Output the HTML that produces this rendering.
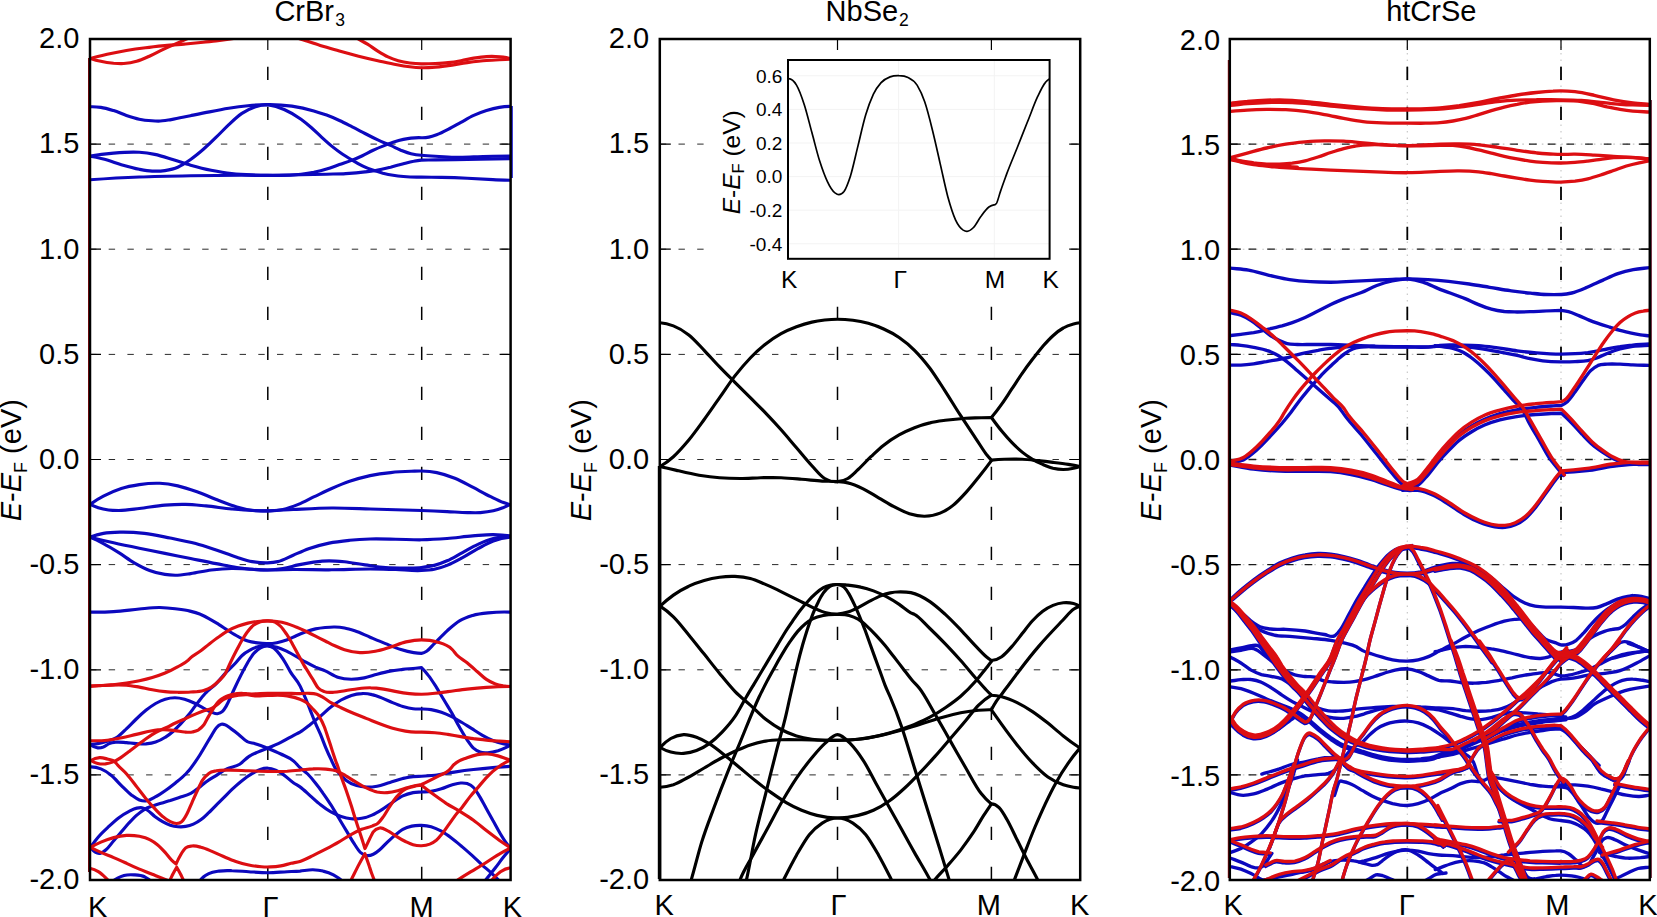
<!DOCTYPE html>
<html lang="en"><head><meta charset="utf-8"><title>Band structures: CrBr3, NbSe2, htCrSe</title>
<style>html,body{margin:0;padding:0;background:#fff}body{width:1657px;height:917px;overflow:hidden}svg{display:block}text{font-family:"Liberation Sans",sans-serif;fill:#000}.t{font-size:29px}.tt{font-size:29px}.s{font-size:17.5px}.s2{font-size:18px}.it{font-size:19px}.il{font-size:24.5px}.is{font-size:16.5px}.i{font-style:italic}.c{fill:none;stroke-width:3.15;stroke-linecap:round;stroke-linejoin:round}.r{stroke:#dc0e12}.b{stroke:#0c08be}.k{stroke:#000000}#panel3 .c{stroke-width:3.35}.g{stroke:#2a2a2a;stroke-width:1;stroke-dasharray:6.4 12.3;fill:none}.v{stroke:#000;stroke-width:1.5;stroke-dasharray:13.3 26.7;fill:none}.tk{stroke:#000;stroke-width:1.2;fill:none}.g3{stroke:#1a1a1a;stroke-width:1.3;stroke-dasharray:7.7 11;fill:none}.gd{stroke:#c4c4c4;stroke-width:1.1;stroke-dasharray:1.6 4.9;fill:none}.v3{stroke:#000;stroke-width:1.8;stroke-dasharray:13.3 26.7;fill:none}.fr{fill:none;stroke:#000;stroke-width:2.5}</style></head><body>
<svg width="1657" height="917" viewBox="0 0 1657 917">
<rect width="1657" height="917" fill="#fff"/>
<defs>
<clipPath id="cp0"><rect x="90" y="39" width="420.6" height="841"/></clipPath>
<clipPath id="cp1"><rect x="659.8" y="39" width="420.4" height="841"/></clipPath>
<clipPath id="cp2"><rect x="1229.8" y="39" width="420" height="841"/></clipPath>
</defs>
<g id="panel1">
<path class="g" d="M90 144.1H510.6"/>
<path class="tk" d="M90 144.1h11M510.6 144.1h-11"/>
<path class="g" d="M90 249.2H510.6"/>
<path class="tk" d="M90 249.2h11M510.6 249.2h-11"/>
<path class="g" d="M90 354.4H510.6"/>
<path class="tk" d="M90 354.4h11M510.6 354.4h-11"/>
<path class="g" d="M90 459.5H510.6"/>
<path class="tk" d="M90 459.5h11M510.6 459.5h-11"/>
<path class="g" d="M90 564.6H510.6"/>
<path class="tk" d="M90 564.6h11M510.6 564.6h-11"/>
<path class="g" d="M90 669.8H510.6"/>
<path class="tk" d="M90 669.8h11M510.6 669.8h-11"/>
<path class="g" d="M90 774.9H510.6"/>
<path class="tk" d="M90 774.9h11M510.6 774.9h-11"/>
<path class="v" d="M267.8 880V39"/>
<path class="tk" d="M267.8 39v11"/>
<path class="v" d="M421.7 880V39"/>
<path class="tk" d="M421.7 39v11"/>
<path d="M89.4 58V872" stroke="#8a0a0e" stroke-width="2.8" fill="none"/>
<path d="M511.4 106V178" stroke="#0a0acd" stroke-width="2.8" fill="none"/>
<g clip-path="url(#cp0)">
<path class="c b" d="M90.6 106.8C94 106.7 97.4 106.9 100.8 107.4C105.1 108 109.3 109.3 113.6 110.6C117.9 111.9 122.1 114 126.4 115.5C130.6 116.9 134.9 118.3 139.2 119.2C143.4 120.1 147.7 120.5 152 120.8C154.1 121 156.2 121.1 158.4 121.1C162.6 121 166.9 120.2 171.2 119.6C177.6 118.6 184 117 190.4 115.7C196.8 114.4 203.1 113.1 209.5 111.9C215.9 110.6 222.3 109.3 228.7 108.3C235.1 107.3 241.5 106.4 247.9 105.7C254.3 105.1 260.7 104.7 267.1 104.6C282.7 104.3 298.2 106.4 313.8 110.9C318.1 112.1 322.3 113.5 326.6 115.1C330.9 116.7 335.1 118.5 339.4 120.5C343.6 122.4 347.9 124.7 352.2 126.9C356.4 129 360.7 131.3 365 133.5C369.2 135.7 373.5 137.9 377.8 139.9C382 141.9 386.3 143.5 390.6 145.4C394 146.9 397.4 148.8 400.8 150.2C404.2 151.5 407.6 152.9 411 153.7C414.4 154.6 417.9 155.1 421.3 155.3C426 155.7 430.6 156 435.3 156.3C441.7 156.7 448.1 157.2 454.5 157.3C460.9 157.4 467.3 157.1 473.7 156.9C480.1 156.8 486.5 156.4 492.9 156.3C498.9 156.2 504.9 156.1 510.8 156"/>
<path class="c b" d="M90.1 156.2C94.5 156.9 98.9 157.9 103.4 159C109.4 160.5 115.4 162.9 121.3 164.7C127.3 166.4 133.3 168.1 139.3 169.3C143.6 170.1 147.8 170.9 152.1 171.1C156.4 171.3 160.7 171.2 164.9 170.6C169.2 169.9 173.5 169.1 177.8 167.2C182 165.4 186.3 162.5 190.6 159.5C194.9 156.5 199.1 153 203.4 149.3C207.7 145.5 212 141.4 216.2 137.2C220.5 133.1 224.8 128.4 229.1 124.4C233.3 120.4 237.6 116.3 241.9 113.4C246.2 110.5 250.4 108.4 254.7 106.9C259 105.5 263.3 104.7 267.5 104.6C278.7 106.3 289.8 111.1 301 119.2C304.4 121.7 307.8 124.5 311.2 127.5C314.6 130.5 318.1 134 321.5 137.1C324.9 140.2 328.3 143.3 331.7 146.1C335.1 148.8 338.5 151.4 341.9 153.7C345.4 156.1 348.8 158.1 352.2 160.1C355.6 162.2 359 164.2 362.4 165.9C365.8 167.6 369.2 168.9 372.6 170.1C376.1 171.3 379.5 172.3 382.9 173.2C386.3 174 389.7 174.7 393.1 175.2C396.5 175.8 399.9 176.2 403.4 176.5C409.3 177.1 415.3 177.3 421.3 177.1C428.1 177.2 434.9 177.3 441.7 177.4C450.3 177.6 458.8 177.9 467.3 178.3C475.9 178.7 484.4 179.2 492.9 179.6C498.9 179.9 504.9 180.1 510.8 180.3"/>
<path class="c b" d="M90.1 156.2C97.9 154.8 105.8 153.8 113.6 153.1C122.2 152.4 130.7 151.7 139.3 152.3C144.4 152.7 149.6 153.4 154.7 154.4C160.7 155.6 166.7 157.7 172.6 159.5C178.6 161.3 184.6 163.5 190.6 165.2C197.4 167.1 204.3 168.9 211.1 170.3C218 171.7 224.8 172.9 231.6 173.6C238.5 174.4 245.3 174.7 252.2 174.9C257.3 175.1 262.4 175.2 267.5 175.2C278.7 175.8 289.8 175.5 301 174.2C305.3 173.7 309.5 173.1 313.8 172.3C318.1 171.4 322.3 170.4 326.6 169.1C330.9 167.8 335.1 166.1 339.4 164.6C343.6 163.1 347.9 161.8 352.2 160.1C355.6 158.8 359 157.3 362.4 155.7C365.8 154.1 369.2 152.1 372.6 150.5C376.1 148.9 379.5 147.4 382.9 146.1C386.3 144.7 389.7 143.3 393.1 142.2C396.5 141.1 399.9 140.1 403.4 139.4C405.9 138.9 408.5 138.4 411 138.1C414.4 137.7 417.9 137.6 421.3 137.7C423.8 137.8 426.4 137.6 428.9 137.1C431.5 136.6 434.1 135.7 436.6 134.8C440.5 133.4 444.3 131.4 448.1 129.4C452.4 127.3 456.7 124.7 460.9 122.4C465.2 120 469.5 117.3 473.7 115.4C478 113.4 482.3 111.8 486.5 110.5C490.8 109.2 495 108.1 499.3 107.4C503.1 106.8 507 106.5 510.8 106.4"/>
<path class="c b" d="M90.1 179.8C106.5 178.6 122.9 177.6 139.3 177C156.4 176.3 173.5 176 190.6 175.7C216.2 175.3 241.9 175.2 267.5 175.4C278.7 175.3 289.8 175.1 301 174.8C309.5 174.7 318.1 174.5 326.6 174.2C333 174 339.4 174 345.8 173.6C352.2 173.2 358.6 172.7 365 171.9C369.2 171.4 373.5 170.9 377.8 170.1C382 169.3 386.3 168.2 390.6 167.2C394.8 166.1 399.1 164.8 403.4 163.7C406.8 162.8 410.2 161.8 413.6 161.2C416.1 160.7 418.7 160.3 421.3 160.1C426 160 430.6 160 435.3 159.9C441.7 159.8 448.1 159.7 454.5 159.6C463.1 159.5 471.6 159.3 480.1 159.1C490.4 158.9 500.6 158.7 510.8 158.6"/>
<path class="c b" d="M90.1 504.4C94.5 501.3 98.9 498.5 103.4 496.2C109.4 493 115.4 490.4 121.3 488.5C127.3 486.5 133.3 485.5 139.3 484.6C146.1 483.6 153 483 159.8 483.3C165.8 483.6 171.8 484.6 177.8 485.9C184.6 487.4 191.5 489.9 198.3 492.3C205.1 494.8 212 497.9 218.8 500.5C224.8 502.8 230.8 505.3 236.8 506.9C241.9 508.4 247 509.6 252.2 510.3C257.3 510.9 262.4 511.1 267.5 510.8C272.7 511 277.8 510.6 282.9 509.5C288.1 508.4 293.2 506.5 298.3 504.4C303.4 502.3 308.6 499.4 313.7 496.9C319.7 494.1 325.7 491.1 331.7 488.5C337.6 485.9 343.6 483.3 349.6 481.3C356.5 479 363.3 477.1 370.1 475.6C377 474.2 383.8 473.3 390.7 472.6C397.5 471.8 404.3 471.5 411.2 471.3C414.6 471.2 418 470.9 421.4 471C426.6 471.2 431.7 471.6 436.8 472.6C442.8 473.8 448.8 475.8 454.8 478.2C460.8 480.7 466.7 484.1 472.7 487.2C478.7 490.3 484.7 493.8 490.7 496.7C495 498.8 499.2 501 503.5 502.6C505.6 503.4 507.8 504 509.9 504.6"/>
<path class="c b" d="M90.1 504.4C92.8 505.7 95.5 506.8 98.3 507.7C101.7 508.8 105.1 509.5 108.5 510C111.9 510.5 115.4 510.5 118.8 510.5C125.6 510.5 132.5 509.3 139.3 508.5C147.8 507.5 156.4 505.8 164.9 505.1C171.8 504.6 178.6 504.2 185.5 504.4C192.3 504.5 199.1 505.3 206 505.9C214.5 506.7 223.1 508.2 231.6 509C238.5 509.6 245.3 510.2 252.2 510.5C257.3 510.7 262.4 510.8 267.5 510.8C276.1 510.7 284.6 509.9 293.2 509.5C306 508.9 318.8 508.1 331.7 508C344.5 507.9 357.3 508.6 370.1 509C387.2 509.5 404.3 509.9 421.4 510.5C430 510.8 438.5 511.2 447.1 511.6C453.9 511.9 460.8 512.5 467.6 512.6C471.9 512.7 476.2 512.9 480.4 512.6C484.7 512.3 489 511.8 493.3 510.8C496.7 510 500.1 508.8 503.5 507.5C505.6 506.6 507.8 505.7 509.9 504.6"/>
<path class="c b" d="M90.1 537.2C94.5 535.5 98.9 534.2 103.4 533.4C109.4 532.2 115.4 532.2 121.3 532.1C129 532 136.7 532.5 144.4 533.4C153 534.3 161.5 536.3 170.1 538C178.6 539.7 187.2 541.3 195.7 543.6C202.6 545.5 209.4 547.8 216.2 550C223.1 552.3 229.9 555.1 236.8 557.2C241.9 558.8 247 560.6 252.2 561.6C257.3 562.5 262.4 563.1 267.5 562.9C271 562.7 274.4 562.4 277.8 561.6C282.9 560.3 288.1 557.3 293.2 555.2C298.3 553 303.4 550.6 308.6 548.7C315.4 546.3 322.3 544.5 329.1 543.1C335.9 541.7 342.8 541 349.6 540.3C356.5 539.6 363.3 539.2 370.1 539C378.7 538.7 387.2 539.1 395.8 539.3C404.3 539.4 412.9 539.9 421.4 539.8C430 539.6 438.5 539.1 447.1 538.5C455.6 537.8 464.2 536.6 472.7 535.9C479.6 535.4 486.4 534.5 493.3 534.6C498.8 534.7 504.4 535.1 509.9 535.9"/>
<path class="c b" d="M90.1 537.2C97.9 539.2 105.8 541.1 113.6 542.8C122.2 544.8 130.7 546.5 139.3 548.2C147.8 550 156.4 551.7 164.9 553.4C173.5 555.1 182 556.8 190.6 558.5C199.1 560.2 207.7 562 216.2 563.6C223.1 564.9 229.9 566.5 236.8 567.5C241.9 568.2 247 568.8 252.2 569.3C257.3 569.7 262.4 570.2 267.5 570C272.7 569.9 277.8 569.4 282.9 568.5C288.1 567.6 293.2 566 298.3 564.9C303.4 563.8 308.6 562.8 313.7 562.1C318.8 561.4 324 560.8 329.1 560.8C334.2 560.8 339.4 561.3 344.5 561.8C351.3 562.5 358.2 564 365 564.9C371.8 565.8 378.7 567 385.5 567.5C392.4 568 399.2 568 406 568C411.2 567.9 416.3 568 421.4 567.5C425.7 567 430 566.5 434.3 565.4C438.5 564.3 442.8 562.7 447.1 560.8C452.2 558.6 457.3 555.3 462.5 552.6C467.6 549.9 472.7 546.7 477.9 544.4C483 542 488.1 539.8 493.3 538.5C498.8 537.1 504.4 536.4 509.9 536.4"/>
<path class="c b" d="M90.1 537.2C94.5 539.1 98.9 541.3 103.4 543.6C108.5 546.3 113.6 549.4 118.8 552.6C123.9 555.8 129 559.9 134.2 562.9C139.3 565.8 144.4 568.6 149.6 570.5C154.7 572.5 159.8 573.7 164.9 574.4C168.4 574.9 171.8 575.1 175.2 575.2C180.3 575.2 185.5 574.3 190.6 573.6C197.4 572.7 204.3 570.9 211.1 570C218 569.2 224.8 568.6 231.6 568.5C238.5 568.4 245.3 569 252.2 569.3C257.3 569.5 262.4 569.9 267.5 570C276.1 570.2 284.6 569.6 293.2 569.5C306 569.4 318.8 569.9 331.7 569.8C344.5 569.7 357.3 569 370.1 569C378.7 569 387.2 569.3 395.8 569.5C404.3 569.8 412.9 571 421.4 570.5C425.7 570.3 430 570.1 434.3 569.3C438.5 568.4 442.8 567.1 447.1 565.4C452.2 563.4 457.3 560.5 462.5 557.7C467.6 554.9 472.7 551.5 477.9 548.7C483 546 488.1 543 493.3 541.1C498.8 539 504.4 537.7 509.9 537.2"/>
<path class="c b" d="M90.1 612.1C97.9 612.2 105.8 612.1 113.6 611.6C122.2 611.1 130.7 609.8 139.3 609C146.1 608.4 153 607.4 159.8 607.5C164.9 607.6 170.1 608.1 175.2 608.8C180.1 609.4 185.1 609.9 190 611.1C193.2 611.9 196.4 612.7 199.7 614C202.9 615.3 206.1 617 209.3 618.8C212.5 620.6 215.7 622.6 219 624.6C222.2 626.6 225.4 628.9 228.6 630.9C231.8 632.9 235.1 635 238.3 636.7C241.5 638.3 244.7 640 247.9 641C251.2 642.1 254.4 642.5 257.6 642.9C261 643.4 264.4 643.7 267.7 643.6C270.8 643.6 273.8 643.3 276.9 642.7C280.1 642.1 283.3 641.2 286.6 640C289.8 638.9 293 637.1 296.2 635.7C299.4 634.3 302.7 633 305.9 631.8C309.1 630.7 312.3 629.7 315.5 628.9C318.7 628.2 322 627.8 325.2 627.5C328.4 627.2 331.6 626.9 334.8 627C338.1 627.1 341.3 627.4 344.5 628C347.9 628.6 351.3 629.7 354.7 630.8C359.9 632.5 365 635.1 370.1 637.2C375.3 639.4 380.4 641.6 385.5 643.6C390.7 645.7 395.8 648 400.9 649.5C405.2 650.9 409.5 652 413.7 652.6C416.3 653 418.9 653.3 421.4 653.4C423.1 653.1 424.9 652.4 426.6 651.3C429.1 649.7 431.7 646.2 434.3 643.6C438.5 639.4 442.8 634.7 447.1 630.8C451.4 627 455.6 623.1 459.9 620.6C464.2 618 468.5 616.7 472.7 615.4C477.9 613.9 483 613.4 488.1 612.9C495.4 612.1 502.7 611.8 509.9 612.1"/>
<path class="c b" d="M90.9 745C93.1 746.7 95.4 747.7 97.7 747.9C99.6 748.1 101.5 747.7 103.4 747C105.4 746.2 107.3 744.4 109.2 743.6C111.8 742.5 114.4 742.4 117 742.1C120.2 741.9 123.4 742.4 126.6 742.6C129.8 742.9 133.1 743.4 136.3 743.6C139.5 743.8 142.7 744.1 145.9 743.9C149.2 743.6 152.4 743.2 155.6 742.1C158.8 741 162 739.4 165.2 737.3C167.8 735.7 170.4 733.8 173 731.5C175.5 729.3 178.1 726.5 180.7 723.8C183.3 721.1 185.8 718.3 188.4 715.1C190.4 712.7 192.3 710 194.2 707.4C196.1 704.8 198.1 702.1 200 699.7C201.9 697.2 203.9 695 205.8 692.9C209.4 689.1 213 686.9 216.5 683.3C220 679.8 223.4 675.3 226.8 671.7C229.8 668.5 232.8 666 235.8 662.7C237.9 660.4 240 657.5 242.1 655.5C244.7 653.1 247.3 651.6 249.9 650.2C252.4 648.7 255 647.5 257.6 646.8C261 645.8 264.4 645.7 267.7 645.8C270.8 645.9 273.8 646.4 276.9 647.3C280.1 648.2 283.3 649.6 286.6 651.1C289.8 652.7 293 654.6 296.2 656.5C299.4 658.3 302.7 660.5 305.9 662.2C309.1 664 312.3 665.6 315.5 667.1C318.7 668.5 322 669.5 325.2 670.9C329.6 672.9 334.1 676.1 338.6 677.5C342.8 678.8 347.1 679.1 351.4 679.2C355.7 679.2 360 678.7 364.3 677.9C368.6 677.1 372.8 675.4 377.1 674.3C381.4 673.1 385.7 671.9 390 671.1C394.3 670.3 398.6 669.9 402.8 669.4C407.1 668.9 411.4 668.7 415.7 668.2C417.6 668 419.5 667.8 421.5 667.6C423.8 669.8 426.2 672.5 428.5 675.6C431.1 678.9 433.7 683.1 436.3 687.1C438.8 691.2 441.4 695.7 444 700C446.5 704.3 449.1 708.3 451.7 712.8C454.3 717.3 456.8 722.5 459.4 727C462 731.5 464.5 736.1 467.1 739.8C469.3 743 471.4 746.2 473.5 748.2C475.7 750.2 477.8 751.3 480 752.1C482.5 753 485.1 752.8 487.7 752.7C491.1 752.6 494.5 751.9 498 750.8C500.5 749.9 503.1 748.8 505.7 747.6C507.4 746.8 509.1 745.9 510.8 745"/>
<path class="c b" d="M90.9 744.3C93.1 744.2 95.4 744 97.7 743.6C100.9 743.1 104.1 742.2 107.3 741.2C110.5 740.1 113.7 739.4 117 737.3C120.2 735.2 123.4 731.7 126.6 728.6C129.8 725.6 133.1 722 136.3 719C139.5 715.9 142.7 712.9 145.9 710.3C149.2 707.7 152.4 705.4 155.6 703.5C158.8 701.7 162 700.1 165.2 699.2C168.5 698.2 171.7 697.7 174.9 697.7C178.1 697.7 181.3 698.3 184.6 699.2C187.8 700.1 191 701.5 194.2 703C197.4 704.6 200.7 706.7 203.9 708.3C206.4 709.7 209 711.3 211.6 712.2C213.5 712.9 215.5 713.9 217.4 713.7C219 713.5 220.6 713.2 222.2 711.7C223.5 710.5 224.8 708.6 226.1 706.4C227.4 704.2 228.7 701.4 229.9 698.7C231.2 696 232.5 692.8 233.8 690C236.6 683.9 239.4 678.2 242.1 672.9C244.1 669.2 246 665.5 247.9 662.2C249.9 659 251.8 655.9 253.7 653.6C256 650.8 258.2 649 260.5 647.8C262.9 646.4 265.3 645.8 267.7 646C269.8 646.2 271.9 646.7 274 648.2C275.9 649.7 277.9 652 279.8 654.5C281.7 657 283.7 660 285.6 663.2C287.2 665.9 288.8 669.2 290.4 671.9C293.6 677.3 296.8 679.6 300 685.9C301.7 689.2 303.4 693.3 305.1 697.4C306.9 701.5 308.6 706 310.3 710.3C312 714.6 313.7 719.1 315.4 723.1C317.1 727.2 318.9 730.6 320.6 734.7C322.3 738.8 324 743.5 325.7 747.6C327.4 751.6 329.1 755.5 330.9 759.1C332.6 762.8 334.3 766.8 336 769.4C336.8 770.7 337.7 771.7 338.6 772.7C341.1 775.8 343.7 778.4 346.3 780.4C349.7 783.1 353.1 784.5 356.6 785.6C360 786.7 363.4 787 366.8 787.1C370.3 787.2 373.7 786.8 377.1 786.2C381.4 785.4 385.7 783.6 390 782.4C394.3 781.1 398.6 779.5 402.8 778.5C406.3 777.7 409.7 776.9 413.1 776.6C415.9 776.3 418.7 776.4 421.5 776.3C426 776.1 430.5 775.8 435 775.3C441.4 774.6 447.8 773 454.3 772.1C460.7 771.1 467.1 770.2 473.5 769.5C480 768.7 486.4 768.1 492.8 767.6C498.8 767.1 504.8 766.6 510.8 766.3"/>
<path class="c b" d="M90.6 766.9C94 766.8 97.4 767.5 100.9 768.9C104.3 770.2 107.7 772.5 111.1 775.3C114.6 778.1 118 782.2 121.4 785.6C124.8 788.9 128.3 792.6 131.7 795.2C134.3 797.1 136.8 799 139.4 800C141.6 800.8 143.7 801.2 145.8 801C148.8 800.7 151.8 798.7 154.8 797.1C158.3 795.4 161.7 793.1 165.1 790.7C168.6 788.4 172 785.8 175.4 783C178.8 780.2 182.3 777.5 185.7 774C186.6 773.1 187.5 772.2 188.4 771.1C190.4 768.9 192.3 766.1 194.2 763.4C196.1 760.6 198.1 757.8 200 754.7C201.9 751.6 203.9 748.3 205.8 745C207.7 741.8 209.7 738.5 211.6 735.4C213.2 732.8 214.8 729.5 216.4 727.7C218 725.8 219.6 724.7 221.3 724.3C222.5 724 223.8 724.3 225.1 724.8C227 725.4 229 727.3 230.9 728.6C233.5 730.4 236.1 732.4 238.6 734.4C241.5 736.7 244.4 740.1 247.3 741.7C249.9 743 252.5 742.9 255.1 743.7C259.3 744.9 263.4 746.5 267.6 748.2C272 750 276.4 751.8 280.8 754C285.1 756.1 289.4 757.3 293.7 761.1C295.8 762.9 297.9 765.6 300 767.6C302.6 770 305.1 771.4 307.7 774C310.3 776.6 312.9 779.8 315.4 783C318 786.2 320.6 789.6 323.1 793.3C325.7 796.9 328.3 800.8 330.9 804.8C333.4 808.9 336 813.4 338.6 817.7C341.1 822 343.7 826.3 346.3 830.6C348.8 834.8 351.4 839.5 354 843.4C356.1 846.7 358.3 850.4 360.4 852.4C362.6 854.4 364.7 855.3 366.8 855.6C369 855.9 371.1 855.3 373.3 854.3C375.4 853.4 377.6 851.6 379.7 849.8C382.3 847.7 384.8 844.6 387.4 842.1C390 839.7 392.6 837.2 395.1 835.1C397.7 832.9 400.3 830.7 402.8 829.3C405.8 827.6 408.8 826.7 411.8 826.1C415 825.4 418.3 825.3 421.5 825.4C424.7 825.5 427.9 825.8 431.1 826.7C434.5 827.7 438 829.3 441.4 831.2C444.8 833.1 448.3 835.7 451.7 838.3C455.1 840.8 458.5 843.7 462 846.6C465.4 849.5 468.8 852.5 472.3 855.6C475.7 858.7 479.1 862.2 482.5 865.3C486 868.4 489.4 871 492.8 874.3C495.4 876.7 498 879.4 500.5 882.2"/>
<path class="c b" d="M90.6 847.3C92.3 849.7 94 851.4 95.7 852.4C97.4 853.4 99.1 853.5 100.9 853.1C102.6 852.6 104.3 851.3 106 849.8C108.6 847.7 111.1 843.8 113.7 840.8C116.3 837.8 118.9 834.8 121.4 831.8C124 828.8 126.6 825.6 129.1 822.8C131.7 820.1 134.3 817.4 136.8 815.1C139.4 812.9 142 810.8 144.6 809.3C147.1 807.8 149.7 807.1 152.3 806.1C154.8 805.2 157.4 804.4 160 803.6C163.4 802.5 166.8 801.4 170.3 800.4C173.7 799.3 177.1 798.3 180.6 797.1C184 796 187.4 795.1 190.8 793.3C193.4 791.9 196 790.1 198.5 788.1C201.1 786.2 203.7 783.6 206.3 781.7C209.7 779.2 213.1 777.4 216.5 775.3C220 773.1 223.4 770.6 226.8 768.9C231.1 766.7 235.4 767.1 239.7 764.3C242.7 762.3 245.7 758.6 248.7 756.6C251.7 754.5 254.7 753.4 257.7 752.1C261 750.6 264.3 749.5 267.6 748.2C272 746.4 276.4 744.6 280.8 742.4C285.1 740.3 289.4 737.6 293.7 735.3C295.8 734.2 297.9 733.4 300 732.1C303.4 730.1 306.9 727.1 310.3 724.4C313.7 721.7 317.1 719 320.6 716.1C324 713.2 327.4 709.7 330.9 707.1C334.3 704.4 337.7 701.9 341.1 700C344.6 698.1 348 696.6 351.4 695.5C354.8 694.4 358.3 693.7 361.7 693.6C365.1 693.4 368.6 693.8 372 694.6C375.4 695.3 378.8 696.7 382.3 698.1C385.7 699.4 389.1 701.2 392.6 702.6C396 704 399.4 705.4 402.8 706.4C406.3 707.4 409.7 708.3 413.1 708.7C415.9 709.1 418.7 708.9 421.5 709C424.7 709.1 427.9 709.1 431.1 709.6C434.5 710.2 438 711 441.4 712.2C444.8 713.4 448.3 715 451.7 716.7C455.1 718.4 458.5 720.5 462 722.5C465.4 724.5 468.8 726.8 472.3 728.9C475.7 731.1 479.1 733.4 482.5 735.3C486 737.3 489.4 739.1 492.8 740.5C496.2 741.9 499.7 742.9 503.1 743.7C505.7 744.3 508.2 744.7 510.8 745"/>
<path class="c b" d="M90.6 847.3C93.1 843.5 95.7 840 98.3 837C101.7 832.9 105.1 829.9 108.6 826.7C112 823.5 115.4 820.3 118.9 817.7C122.3 815.1 125.7 813 129.1 811.3C131.7 810 134.3 808.6 136.8 808.1C138.6 807.7 140.3 807.4 142 807.7C143.7 808 145.4 809 147.1 810C149.7 811.5 152.3 814.5 154.8 816.4C157.4 818.3 160 820.1 162.6 821.6C165.1 823 167.7 824.3 170.3 825.2C172.8 826 175.4 826.5 178 826.7C180.6 826.9 183.1 826.9 185.7 826.4C188.3 826 190.8 825.3 193.4 824.1C196 823 198.5 821.6 201.1 819.6C203.7 817.7 206.3 815 208.8 812.6C211.4 810.1 214 807.4 216.5 804.8C219.1 802.3 221.7 799.7 224.3 797.1C226.8 794.6 229.4 791.9 232 789.4C235.4 786.2 238.8 783.1 242.3 780.4C245.7 777.7 249.1 775.3 252.5 773.4C255.1 771.9 257.7 770.4 260.3 769.5C262.8 768.6 265.4 768.1 268 768.2C270.5 768.3 273.1 769.1 275.7 770.1C278.2 771.2 280.8 772.9 283.4 774.6C286.8 777 290.2 780.6 293.7 783C295.8 784.4 297.9 785.4 300 786.9C303.4 789.3 306.9 792.9 310.3 795.9C313.7 798.9 317.1 802.2 320.6 804.8C324 807.5 327.4 810 330.9 811.9C334.3 813.8 337.7 815.3 341.1 816.4C344.6 817.6 348 818.4 351.4 818.7C354.8 819.1 358.3 818.9 361.7 818.3C365.1 817.7 368.6 816.6 372 815.1C375.4 813.6 378.8 811.5 382.3 809.3C385.7 807.2 389.1 804.5 392.6 802.3C396 800 399.4 797.5 402.8 795.9C406.3 794.2 409.7 793.3 413.1 792.6C415.9 792.1 418.7 792.2 421.5 792C424.7 791.8 427.9 791.9 431.1 791.4C434.5 790.8 438 789.9 441.4 788.8C444.8 787.7 448.3 785.9 451.7 784.9C454.7 784.1 457.7 783.1 460.7 783C462.8 782.9 465 782.9 467.1 783.6C469.3 784.4 471.4 785.2 473.5 787.5C475.7 789.7 477.8 793.6 480 797.1C482.1 800.7 484.2 804.8 486.4 808.7C488.5 812.6 490.7 816.4 492.8 820.3C495 824.1 497.1 828.2 499.2 831.8C501.4 835.5 503.5 839.1 505.7 842.1C507.4 844.5 509.1 846.7 510.8 848.6"/>
<path class="c b" d="M111.1 882.2C113.3 880.6 115.4 879.2 117.6 878.1C119.7 877 121.9 876.1 124 875.5C127.4 874.6 130.8 874.7 134.3 874.9C137.7 875.1 141.1 875.2 144.6 876.8C147.1 878.1 149.7 879.9 152.3 882.2"/>
<path class="c b" d="M198.5 882.2C200.3 880.1 202 878.3 203.7 876.8C205.4 875.4 207.1 874.5 208.8 873.6C212.3 871.9 215.7 871.6 219.1 871.1C223.4 870.4 227.7 870.6 232 870.7C237.5 870.7 243.1 871.4 248.7 871.7C255.1 872.1 261.5 872.7 268 872.7C274.4 872.7 280.8 872 287.2 871.7C291.5 871.5 295.7 871.4 300 871.1C304.3 870.7 308.6 869.7 312.9 869.8C316.3 869.9 319.7 870.2 323.1 871.1C326.6 871.9 330 873 333.4 874.9C336.8 876.8 340.3 879.2 343.7 882.2"/>
<path class="c b" d="M483.8 882.2C487.7 877.6 491.5 872.8 495.4 867.8C498 864.5 500.5 860.8 503.1 857.6C505.7 854.3 508.2 851.3 510.8 848.6"/>
<path class="c r" d="M90.6 58.4C96.1 56.9 101.6 55.6 107.2 54.3C113.6 52.9 120 51.6 126.4 50.5C132.8 49.4 139.2 48.5 145.6 47.7C152 46.8 158.4 46.2 164.8 45.6C171.2 45 177.6 44.6 184 44.1C190.4 43.5 196.8 42.8 203.1 42.2C207.4 41.7 211.7 41.4 215.9 40.9C220.2 40.4 224.5 39.8 228.7 39.2C235.1 38.3 241.5 37.4 247.9 36.4"/>
<path class="c r" d="M90.6 58.4C94 59.6 97.4 60.6 100.8 61.3C105.1 62.3 109.3 62.9 113.6 63.3C117 63.5 120.4 63.7 123.8 63.5C128.1 63.3 132.4 62.6 136.6 61.3C140.9 60.1 145.1 58.1 149.4 56.2C153.7 54.3 157.9 51.9 162.2 49.8C166.5 47.8 170.7 46 175 44.1C178.4 42.6 181.8 41.1 185.2 39.6C188.6 38.1 192.1 36.6 195.5 35.1"/>
<path class="c r" d="M285.6 34.5C290.8 36 295.9 37.6 301 39.2C307.4 41.2 313.8 43.4 320.2 45.4C326.6 47.3 333 49.3 339.4 51.1C345.8 52.9 352.2 54.6 358.6 56.2C365 57.8 371.4 59.3 377.8 60.7C384.2 62.1 390.6 63.6 397 64.8C401.2 65.6 405.5 66.3 409.8 66.8C413.6 67.3 417.4 67.7 421.3 67.7C426 67.8 430.6 67.5 435.3 67.1C439.6 66.7 443.9 66.1 448.1 65.6C454.5 64.7 460.9 63.5 467.3 62.6C473.7 61.8 480.1 61 486.5 60.5C490.8 60.1 495 59.9 499.3 59.7C503.1 59.5 507 59.3 510.8 59.2"/>
<path class="c r" d="M352.2 34.5C354.3 36.2 356.4 37.8 358.6 39.2C361.6 41.2 364.5 42.3 367.5 44.1C370.9 46.2 374.4 49 377.8 51.1C381.2 53.2 384.6 55.3 388 56.9C391.4 58.5 394.8 59.7 398.2 60.7C402.1 61.8 405.9 62.5 409.8 63C413.6 63.5 417.4 63.8 421.3 63.9C426 64 430.6 63.8 435.3 63.5C439.6 63.3 443.9 63.1 448.1 62.6C452.4 62.2 456.7 61.5 460.9 60.7C465.2 60 469.5 58.8 473.7 58.1C478 57.5 482.3 56.9 486.5 56.6C489.5 56.4 492.5 56.4 495.5 56.5C498 56.6 500.6 56.7 503.1 57.1C505.7 57.5 508.3 58.1 510.8 58.8"/>
<path class="c r" d="M90.6 686.1C94 686 97.4 685.8 100.9 685.6C105.1 685.3 109.4 685 113.7 684.6C118 684.1 122.3 683.7 126.6 683C130.8 682.4 135.1 681.6 139.4 680.7C143.7 679.8 148 678.8 152.3 677.5C156.6 676.2 160.8 674.8 165.1 673C169.4 671.2 173.7 669 178 666.6C181.4 664.6 184.8 663.4 188.3 660.1C188.8 659.6 189.4 658.9 190 658.4C193.2 655.3 196.4 654 199.7 651.6C202.9 649.2 206.1 646.4 209.3 643.9C212.5 641.4 215.7 638.9 219 636.7C222.2 634.4 225.4 632.2 228.6 630.4C231.8 628.6 235.1 627.2 238.3 626C241.5 624.8 244.7 623.9 247.9 623.1C251.2 622.4 254.4 621.9 257.6 621.5C261 621.1 264.4 620.9 267.7 620.9C270.8 620.9 273.8 621.1 276.9 621.5C280.1 621.9 283.3 622.5 286.6 623.4C289.8 624.3 293 625.7 296.2 627C299.4 628.3 302.7 629.8 305.9 631.3C309.1 632.9 312.3 634.6 315.5 636.2C318.7 637.8 322 639.4 325.2 641C328.4 642.6 331.6 644.4 334.8 645.8C338.1 647.3 341.3 648.7 344.5 649.7C349.6 651.3 354.7 652.4 359.9 652.6C365 652.9 370.1 652.3 375.3 651.3C380.4 650.4 385.5 648.6 390.7 647C395.8 645.4 400.9 643 406 641.9C411.2 640.7 416.3 639.8 421.4 639.8C426.6 639.8 431.7 640.2 436.8 641.9C442 643.5 447.1 644.3 452.2 649.5C453.8 651.1 455.3 653.4 456.8 655C460.3 658.6 463.7 659.9 467.1 662.7C470.5 665.5 474 668.7 477.4 671.7C480.4 674.3 483.4 677.4 486.4 679.4C489.4 681.5 492.4 682.8 495.4 683.9C498 684.9 500.5 685.4 503.1 685.9C505.7 686.3 508.2 686.5 510.8 686.5"/>
<path class="c r" d="M90.6 686.1C96.1 685.7 101.7 685.4 107.3 685.2C113.7 685 120.1 684.6 126.6 685.2C130.8 685.6 135.1 686.4 139.4 687.1C143.7 687.9 148 689 152.3 689.7C156.6 690.5 160.8 691.2 165.1 691.6C169.4 692.1 173.7 692.2 178 692.3C182.3 692.3 186.6 692.3 190.8 692C195.1 691.7 199.4 691.7 203.7 690.4C206.3 689.6 208.8 688.7 211.4 687.1C214 685.5 216.5 683.3 219.1 680.7C221.3 678.5 223.5 676.8 225.7 672.9C227.3 670 228.9 665.6 230.6 662.2C232.5 658.2 234.4 654.4 236.3 650.7C238.3 647 240.2 643.3 242.1 640C244.1 636.8 246 633.8 247.9 631.3C249.9 628.9 251.8 626.6 253.7 625.1C256 623.2 258.2 622.4 260.5 621.7C262.9 620.9 265.3 620.8 267.7 620.9C270.1 621 272.6 621 275 622.2C276.9 623.1 278.8 624.5 280.8 626.5C282.7 628.5 284.6 631.3 286.6 634.2C288.5 637.1 290.4 640.5 292.4 643.9C294.3 647.3 296.2 651 298.1 654.5C300.1 658.1 302 661.9 303.9 665.1C305.6 667.9 307.2 670.3 308.8 672.9C310.1 675.1 311.5 677.2 312.9 679.4C314.6 682.2 316.3 685.8 318 687.8C320.1 690.3 322.3 690.8 324.4 691.6C327.4 692.8 330.4 692.3 333.4 692.3C337.3 692.2 341.1 691.3 345 690.7C349.3 690.1 353.6 689.2 357.8 688.7C362.1 688.2 366.4 687.7 370.7 687.8C375 687.8 379.3 688.4 383.6 689.1C387.8 689.7 392.1 690.9 396.4 691.6C400.7 692.4 405 693.1 409.3 693.6C413.3 694 417.4 694.2 421.5 694.2C426 694.2 430.5 693.8 435 693.3C439.3 692.9 443.5 692.2 447.8 691.6C454.3 690.8 460.7 689.8 467.1 689.1C473.5 688.4 480 687.8 486.4 687.4C494.5 686.9 502.7 686.6 510.8 686.5"/>
<path class="c r" d="M90.9 740.7C96.4 740.9 101.8 740.8 107.3 740.2C112.1 739.7 117 738.8 121.8 737.8C126.6 736.8 131.5 735.5 136.3 734.4C141.1 733.3 145.9 731.9 150.8 731C154.9 730.3 159.1 729.6 163.3 729.6C167.2 729.5 171 730.1 174.9 730.6C178.1 730.9 181.3 731.8 184.6 732C187.1 732.2 189.7 732.5 192.3 732C194.2 731.6 196.1 731.3 198.1 730.1C200 728.9 201.9 727.5 203.9 724.8C205.5 722.5 207.1 718.8 208.7 716.1C210.3 713.3 211.9 710.8 213.5 708.3C215.1 705.9 216.7 703.4 218.4 701.6C220.6 699.1 222.9 697.9 225.1 696.8C227.7 695.4 230.3 694.9 232.8 694.3C236.1 693.6 239.3 693.3 242.5 693.4C244.6 693.4 246.6 693.8 248.7 693.9C255 694.3 261.3 693.4 267.6 693.3C274.1 693.2 280.7 693.2 287.2 693.3C291.5 693.4 295.7 693.6 300 693.6C302.6 693.5 305.1 693.2 307.7 693.3C310.7 693.4 313.7 693.2 316.7 694.2C318.9 694.9 321 696.2 323.1 697.4C325.7 698.9 328.3 701 330.9 702.6C334.3 704.6 337.7 706.1 341.1 707.7C345.4 709.8 349.7 711.7 354 713.5C358.3 715.3 362.6 716.9 366.8 718.6C371.1 720.3 375.4 722.2 379.7 723.8C384 725.4 388.3 727 392.6 728.3C396.8 729.5 401.1 730.4 405.4 731.1C408.8 731.6 412.3 732 415.7 732.1C417.6 732.2 419.5 732.1 421.5 732.1C426 732.2 430.5 732.4 435 732.8C439.3 733.2 443.5 733.8 447.8 734.4C452.1 735.1 456.4 735.9 460.7 736.6C465 737.3 469.3 738 473.5 738.6C477.8 739.1 482.1 739.7 486.4 740.1C490.7 740.5 495 740.8 499.2 741.1C503.1 741.4 507 741.6 510.8 741.8"/>
<path class="c r" d="M90.9 760.5C93.1 761.8 95.4 762.8 97.7 763.4C100.2 764 102.8 764.1 105.4 763.9C108 763.6 110.5 763 113.1 761.9C115.7 760.9 118.3 759.3 120.8 757.6C123.4 755.9 126 753.7 128.6 751.8C131.1 749.9 133.7 747.9 136.3 746C138.9 744.1 141.4 742.1 144 740.2C146.6 738.4 149.2 736.5 151.7 734.9C154.3 733.3 156.9 731.8 159.5 730.6C162 729.3 164.6 728.4 167.2 727.2C169.8 726 172.3 724.5 174.9 723.3C178.1 721.8 181.3 720.4 184.6 719C187.8 717.5 191 716 194.2 714.6C197.4 713.3 200.7 711.9 203.9 710.8C206.4 709.9 209 709.7 211.6 708.3C213.5 707.4 215.5 705.9 217.4 704.5C219.3 703 221.3 700.9 223.2 699.7C225.8 698 228.3 697.5 230.9 696.8C233.5 696 236.1 695.6 238.6 695.3C241.5 694.9 244.4 694.7 247.3 694.8C249.9 694.9 252.5 695.7 255.1 695.9C259.3 696.2 263.4 695.5 267.6 695.5C274.1 695.4 280.7 694.7 287.2 695.9C291.5 696.6 295.7 697.5 300 699.3C302.1 700.3 304.3 701 306.4 702.6C308.6 704.2 310.7 706.6 312.9 709C315 711.3 317.1 713.2 319.3 716.7C321 719.5 322.7 722.6 324.4 727C325.7 730.3 327 734.7 328.3 738.6C329.6 742.4 330.9 746.3 332.1 750.1C333.4 754 334.7 758.2 336 761.7C336.4 762.8 336.8 763.9 337.3 765C338.6 768.4 339.8 772.9 341.1 776.6C342.8 781.5 344.6 785.8 346.3 790.7C348 795.6 349.7 800.8 351.4 806.1C353.1 811.5 354.8 817.5 356.6 822.8C358.3 828.2 360 832.9 361.7 838.3C362.8 841.6 363.8 845 364.9 848.6C366 846.4 367.1 844.3 368.1 842.1C369.8 838.7 371.6 834.2 373.3 831.8C375.4 828.9 377.6 828.4 379.7 828C382.3 827.5 384.8 829.3 387.4 830.6C390.4 832 393.4 834.5 396.4 836.3C399.4 838.2 402.4 840 405.4 841.5C408 842.7 410.5 844 413.1 844.7C415.9 845.5 418.7 845.8 421.5 845.7C424.3 845.6 427 845.2 429.8 844.1C432 843.1 434.1 842 436.3 840.2C438.4 838.4 440.5 835.8 442.7 833.1C444.8 830.5 447 827.1 449.1 824.1C451.3 821.1 453.4 817.9 455.5 815.1C457.7 812.3 459.8 810.1 462 807.4C464.5 804.2 467.1 800.4 469.7 797.1C472.3 793.9 474.8 791.1 477.4 788.1C480 785.1 482.5 781.9 485.1 779.1C487.7 776.4 490.2 773.7 492.8 771.4C495.4 769.2 498 767.3 500.5 765.5C504 763.2 507.4 761.3 510.8 759.8"/>
<path class="c r" d="M90.9 760.5C93.8 758.7 96.7 757.8 99.6 757.6C102.2 757.4 104.7 758.3 107.3 759C109.9 759.8 112.5 759.3 115 761.9C115.9 762.8 116.7 764 117.6 765C120.6 768.5 123.6 770.6 126.6 774C130 777.8 133.4 782.5 136.8 786.9C139.8 790.7 142.8 794.8 145.8 798.4C148.8 802.1 151.8 805.5 154.8 808.7C157.4 811.4 160 814.3 162.6 816.4C165.1 818.6 167.7 820.4 170.3 821.6C172.4 822.6 174.6 823.6 176.7 823.5C178.4 823.4 180.1 823.2 181.8 821.6C183.6 820 185.3 817.1 187 813.8C188.7 810.6 190.4 806.1 192.1 802.3C193.8 798.4 195.5 794.4 197.3 790.7C199 787.1 200.7 783.2 202.4 780.4C204.5 777 206.7 775 208.8 773.4C211.4 771.4 214 771.4 216.5 770.8C220.8 769.8 225.1 770.2 229.4 770.1C235.8 770 242.3 770.6 248.7 770.8C255.1 771 261.5 771.4 268 771.4C274.4 771.5 280.8 771.5 287.2 771.2C291.5 770.9 295.7 770.5 300 770.1C304.3 769.8 308.6 769 312.9 768.9C317.1 768.7 321.4 768.7 325.7 769.1C329.1 769.5 332.6 769.6 336 770.8C339 771.8 342 773.6 345 775.3C348.4 777.2 351.8 779.7 355.3 781.7C359.1 784 363 786.4 366.8 788.1C370.3 789.7 373.7 791.2 377.1 792C380.6 792.7 384 792.9 387.4 792.6C390.8 792.4 394.3 791.6 397.7 790.7C401.1 789.9 404.6 788.4 408 787.5C412.5 786.3 417 785.3 421.5 784.5C423.8 783.4 426.2 782.2 428.5 781.1C432 779.4 435.4 777.7 438.8 775.9C442.3 774.1 445.7 773.4 449.1 770.1C450.8 768.5 452.5 765.9 454.3 764.3C458.5 760.2 462.8 759.5 467.1 757.8C470.5 756.5 474 755.3 477.4 754.6C480.8 754 484.2 753.8 487.7 754C491.1 754.2 494.5 755 498 755.9C500.5 756.6 503.1 757.6 505.7 758.5C507.4 759.1 509.1 759.7 510.8 760.4"/>
<path class="c r" d="M90.6 847.3C94 845.3 97.4 843.6 100.9 842.1C105.1 840.3 109.4 838.7 113.7 837.6C118 836.5 122.3 835.7 126.6 835.4C130.8 835.2 135.1 835.5 139.4 836.3C142.8 837 146.3 837.8 149.7 839.6C152.3 840.9 154.8 842.6 157.4 844.7C160 846.8 162.6 849.6 165.1 852.4C167.3 854.8 169.4 858 171.6 860.1C173.1 861.6 174.6 862.9 176.1 864C177.6 860.5 179.1 857.5 180.6 855C182.3 852.1 184 849.4 185.7 847.9C187.8 846 190 846.2 192.1 846C195.1 845.6 198.1 846.5 201.1 847.3C204.5 848.1 208 849.7 211.4 851.1C215.3 852.7 219.1 854.6 223 856.3C227.3 858.1 231.5 860 235.8 861.4C240.1 862.9 244.4 864.1 248.7 865C253 865.9 257.3 866.5 261.5 866.8C264.5 867 267.5 867.1 270.5 866.9C274 866.8 277.4 866.5 280.8 865.9C284.2 865.3 287.7 864.1 291.1 863.3C294.1 862.6 297 862.3 300 861.4C304.3 860.1 308.6 857.7 312.9 855.6C317.1 853.6 321.4 851.4 325.7 849.2C330 846.9 334.3 844.6 338.6 842.1C342.8 839.7 347.1 836.7 351.4 834.4C354.8 832.5 358.3 830.7 361.7 829.3C365.1 827.9 368.6 827.5 372 826.1C374.1 825.1 376.3 824.8 378.4 822.8C380.1 821.3 381.8 818.8 383.6 816.4C385.7 813.4 387.8 809.3 390 806.1C392.1 802.9 394.3 799.7 396.4 797.1C398.6 794.6 400.7 792.3 402.8 790.7C405.8 788.4 408.8 787.7 411.8 786.9C415 785.9 418.3 785.4 421.5 785.3C425.5 788.5 429.6 791.6 433.7 794.6C438 797.7 442.3 800.8 446.5 803.6C451.3 806.6 456 809 460.7 811.9C465 814.6 469.3 817.2 473.5 820.3C477.8 823.4 482.1 827.2 486.4 830.6C490.7 833.9 495 837.2 499.2 840.2C503.1 842.9 507 845.5 510.8 847.9"/>
<path class="c r" d="M90.6 847.3C94 849.1 97.4 850.8 100.9 852.4C105.1 854.4 109.4 855.7 113.7 857.6C118 859.4 122.3 861.4 126.6 863.3C130.8 865.3 135.1 867.3 139.4 869.1C143.7 870.9 148 872.5 152.3 874.3C156.6 876 160.8 877.6 165.1 879.4C167.3 880.3 169.4 881.3 171.6 882.2"/>
<path class="c r" d="M169 882.2C170.3 879.4 171.6 876.8 172.8 874.3C174.1 871.8 175.4 869.4 176.7 867.2C178 869.4 179.3 871.8 180.6 874.3C181.8 876.8 183.1 879.4 184.4 882.2"/>
<path class="c r" d="M350.1 882.2C351.4 879.5 352.7 876.9 354 874.3C355.3 871.6 356.6 869 357.8 866.6C360.2 862 362.6 857.7 364.9 853.7C366.4 857.8 367.9 862.1 369.4 866.6C370.3 869.1 371.1 871.9 372 874.3C373.1 877.2 374.1 879.9 375.2 882.2"/>
<path class="c r" d="M90.6 868.5C93.1 869 95.7 870.1 98.3 871.7C100.9 873.3 103.4 875.6 106 878.1C107.3 879.4 108.6 880.8 109.9 882.2"/>
<path class="c r" d="M490.2 882.2C493.7 877.6 497.1 874.1 500.5 871.7C504 869.3 507.4 868 510.8 867.8"/>
<path class="c r" d="M454.3 882.2C459.8 878.6 465.4 875.1 471 871.7C475.3 869.1 479.5 866.7 483.8 864C488.1 861.3 492.4 858.2 496.7 855.6C501.4 852.8 506.1 850.2 510.8 847.9"/>
</g>
<rect class="fr" x="90" y="39" width="420.6" height="841"/>
<text class="t" text-anchor="end" x="79.4" y="48.3">2.0</text>
<text class="t" text-anchor="end" x="79.4" y="153.4">1.5</text>
<text class="t" text-anchor="end" x="79.4" y="258.6">1.0</text>
<text class="t" text-anchor="end" x="79.4" y="363.7">0.5</text>
<text class="t" text-anchor="end" x="79.4" y="468.8">0.0</text>
<text class="t" text-anchor="end" x="79.4" y="573.9">-0.5</text>
<text class="t" text-anchor="end" x="79.4" y="679">-1.0</text>
<text class="t" text-anchor="end" x="79.4" y="784.2">-1.5</text>
<text class="t" text-anchor="end" x="79.4" y="889.3">-2.0</text>
<text class="t" transform="translate(21.3 521.3) rotate(-90)"><tspan class="i">E</tspan>-<tspan class="i">E</tspan><tspan class="s2" dy="5.3">F</tspan><tspan dy="-5.3"> (eV)</tspan></text>
<text class="tt" x="274.4" y="20.7">CrBr</text><text class="s" x="335.2" y="26.3">3</text>
<text class="t" text-anchor="middle" x="97.7" y="916.6">K</text>
<text class="t" text-anchor="middle" x="270.6" y="916.6">Γ</text>
<text class="t" text-anchor="middle" x="421.7" y="916.6">M</text>
<text class="t" text-anchor="middle" x="512.5" y="916.6">K</text>
</g>
<g id="panel2">
<path class="g" d="M659.8 144.1H1080.2"/>
<path class="tk" d="M659.8 144.1h11M1080.2 144.1h-11"/>
<path class="g" d="M659.8 249.2H1080.2"/>
<path class="tk" d="M659.8 249.2h11M1080.2 249.2h-11"/>
<path class="g" d="M659.8 354.4H1080.2"/>
<path class="tk" d="M659.8 354.4h11M1080.2 354.4h-11"/>
<path class="g" d="M659.8 459.5H1080.2"/>
<path class="tk" d="M659.8 459.5h11M1080.2 459.5h-11"/>
<path class="g" d="M659.8 564.6H1080.2"/>
<path class="tk" d="M659.8 564.6h11M1080.2 564.6h-11"/>
<path class="g" d="M659.8 669.8H1080.2"/>
<path class="tk" d="M659.8 669.8h11M1080.2 669.8h-11"/>
<path class="g" d="M659.8 774.9H1080.2"/>
<path class="tk" d="M659.8 774.9h11M1080.2 774.9h-11"/>
<path class="v" d="M837.5 880V39"/>
<path class="tk" d="M837.5 39v11"/>
<path class="v" d="M991.4 880V39"/>
<path class="tk" d="M991.4 39v11"/>
<path d="M659.6 466V879" stroke="#000" stroke-width="3.6" fill="none"/>
<g clip-path="url(#cp1)">
<path class="c k" d="M660.1 322.8C664.5 323.1 668.9 324.2 673.4 325.9C678.5 327.9 683.6 330.8 688.8 334.9C693.9 338.9 699 344.9 704.2 350.3C709.3 355.6 714.4 361.6 719.6 366.9C724.7 372.3 729.8 377.2 734.9 382.3C740.1 387.5 745.2 392.6 750.3 397.7C755.5 402.9 760.6 407.8 765.7 413.1C770.9 418.5 776 424 781.1 429.8C786.2 435.6 791.4 441.8 796.5 447.7C801.6 453.7 806.8 460.2 811.9 465.7C816.2 470.3 820.4 475.9 824.7 478.5C829 481.2 833.3 482.2 837.5 481.6"/>
<path class="c k" d="M660.1 466.5C664.5 463.9 668.9 460.7 673.4 456.7C678.5 452.1 683.6 446.2 688.8 440C693.9 433.8 699 426.6 704.2 419.5C709.3 412.5 714.4 405 719.6 397.7C724.7 390.5 729.8 382.5 734.9 375.9C740.1 369.3 745.2 363.3 750.3 358C755.5 352.6 760.6 347.9 765.7 343.9C770.9 339.8 776 336.5 781.1 333.6C786.2 330.7 791.4 328.6 796.5 326.7C801.6 324.8 806.8 323.2 811.9 322.1C816.2 321.1 820.4 320.5 824.7 320C829 319.5 833.3 319.2 837.5 319.2C842.7 319.2 847.8 319.6 852.9 320.3C858.1 320.9 863.2 321.9 868.3 323.3C873.4 324.8 878.6 326.6 883.7 329C888.8 331.3 894 333.9 899.1 337.5C904.2 341 909.4 345.1 914.5 350.3C919.6 355.4 924.7 361.4 929.9 368.2C935 375.1 940.1 383.4 945.3 391.3C950.4 399.2 955.5 407.8 960.7 415.7C965.8 423.6 970.9 431.1 976 438.8C979.5 443.9 982.9 449.8 986.3 454.2C988 456.3 989.7 458.3 991.4 460.1C995.7 459.7 1000 459.4 1004.3 459.3C1010.2 459.1 1016.2 459 1022.2 459.3C1027.3 459.5 1032.5 460.1 1037.6 460.6C1042.7 461.1 1047.9 461.7 1053 462.4C1058.1 463 1063.3 463.6 1068.4 464.4C1072.2 465 1076.1 465.7 1079.9 466.5"/>
<path class="c k" d="M660.1 466.5C666.2 468 672.4 469.4 678.5 470.8C685.4 472.4 692.2 474 699 475.2C705.9 476.3 712.7 477.2 719.6 477.7C726.4 478.3 733.2 478.5 740.1 478.5C746.9 478.5 753.8 477.9 760.6 477.7C767.4 477.6 774.3 477.5 781.1 477.7C788 478 794.8 478.7 801.6 479.3C808.5 479.8 815.3 480.7 822.2 481.1C827.3 481.4 832.4 481.1 837.5 481.6C841 481.9 844.4 482.1 847.8 482.9C852.9 484 858.1 486.3 863.2 488.8C868.3 491.3 873.4 494.8 878.6 497.8C883.7 500.7 888.8 504.1 894 506.7C899.1 509.4 904.2 512.1 909.4 513.7C914.5 515.2 919.6 516.3 924.7 516.2C929.9 516.1 935 515.3 940.1 513.1C944.4 511.4 948.7 508.9 953 505.4C957.2 502 961.5 497.3 965.8 492.6C970.1 487.9 974.3 482.6 978.6 477.2C982.9 471.9 987.2 466.3 991.4 460.6"/>
<path class="c k" d="M837.5 481.6C841 481.6 844.4 480.5 847.8 478.5C851.2 476.5 854.6 472.7 858.1 469.5C862.3 465.6 866.6 460.8 870.9 456.7C875.2 452.7 879.4 448.6 883.7 445.2C888.8 441.1 894 437.8 899.1 434.9C904.2 432 909.4 429.7 914.5 427.7C919.6 425.7 924.7 424.1 929.9 422.9C935 421.6 940.1 421 945.3 420.3C952.1 419.4 958.9 418.7 965.8 418.2C970.9 417.9 976 417.9 981.2 417.7C984.6 417.6 988 417.5 991.4 417.5C994.9 422.3 998.3 426.9 1001.7 431.1C1005.1 435.3 1008.5 439.1 1012 442.6C1015.4 446.1 1018.8 449.3 1022.2 452.1C1025.6 454.9 1029.1 457.2 1032.5 459.3C1035.9 461.3 1039.3 462.9 1042.7 464.4C1046.2 465.9 1049.6 467.4 1053 468.3C1056.4 469.1 1059.8 469.5 1063.3 469.5C1066.7 469.5 1070.1 469 1073.5 468.3C1075.6 467.8 1077.8 467.2 1079.9 466.5"/>
<path class="c k" d="M991.4 417.5C994.9 413.4 998.3 408.9 1001.7 404.1C1005.1 399.3 1008.5 393.9 1012 388.7C1015.4 383.6 1018.8 378.3 1022.2 373.4C1025.6 368.4 1029.1 363.7 1032.5 359.3C1035.9 354.8 1039.3 350.4 1042.7 346.4C1046.2 342.5 1049.6 338.7 1053 335.7C1056.4 332.6 1059.8 329.9 1063.3 328C1066.7 326 1070.1 325 1073.5 324.1C1075.6 323.5 1077.8 323.1 1079.9 322.8"/>
<path class="c k" d="M660.1 606.2C664.5 602 668.9 598.3 673.4 595.1C678.5 591.5 683.6 588.6 688.8 586.2C693.9 583.7 699 582 704.2 580.5C709.3 579 714.4 577.9 719.6 577.2C724.7 576.5 729.8 576.2 734.9 576.4C740.1 576.6 745.2 577.1 750.3 578.5C755 579.7 759.6 581.9 764.3 583.9C768.6 585.7 772.8 587.6 777.1 589.6C781.4 591.7 785.7 593.9 790 596.1C794.3 598.2 798.6 600.4 802.8 602.5C807.1 604.6 811.4 607.1 815.7 608.9C819.1 610.4 822.5 611.9 826 612.8C829.7 613.7 833.5 614.2 837.3 614.1C840.8 613.9 844.3 613.2 847.8 612.1C851.3 611.1 854.7 609.3 858.1 607.6C862 605.7 865.8 603.2 869.7 601.2C873.1 599.4 876.5 597.5 880 596.1C883.4 594.7 886.8 593.6 890.2 592.9C893.7 592.1 897.1 591.9 900.5 591.8C904 591.8 907.4 591.9 910.8 592.6C917.2 594 923.5 597.3 929.9 601.6C935 605 940.1 609.7 945.3 614.4C950.4 619.1 955.5 624.4 960.7 629.8C965.8 635.1 970.9 641.1 976 646.4C979.5 650 982.9 653.9 986.3 656.7C988 658.1 989.7 659.4 991.4 660.5C994.9 660.3 998.3 659.1 1001.7 656.7C1005.1 654.4 1008.5 650.3 1012 646.4C1015.4 642.6 1018.8 637.9 1022.2 633.6C1025.6 629.3 1029.1 624.5 1032.5 620.8C1035.9 617.1 1039.3 613.9 1042.7 611.3C1046.2 608.7 1049.6 606.8 1053 605.4C1056.4 604 1059.8 603.1 1063.3 602.8C1066.7 602.5 1070.1 602.7 1073.5 603.6C1075.6 604.2 1077.8 605.1 1079.9 606.2"/>
<path class="c k" d="M660.1 606.2C664.5 609 668.9 612.6 673.4 616.9C678.5 621.9 683.6 628.7 688.8 634.9C693.9 641.1 699 647.7 704.2 654.1C709.3 660.5 714.4 667.2 719.6 673.4C724.7 679.6 729.8 686 734.9 691.3C740.1 696.6 745.2 700.5 750.3 705.1C755.5 709.8 760.6 715.2 765.7 719.3C770.9 723.3 776 726.7 781.1 729.5C786.2 732.3 791.4 734.3 796.5 735.9C801.6 737.5 806.8 738.5 811.9 739.3C817 740 822.2 740.1 827.3 740.3C830.7 740.4 834.1 740.3 837.5 740.3C842.7 740.2 847.8 740.2 852.9 739.8C858.1 739.4 863.2 738.8 868.3 738C873.4 737.1 878.6 736 883.7 734.6C888.8 733.3 894 731.7 899.1 730C904.2 728.3 909.4 726.5 914.5 724.4C919.6 722.2 924.7 720 929.9 717.2C935 714.4 940.1 711.2 945.3 707.7C950.4 704.2 955.5 700.7 960.7 696.2C965.8 691.7 970.9 686.7 976 680.8C979.5 676.8 982.9 672.2 986.3 668C988 665.8 989.7 663.7 991.4 661.5"/>
<path class="c k" d="M743.9 889.8C744.8 886.6 745.6 883.2 746.5 879.6C749.5 866.9 752.5 848.2 755.5 834.7C758.9 819.2 762.3 807.3 765.7 793.6C769.1 780 772.6 765.8 776 752.6C779.4 739.3 782.8 729 786.2 714.1C787.5 708.7 788.7 702.5 790 697C791.3 691.2 792.6 685.8 793.8 680.3C795.1 674.7 796.4 668.8 797.7 663.6C799.4 656.6 801.1 650.3 802.8 644.3C804.6 638.3 806.3 632.7 808 627.6C809.7 622.4 811.4 617.7 813.1 613.4C814.8 609.1 816.5 605.3 818.3 601.9C820 598.4 821.7 595.3 823.4 592.9C825.5 589.8 827.7 587.8 829.8 586.4C832.3 584.8 834.8 584.3 837.3 584.5C839.5 584.7 841.7 585 844 587.1C845.7 588.7 847.4 591.2 849.1 594.1C850.8 597 852.5 600.8 854.3 604.4C856 608.1 857.7 611.9 859.4 616C861.1 620.1 862.8 624.3 864.5 628.8C866.3 633.3 868 638.3 869.7 643C871.4 647.7 873.1 652.4 874.8 657.1C876.5 661.8 878.2 666.6 880 671.3C881.7 676 883.4 681.1 885.1 685.4C886.8 689.7 888.5 692.9 890.2 697C894.1 706 897.9 715.9 901.7 726.9C905.9 739.3 910.2 754.3 914.5 768C918.8 781.7 923 795.3 927.3 809C931.6 822.7 935.9 836.2 940.1 850.1C943.1 859.8 946.1 869.6 949.1 879.6C950.1 883 951.2 886.4 952.2 889.8"/>
<path class="c k" d="M660.1 747.5C663.6 749.5 667.2 751.1 670.8 752.1C675.1 753.3 679.4 753.6 683.6 753.4C687.9 753.1 692.2 752.2 696.5 750.5C700.7 748.9 705 746.7 709.3 743.6C713.6 740.5 717.8 736.6 722.1 732.1C726.4 727.6 730.7 723 734.9 716.7C738.7 711.1 742.5 703.4 746.3 697C748.8 692.6 751.4 688.4 754 684.1C756.6 679.8 759.1 675.6 761.7 671.3C764.3 667 766.8 662.7 769.4 658.4C772 654.1 774.6 649.8 777.1 645.6C779.7 641.3 782.3 636.8 784.8 632.7C787.4 628.6 790 624.9 792.6 621.1C795.1 617.4 797.7 613.5 800.3 610.2C802.8 606.9 805.4 604 808 601.2C810.5 598.4 813.1 595.7 815.7 593.5C818.3 591.2 820.8 589.1 823.4 587.7C826 586.3 828.5 585.7 831.1 585.1C833.2 584.7 835.2 584.6 837.3 584.5C840.8 584.3 844.3 584.8 847.8 585.1C852.1 585.6 856.4 586.1 860.7 587.1C865 588 869.3 589.3 873.5 590.9C877.8 592.5 882.1 594.5 886.4 596.7C890.7 599 895 601.6 899.2 604.4C903.1 607 907 610.8 910.8 612.8C912 613.4 913.3 613.7 914.5 614.4C919.6 617.1 924.7 623.6 929.9 628.5C935 633.4 940.1 638.5 945.3 643.9C950.4 649.2 955.5 654.8 960.7 660.5C965.8 666.3 970.9 672.6 976 678.5C979.5 682.4 982.9 686.5 986.3 690C988 691.8 989.7 693.5 991.4 695.2C994.9 695.4 998.3 695.9 1001.7 696.7C1006.8 697.9 1012 700.1 1017.1 702.6C1022.2 705.1 1027.3 708.1 1032.5 711.6C1037.6 715 1042.7 719 1047.9 723.1C1053 727.2 1058.1 731.9 1063.3 735.9C1068.8 740.3 1074.4 744.3 1079.9 748"/>
<path class="c k" d="M688.3 889.8C689.3 886.5 690.3 883 691.3 879.6C694.8 867.9 698.2 853.5 701.6 842.4C705.9 828.4 710.2 818 714.4 806.5C718.7 794.9 723 783.8 727.3 773.1C731.5 762.4 735.8 752.6 740.1 742.3C746.4 727.1 752.8 710.4 759.1 697C761.7 691.6 764.3 686.5 766.8 681.6C769.4 676.6 772 672 774.6 667.4C777.1 662.8 779.7 658.2 782.3 653.9C784.8 649.6 787.4 645.5 790 641.7C792.6 638 795.1 634.4 797.7 631.4C800.3 628.4 802.8 625.8 805.4 623.7C808 621.6 810.5 619.9 813.1 618.6C816.5 616.8 820 616.1 823.4 615.4C828 614.4 832.7 614.4 837.3 614.5C841.2 614.5 845.2 614.3 849.1 615.4C852.1 616.2 855.1 617.4 858.1 619.2C861.1 621 864.1 623.6 867.1 626.3C870.1 629 873.1 632.1 876.1 635.3C879.1 638.5 882.1 641.9 885.1 645.6C888.1 649.2 891.1 653.3 894.1 657.1C897.1 661 900.1 664.8 903.1 668.7C906.1 672.6 909.1 676.7 912.1 680.3C914.6 683.2 917.1 685.3 919.6 688.5C924.7 695 929.9 705.4 935 714.1C940.1 722.9 945.3 732.1 950.4 741.1C955.5 750 960.7 759.2 965.8 768C970.9 776.7 976 787.1 981.2 793.6C984.6 798 988 801.4 991.4 803.9C994 803.9 996.6 805.2 999.1 807.7C1001.7 810.3 1004.3 814.9 1006.8 819.3C1010.2 825.1 1013.7 833 1017.1 839.8C1020.5 846.6 1023.9 853.7 1027.3 860.3C1030.8 866.9 1034.2 872.9 1037.6 879.6C1039.3 882.9 1041 886.3 1042.7 889.8"/>
<path class="c k" d="M660.1 747.5C663.6 743.6 667.2 740.6 670.8 738.5C675.1 736 679.4 734.9 683.6 734.6C687.9 734.4 692.2 735.7 696.5 737.2C700.7 738.7 705 741 709.3 743.6C714.4 746.8 719.6 751.1 724.7 755.2C729.8 759.2 734.9 763.7 740.1 768C745.2 772.3 750.3 776.7 755.5 780.8C760.6 784.9 765.7 788.7 770.9 792.4C776 796 781.1 799.6 786.2 802.6C791.4 805.6 796.5 808.2 801.6 810.3C806.8 812.4 811.9 814.2 817 815.4C823.9 817.1 830.7 818 837.5 818C844.4 818 851.2 817.1 858.1 815.4C863.2 814.2 868.3 812.7 873.4 810.3C878.6 808 883.7 805 888.8 801.3C894 797.7 899.1 793.2 904.2 788.5C909.4 783.8 914.5 778.5 919.6 773.1C924.7 767.8 929.9 762.2 935 756.4C940.1 750.7 945.3 744.5 950.4 738.5C955.5 732.5 960.7 726.6 965.8 720.5C970.1 715.5 974.3 709.4 978.6 705.1C982.9 700.9 987.2 697.6 991.4 695.1"/>
<path class="c k" d="M660.1 787.2C664.5 787 668.9 786.1 673.4 784.7C678.5 782.9 683.6 779.7 688.8 777C693.9 774.2 699 771 704.2 768C709.3 765 714.4 761.8 719.6 759C724.7 756.2 729.8 753.7 734.9 751.3C740.1 749 745.2 746.6 750.3 744.9C755.5 743.2 760.6 741.9 765.7 741.1C770.9 740.2 776 740 781.1 739.8C788 739.4 794.8 739.7 801.6 739.8C808.5 739.9 815.3 740.2 822.2 740.3C827.3 740.3 832.4 740.4 837.5 740.3C844.4 740.1 851.2 740 858.1 739.3C864.9 738.5 871.7 737.3 878.6 735.9C885.4 734.5 892.3 732.7 899.1 730.8C905.9 728.9 912.8 726.5 919.6 724.4C926.5 722.2 933.3 719.9 940.1 718C947 716 953.8 714.2 960.7 712.8C966.6 711.7 972.6 710.8 978.6 710.3C982.9 709.9 987.2 709.7 991.4 709.8C994.9 714.8 998.3 719.6 1001.7 724.4C1006.8 731.5 1012 738.5 1017.1 744.9C1022.2 751.3 1027.3 757.5 1032.5 762.9C1037.6 768.2 1042.7 773.3 1047.9 777C1053 780.6 1058.1 782.9 1063.3 784.7C1066.7 785.9 1070.1 786.6 1073.5 787.2C1075.6 787.6 1077.8 787.8 1079.9 788"/>
<path class="c k" d="M991.4 709.8C993.1 706.6 994.7 703.8 996.4 701.2C998.3 698.3 1000.2 696.1 1002.2 693.5C1004.1 690.9 1006 688.4 1008 685.8C1011.8 680.6 1015.7 675.3 1019.6 670.2C1026 661.8 1032.4 653.6 1038.9 646.1C1046.9 636.6 1055 628.4 1063 620C1066.5 616.4 1070 611.7 1073.5 609.3C1075.6 607.8 1077.8 606.8 1079.9 606.2"/>
<path class="c k" d="M736.2 889.8C737.5 886.2 738.8 882.7 740.1 879.6C744.4 868.9 748.6 863.2 752.9 855.2C758 845.6 763.2 836.4 768.3 827C773.4 817.6 778.5 807.5 783.7 798.8C788 791.5 792.2 784.6 796.5 778.2C801.6 770.7 806.8 763.9 811.9 757.7C816.2 752.6 820.4 747.5 824.7 743.6C829 739.8 833.3 734.6 837.5 734.6C841.8 734.6 846.1 739.3 850.4 743.6C854.6 747.9 858.9 753.7 863.2 760.3C867.5 766.9 871.7 775.7 876 783.4C880.3 791.1 884.6 798.8 888.8 806.5C893.1 814.2 897.4 821.8 901.7 829.5C905.9 837.2 910.2 845 914.5 852.6C919.6 861.7 924.7 869.6 929.9 879.6C931.6 882.9 933.3 886.3 935 889.8"/>
<path class="c k" d="M778.5 889.8C780.3 886.3 782 882.9 783.7 879.6C788 871.1 792.2 862.7 796.5 855.2C800.8 847.7 805.1 840 809.3 834.7C813.6 829.3 817.9 825.9 822.2 823.1C827.3 819.8 832.4 818 837.5 818C842.7 818 847.8 819.8 852.9 823.1C857.2 825.9 861.5 829.3 865.8 834.7C870 840 874.3 847.7 878.6 855.2C882.9 862.7 887.1 871.1 891.4 879.6C893.1 882.9 894.8 886.3 896.5 889.8"/>
<path class="c k" d="M927.3 889.8C929.9 886.2 932.4 882.8 935 879.6C939.3 874.2 943.6 870.4 947.8 865.4C952.1 860.5 956.4 855.6 960.7 850.1C964.9 844.5 969.2 838.6 973.5 832.1C976.9 826.9 980.3 820.7 983.7 815.4C986.3 811.4 988.9 807.6 991.4 803.9"/>
<path class="c k" d="M1010.7 889.8C1012 886.4 1013.2 883 1014.5 879.6C1017.9 870.5 1021.4 861.4 1024.8 852.6C1028.2 843.9 1031.6 835.1 1035 827C1038.5 818.9 1041.9 811.2 1045.3 803.9C1048.7 796.6 1052.1 789.6 1055.6 783.4C1059.8 775.6 1064.1 769 1068.4 762.9C1072.2 757.3 1076.1 752.4 1079.9 748"/>
</g>
<rect x="705" y="50.5" width="361" height="250" fill="#fff"/>
<path d="M788 75.8H1049.6" stroke="#f3f3f3" stroke-width="1" fill="none"/>
<path d="M788 109.4H1049.6" stroke="#f3f3f3" stroke-width="1" fill="none"/>
<path d="M788 143H1049.6" stroke="#f3f3f3" stroke-width="1" fill="none"/>
<path d="M788 176.6H1049.6" stroke="#f3f3f3" stroke-width="1" fill="none"/>
<path d="M788 210.2H1049.6" stroke="#f3f3f3" stroke-width="1" fill="none"/>
<path d="M788 243.8H1049.6" stroke="#f3f3f3" stroke-width="1" fill="none"/>
<path d="M898.6 60V258.8" stroke="#f3f3f3" stroke-width="1" fill="none"/>
<path d="M994.3 60V258.8" stroke="#f3f3f3" stroke-width="1" fill="none"/>
<path d="M788.8 78.7C791.4 78.7 793.9 80.9 796.5 85.1C799.1 89.4 801.6 96.5 804.2 104.4C806.8 112.3 809.3 123.2 811.9 132.6C814.5 142 817 152.7 819.6 160.8C822.2 168.9 824.7 176 827.3 181.3C829.8 186.7 832.4 190.8 835 192.9C836.3 193.9 837.5 194.7 838.8 194.7C840.5 194.7 842.2 194 844 191.6C846.1 188.6 848.2 182.9 850.4 176.2C852.9 168.2 855.5 155.7 858.1 145.4C860.6 135.2 863.2 123.2 865.8 114.6C868.3 106.1 870.9 99.5 873.4 94.1C876 88.8 878.6 85.4 881.1 82.6C884.1 79.3 887.1 78.1 890.1 76.9C893.1 75.8 896.1 75.6 899.1 75.7C902.1 75.7 905.1 75.9 908.1 77.5C911.1 79 914.1 80.5 917.1 85.1C919.6 89.2 922.2 94.3 924.7 101.8C927.3 109.3 929.9 119.8 932.4 130C935 140.3 937.6 152.3 940.1 163.4C942.7 174.5 945.3 187.3 947.8 196.7C950.4 206.1 953 214.2 955.5 219.8C958.1 225.4 960.7 228.4 963.2 230.1C964.5 230.9 965.8 231.4 967.1 231.3C969.2 231.3 971.3 229.7 973.5 227.5C976 224.9 978.6 219.4 981.2 216C983.7 212.5 986.3 208.8 988.9 207C990.6 205.8 992.3 205.1 994 204.9C994.9 205.1 995.7 204.5 996.6 203.1C997.8 201.1 999.1 195.3 1000.4 191.6C1002.5 185.3 1004.7 179.4 1006.8 173.6C1010.2 164.5 1013.7 156.5 1017.1 148C1020.5 139.4 1023.9 130.9 1027.3 122.3C1030.8 113.8 1034.2 103.9 1037.6 96.7C1040.2 91.3 1042.7 85.7 1045.3 82.6C1046.7 80.8 1048.2 79.5 1049.7 78.7" fill="none" stroke="#000" stroke-width="1.7" stroke-linejoin="round"/>
<rect x="788" y="60" width="261.6" height="198.8" fill="none" stroke="#000" stroke-width="2"/>
<text class="it" text-anchor="end" x="782.3" y="82.6">0.6</text>
<text class="it" text-anchor="end" x="782.3" y="116.2">0.4</text>
<text class="it" text-anchor="end" x="782.3" y="149.8">0.2</text>
<text class="it" text-anchor="end" x="782.3" y="183.4">0.0</text>
<text class="it" text-anchor="end" x="782.3" y="217">-0.2</text>
<text class="it" text-anchor="end" x="782.3" y="250.6">-0.4</text>
<text class="il" transform="translate(739.9 214.3) rotate(-90)"><tspan class="i">E</tspan>-<tspan class="i">E</tspan><tspan class="is" dy="4.5">F</tspan><tspan dy="-4.5"> (eV)</tspan></text>
<text class="il" text-anchor="middle" x="789.1" y="287.6">K</text>
<text class="il" text-anchor="middle" x="900.3" y="287.6">Γ</text>
<text class="il" text-anchor="middle" x="995" y="287.6">M</text>
<text class="il" text-anchor="middle" x="1050.7" y="287.6">K</text>
<rect class="fr" x="659.8" y="39" width="420.4" height="841"/>
<text class="t" text-anchor="end" x="649.2" y="48.3">2.0</text>
<text class="t" text-anchor="end" x="649.2" y="153.4">1.5</text>
<text class="t" text-anchor="end" x="649.2" y="258.6">1.0</text>
<text class="t" text-anchor="end" x="649.2" y="363.7">0.5</text>
<text class="t" text-anchor="end" x="649.2" y="468.8">0.0</text>
<text class="t" text-anchor="end" x="649.2" y="573.9">-0.5</text>
<text class="t" text-anchor="end" x="649.2" y="679">-1.0</text>
<text class="t" text-anchor="end" x="649.2" y="784.2">-1.5</text>
<text class="t" text-anchor="end" x="649.2" y="889.3">-2.0</text>
<text class="t" transform="translate(591.3 521.3) rotate(-90)"><tspan class="i">E</tspan>-<tspan class="i">E</tspan><tspan class="s2" dy="5.3">F</tspan><tspan dy="-5.3"> (eV)</tspan></text>
<text class="tt" x="825.6" y="20.7">NbSe</text><text class="s" x="898.9" y="26.3">2</text>
<text class="t" text-anchor="middle" x="664.2" y="915.4">K</text>
<text class="t" text-anchor="middle" x="838.4" y="915.4">Γ</text>
<text class="t" text-anchor="middle" x="988.9" y="915.4">M</text>
<text class="t" text-anchor="middle" x="1079.6" y="915.4">K</text>
</g>
<g id="panel3">
<path class="gd" d="M1229.8 144.1H1649.8"/>
<path class="g3" d="M1229.8 144.1H1649.8"/>
<path class="tk" d="M1229.8 144.1h11M1649.8 144.1h-11"/>
<path class="gd" d="M1229.8 249.2H1649.8"/>
<path class="g3" d="M1229.8 249.2H1649.8"/>
<path class="tk" d="M1229.8 249.2h11M1649.8 249.2h-11"/>
<path class="gd" d="M1229.8 354.4H1649.8"/>
<path class="g3" d="M1229.8 354.4H1649.8"/>
<path class="tk" d="M1229.8 354.4h11M1649.8 354.4h-11"/>
<path class="gd" d="M1229.8 459.5H1649.8"/>
<path class="g3" d="M1229.8 459.5H1649.8"/>
<path class="tk" d="M1229.8 459.5h11M1649.8 459.5h-11"/>
<path class="gd" d="M1229.8 564.6H1649.8"/>
<path class="g3" d="M1229.8 564.6H1649.8"/>
<path class="tk" d="M1229.8 564.6h11M1649.8 564.6h-11"/>
<path class="gd" d="M1229.8 669.8H1649.8"/>
<path class="g3" d="M1229.8 669.8H1649.8"/>
<path class="tk" d="M1229.8 669.8h11M1649.8 669.8h-11"/>
<path class="gd" d="M1229.8 774.9H1649.8"/>
<path class="g3" d="M1229.8 774.9H1649.8"/>
<path class="tk" d="M1229.8 774.9h11M1649.8 774.9h-11"/>
<path class="gd" d="M1407.3 880V39"/>
<path class="v3" d="M1407.3 880V39"/>
<path class="tk" d="M1407.3 39v11"/>
<path class="gd" d="M1561 880V39"/>
<path class="v3" d="M1561 880V39"/>
<path class="tk" d="M1561 39v11"/>
<path d="M1229.2 60V878" stroke="#8a0a0e" stroke-width="2.8" fill="none"/>
<path d="M1650.4 100V878" stroke="#5a0a20" stroke-width="2.8" fill="none"/>
<g clip-path="url(#cp2)">
<path class="c b" transform="translate(-0.4 1.5)" d="M1226.8 603.7C1228.1 602.6 1229.3 601.5 1230.6 600.4C1234 597.4 1237.4 594.3 1240.9 591.4C1245.1 587.8 1249.4 584.3 1253.7 581.1C1258 577.9 1262.3 574.9 1266.6 572.1C1270.8 569.4 1275.1 566.6 1279.4 564.4C1283.7 562.3 1288 560.7 1292.3 559.3C1296.6 557.9 1300.8 556.8 1305.1 556.1C1309.4 555.3 1313.7 554.9 1318 554.8C1322.3 554.7 1326.6 554.9 1330.8 555.4C1335.1 555.9 1339.4 556.8 1343.7 557.7C1348 558.7 1352.3 559.9 1356.5 561.2C1360.8 562.5 1365.1 564.2 1369.4 565.7C1373.7 567.2 1378 569 1382.3 570.2C1386.5 571.5 1390.8 572.5 1395.1 573.2C1399.1 573.8 1403.1 574.1 1407.1 574.1C1411.6 574 1416.2 573.7 1420.8 572.8C1425.1 571.9 1429.4 569.9 1433.7 568.9C1435.8 568.4 1437.9 568.1 1440 567.6C1443.4 566.9 1446.9 565.9 1450.3 565.5C1453.7 565 1457.1 564.7 1460.6 565.1C1464 565.4 1467.4 566.2 1470.9 567.6C1474.3 569 1477.7 571.2 1481.1 573.4C1484.6 575.7 1488 578.1 1491.4 581.1C1494.8 584.1 1498.3 587.8 1501.7 591.4C1505.1 595.1 1508.6 598.9 1512 603C1515.4 607.1 1518.8 611.6 1522.3 615.8C1525.7 620.1 1529.1 624.6 1532.6 628.7C1536 632.8 1539.4 636.4 1542.8 640.3C1545.8 643.7 1548.8 647.4 1551.8 650.5C1554 652.8 1556.1 654.8 1558.3 657C1559.4 658.2 1560.6 659.3 1561.8 660.5"/>
<path class="c b" transform="translate(-0.4 1.5)" d="M1435.1 569.8C1436.7 569.5 1438.4 569.2 1440 568.9C1443.4 568.3 1446.9 567.4 1450.3 567C1453.7 566.6 1457.1 566.4 1460.6 566.7C1464 567.1 1467.4 567.9 1470.9 569.3C1474.3 570.7 1477.7 573 1481.1 575.4C1484.6 577.7 1488 580.3 1491.4 583.4C1494.8 586.6 1498.3 590.3 1501.7 594C1505.1 597.7 1508.6 601.5 1512 605.6C1515.4 609.6 1518.8 614.1 1522.3 618.4C1525.7 622.7 1529.1 627.2 1532.6 631.3C1536 635.3 1539.4 638.9 1542.8 642.8C1545.8 646.2 1548.8 649.7 1551.8 653.1C1552.9 654.4 1554 655.6 1555.1 656.9"/>
<path class="c b" transform="translate(-0.4 1.5)" d="M1227.8 712.8C1228.7 714.2 1229.6 715.6 1230.6 717C1232.3 719.6 1234 722.6 1235.7 724.7C1238.3 727.9 1240.9 729.5 1243.4 731.1C1246.9 733.3 1250.3 734.6 1253.7 735C1258 735.5 1262.3 734.1 1266.6 732.4C1270.8 730.7 1275.1 728.2 1279.4 724.7C1282.8 721.9 1286.3 718.3 1289.7 714.4C1293.1 710.6 1296.6 706.1 1300 701.6C1303.4 697.1 1306.8 692.3 1310.3 687.4C1313.7 682.5 1317.1 677.1 1320.6 672C1324 666.9 1327.4 664.4 1330.8 656.6C1332.6 652.7 1334.3 646.8 1336 642.8C1338.5 636.8 1341.1 633.4 1343.7 628.7C1346.3 624 1348.8 619.3 1351.4 614.6C1354 609.8 1356.5 604.9 1359.1 600.4C1361.7 595.9 1364.3 591.8 1366.8 587.6C1369.4 583.3 1372 578.8 1374.5 574.7C1377.1 570.6 1379.7 566.6 1382.3 563.1C1384.8 559.7 1387.4 556.6 1390 554.1C1392.5 551.7 1395.1 549.7 1397.7 548.4C1400.8 546.7 1403.9 546.5 1407.1 546.2C1411.6 545.7 1416.2 546.7 1420.8 547.5C1425.1 548.1 1429.4 549.1 1433.7 550.3C1435.8 550.9 1437.9 551.6 1440 552.2C1444.3 553.5 1448.6 554.6 1452.9 556.1C1457.1 557.6 1461.4 559.3 1465.7 561.2C1470 563.1 1474.3 565 1478.6 567.6C1482.8 570.3 1487.1 573.5 1491.4 577.3C1495.7 581 1500 585.4 1504.3 590.1C1508.6 594.8 1512.8 600.2 1517.1 605.6C1521.4 610.9 1525.7 616.9 1530 622.3C1534.3 627.6 1538.6 632.7 1542.8 637.7C1546.3 641.7 1549.7 646 1553.1 649.3C1555.7 651.7 1558.3 653.5 1560.8 655.7C1562.1 656.8 1563.4 657.8 1564.7 658.9"/>
<path class="c b" transform="translate(-0.4 1.5)" d="M1227.6 716.2C1228.6 717.5 1229.6 718.9 1230.6 720.2C1232.3 722.6 1234 725.3 1235.7 727.3C1238.3 730.2 1240.9 732.1 1243.4 733.7C1246.9 735.8 1250.3 736.9 1253.7 737.3C1258 737.8 1262.3 736.7 1266.6 735C1270.8 733.3 1275.1 730.7 1279.4 727.3C1282.8 724.5 1286.3 721 1289.7 717.2C1293.1 713.5 1296.6 709.2 1300 704.8C1303.4 700.3 1306.8 695.6 1310.3 690.6C1313.7 685.7 1317.1 680.4 1320.6 675.2C1324 670.1 1327.4 665.6 1330.8 659.8C1333.8 654.7 1336.8 648.4 1339.8 642.8C1342.4 638.1 1345 633.4 1347.5 628.7C1350.1 624 1352.7 619.3 1355.3 614.6C1357.8 609.8 1360.4 604.9 1363 600.4C1365.5 595.9 1368.1 591.8 1370.7 587.6C1373 583.7 1375.4 579.7 1377.8 576C1380.1 572.2 1382.5 568.4 1384.8 565.1C1387.2 561.7 1389.5 558.6 1391.9 556.1C1394.3 553.5 1396.6 551.1 1399 549.6C1401.7 547.9 1404.4 547.9 1407.1 547.1C1408.7 546.6 1410.2 546.1 1411.8 545.6"/>
<path class="c b" transform="translate(-0.4 1.5)" d="M1228.1 725.2C1228.9 723.7 1229.7 722.3 1230.6 720.8C1232.3 717.8 1234 714.3 1235.7 711.8C1238.3 708.1 1240.9 706 1243.4 704.1C1246.9 701.6 1250.3 700.9 1253.7 700.3C1257.1 699.6 1260.6 699.7 1264 700.3C1267.4 700.8 1270.8 702.2 1274.3 703.5C1277.7 704.8 1281.1 706 1284.6 708C1287.1 709.4 1289.7 711.3 1292.3 713.1C1294.8 715 1297.4 717.2 1300 718.9C1301.7 720.1 1303.4 721.1 1305.1 722.1C1306.8 722.1 1308.6 720.8 1310.3 718.3C1312 715.7 1313.7 710.8 1315.4 706.7C1317.1 702.6 1318.8 698.1 1320.6 693.8C1322.3 689.6 1324 685.3 1325.7 681C1327.4 676.7 1329.1 672.4 1330.8 668.1C1332.6 663.9 1334.3 659.7 1336 655.3C1337.3 652 1338.5 648.4 1339.8 645C1342 639.4 1344.1 633.8 1346.3 628.7C1348 624.6 1349.7 620.3 1351.4 617.1C1353.1 613.9 1354.8 612 1356.5 609.4C1359.1 605.6 1361.7 601.2 1364.3 597.8C1367.7 593.4 1371.1 590.6 1374.5 587.6C1378 584.6 1381.4 581.9 1384.8 579.8C1388.3 577.8 1391.7 576.3 1395.1 575.4C1399.1 574.2 1403.1 574.1 1407.1 574.1C1408.3 574.1 1409.6 574.1 1410.9 574.2C1413.8 574.5 1416.7 575.1 1419.5 576.4C1422.5 577.6 1425.4 579.4 1428.4 581.8C1431.3 584.1 1434.1 587.5 1437 590.5C1439.9 593.6 1442.9 597 1445.8 600.3C1448.7 603.6 1451.6 606.7 1454.5 610.2C1457.4 613.6 1460.3 617.4 1463.1 621.1C1466.1 625 1469.1 629 1472 633.1C1474.9 637 1477.8 641.1 1480.7 645.2C1483.6 649.1 1486.5 653.1 1489.4 657.1C1490.3 658.5 1491.3 659.8 1492.3 661.2"/>
<path class="c b" transform="translate(-0.4 1.5)" d="M1311.4 884.2C1311.9 882.6 1312.3 881 1312.8 879.4C1314.6 873.8 1316.3 869.7 1318 862.7C1319.3 857.5 1320.6 850.7 1321.8 844.7C1323.1 838.7 1324.4 832.7 1325.7 826.7C1327 820.7 1328.3 814.7 1329.6 808.7C1330.8 802.7 1332.1 795.9 1333.4 790.7C1334.7 785.6 1336 782.5 1337.3 777.9C1339.4 770.1 1341.5 760.3 1343.7 751.7C1344.5 748.2 1345.4 744.9 1346.3 741.4C1348 734.4 1349.7 727.1 1351.4 719.6C1353.1 712.1 1354.8 703.7 1356.5 696.4C1358.3 689.1 1360 682.7 1361.7 675.9C1363.4 669 1365.1 663.1 1366.8 655.3C1367.7 651.4 1368.5 646.7 1369.4 642.8C1371.1 635.2 1372.8 630 1374.5 623.6C1376.3 617.1 1378 610.5 1379.7 604.3C1381.4 598.1 1383.1 592.1 1384.8 586.3C1386.5 580.5 1388.3 574.3 1390 569.6C1391.7 564.9 1393.4 561.2 1395.1 558C1396.8 554.8 1398.5 552.2 1400.3 550.3C1402.5 547.8 1404.8 546 1407.1 546.2C1409.1 546.3 1411.1 547.7 1413.1 550.3C1414.9 552.6 1416.7 556.7 1418.5 560.1C1420.3 563.5 1422.2 567.2 1424 570.9C1425.8 574.4 1427.6 577.8 1429.4 581.8C1431.2 585.8 1433 590.4 1434.8 594.9C1436.6 599.4 1438.4 604 1440.3 609C1442.1 614.1 1443.9 619.7 1445.8 625.4C1447.6 631 1449.5 637 1451.3 642.8C1452.9 647.8 1454.5 652.6 1456.1 657.9C1457.6 662.8 1459.1 668.4 1460.6 673.3C1462.3 678.8 1464 683.6 1465.7 688.7C1467.4 693.8 1469.1 699 1470.9 704.1C1472.6 709.3 1474.3 714.4 1476 719.6C1477.7 724.7 1479.4 729.5 1481.1 735C1482.4 739.1 1483.7 741.1 1485 747.8C1486.3 754.6 1487.6 768.4 1488.8 775.3C1490.6 784.5 1492.3 785.4 1494 790.7C1495.7 796.1 1497.4 801.8 1499.1 807.4C1500.8 813 1502.6 818.6 1504.3 824.1C1506 829.7 1507.7 835.7 1509.4 840.8C1511.1 846 1512.8 850.3 1514.6 855C1516.3 859.7 1518 864.5 1519.7 869.1C1521 872.6 1522.3 876 1523.6 879.4C1524.1 881 1524.7 882.5 1525.3 884.1"/>
<path class="c b" transform="translate(-0.4 1.5)" d="M1451 640.4C1451.6 641.9 1452.2 643.5 1452.9 645C1454.6 649.3 1456.3 653.1 1458 657.9C1459.7 662.6 1461.4 668.1 1463.1 673.3C1464.9 678.4 1466.6 683.6 1468.3 688.7C1470 693.8 1471.7 699 1473.4 704.1C1475.1 709.3 1476.8 714.4 1478.6 719.6C1480.3 724.7 1482 729.5 1483.7 735C1485 739.1 1486.3 741.1 1487.6 747.8C1488.8 754.6 1490.1 768.4 1491.4 775.3C1493.1 784.5 1494.8 785.4 1496.6 790.7C1498.3 796.1 1500 801.8 1501.7 807.4C1503.4 813 1505.1 818.6 1506.8 824.1C1508.6 829.7 1510.3 835.7 1512 840.8C1513.7 846 1515.4 850.3 1517.1 855C1518.8 859.7 1520.6 864.5 1522.3 869.1C1523.6 872.6 1524.8 876 1526.1 879.4C1526.7 881 1527.3 882.5 1527.9 884.1"/>
<path class="c b" transform="translate(-0.4 1.5)" d="M1226.7 598.5C1228 599.6 1229.3 600.6 1230.6 601.7C1233.1 603.8 1235.7 605.6 1238.3 608.1C1240.9 610.7 1243.4 614.1 1246 617.1C1248.6 620.1 1251.1 622.9 1253.7 626.1C1256.3 629.3 1258.9 633 1261.4 636.4C1264 639.8 1266.6 643.3 1269.1 646.7C1271.7 650.1 1274.3 653 1276.8 657C1278.6 659.6 1280.3 662.9 1282 665.6C1284.6 669.5 1287.1 672.6 1289.7 675.9C1292.3 679.1 1294.8 682.1 1297.4 684.8C1300 687.6 1302.6 689.7 1305.1 692.6C1308.6 696.4 1312 701.3 1315.4 705.4C1318.8 709.5 1322.3 713.3 1325.7 717C1329.1 720.6 1332.6 724.3 1336 727.3C1339.4 730.3 1342.8 732.7 1346.3 735C1349.7 737.2 1353.1 739.2 1356.5 740.8C1360.8 742.8 1365.1 744.1 1369.4 745.3C1373.7 746.4 1378 747.2 1382.3 747.8C1386.5 748.5 1390.8 749.1 1395.1 749.4C1399.1 749.7 1403.1 749.8 1407.1 749.8C1411.6 749.7 1416.2 749.4 1420.8 749.1C1426.8 748.7 1432.8 748.5 1438.8 747.5C1443.5 746.6 1448.2 745.6 1452.9 744C1457.1 742.5 1461.4 740.3 1465.7 738.2C1470 736.1 1474.3 733.8 1478.6 731.1C1482.8 728.4 1487.1 725.3 1491.4 722.1C1495.7 718.9 1500 715.5 1504.3 711.8C1508.6 708.2 1512.8 704.1 1517.1 700.3C1521.4 696.4 1525.7 692.8 1530 688.7C1533.4 685.4 1536.8 682.1 1540.3 678.4C1543.3 675.2 1546.3 671.6 1549.3 668.1C1551.8 665.2 1554.4 662.2 1557 659.1C1559.1 656.6 1561.3 654 1563.4 651.4C1564.5 650.1 1565.5 648.9 1566.6 647.6"/>
<path class="c b" transform="translate(-0.4 1.5)" d="M1227 600.1C1228.2 601.3 1229.4 602.5 1230.6 603.6C1232.7 605.8 1234.9 607.6 1237 610.1C1239.4 612.7 1241.7 616.1 1244.1 619.1C1246.4 622.1 1248.8 624.8 1251.1 628.1C1253.5 631.3 1255.9 634.9 1258.2 638.3C1260.6 641.8 1262.9 645.2 1265.3 648.6C1267.2 651.4 1269.1 654.2 1271.1 657C1273 659.8 1274.9 662.8 1276.8 665.6C1279.4 669.2 1282 672.6 1284.6 675.9C1287.1 679.1 1289.7 682.1 1292.3 684.8C1294.8 687.6 1297.4 689.7 1300 692.6C1303.4 696.4 1306.8 701.3 1310.3 705.4C1313.7 709.5 1317.1 713.3 1320.6 717C1324 720.6 1327.4 724.3 1330.8 727.3C1334.3 730.3 1337.7 732.7 1341.1 735C1344.5 737.2 1348 739.1 1351.4 740.8C1355.7 742.8 1360 744.3 1364.3 745.5C1368.5 746.8 1372.8 747.6 1377.1 748.4C1381.4 749.1 1385.7 749.7 1390 750.2C1395.7 750.7 1401.4 751 1407.1 751.1C1411.6 751.1 1416.2 750.9 1420.8 750.7C1426.8 750.4 1432.8 749.6 1438.8 749.4C1443.5 749.2 1448.2 750.3 1452.9 749.1C1457.1 748.1 1461.4 745.4 1465.7 743.3C1470 741.3 1474.3 739.1 1478.6 736.9C1484.6 733.8 1490.6 731.8 1496.6 727.3C1500 724.7 1503.4 721.3 1506.8 718.3C1510.3 715.3 1513.7 712.5 1517.1 709.3C1520.6 706.1 1524 702.4 1527.4 699C1530.8 695.6 1534.3 692.1 1537.7 688.7C1541.1 685.3 1544.6 682.2 1548 678.4C1550.5 675.6 1553.1 672.6 1555.7 669.4C1557.4 667.3 1559.1 664.9 1560.8 663C1563.4 660.2 1566 658.7 1568.5 656.6C1569.8 655.5 1571.1 654.4 1572.4 653.4"/>
<path class="c b" transform="translate(-0.4 1.5)" d="M1226.9 599.4C1228.1 600.5 1229.3 601.6 1230.6 602.7C1232.9 604.9 1235.3 606.6 1237.6 609.2C1240.1 611.8 1242.5 615.2 1245 618.2C1247.5 621.2 1249.9 623.9 1252.4 627.2C1254.9 630.4 1257.4 634 1259.9 637.4C1262.3 640.8 1264.8 644.4 1267.2 647.7C1269.5 650.9 1271.7 653.6 1274 657C1275.8 659.7 1277.6 662.9 1279.4 665.6C1282 669.4 1284.6 672.6 1287.1 675.9C1289.7 679.1 1292.3 682.1 1294.8 684.8C1297.4 687.6 1300 690 1302.6 692.6C1303.7 693.7 1304.9 694.9 1306.1 696.1"/>
<path class="c b" transform="translate(-0.4 1.5)" d="M1479.5 640.9C1480.5 642.3 1481.5 643.6 1482.4 645C1484.6 648 1486.7 650.8 1488.8 654C1491 657.2 1493.1 660.9 1495.3 664.3C1497.4 667.7 1499.6 671.1 1501.7 674.6C1503.8 678 1506 681.5 1508.1 684.8C1509.8 687.5 1511.6 690.4 1513.3 692.6C1515 694.7 1516.7 696.8 1518.4 697.7C1519.7 698.4 1521 698.6 1522.3 698.3C1524.4 697.3 1526.6 695.8 1528.7 693.8C1531.3 691.5 1533.8 688.1 1536.4 684.8C1539 681.6 1541.6 678 1544.1 674.6C1546.7 671.1 1549.3 667.5 1551.8 664.3C1554 661.6 1556.1 658.6 1558.3 656.6C1560 654.9 1561.7 654 1563.4 652.7C1564.7 651.7 1566.1 650.7 1567.4 649.7"/>
<path class="c b" transform="translate(-0.4 1.5)" d="M1561.3 654.9C1562.9 654.3 1564.4 653.7 1566 653.1C1569.4 651.8 1572.8 652.1 1576.3 649.3C1578.8 647.1 1581.4 643.5 1584 640.3C1586.5 637.1 1589.1 633.4 1591.7 630C1594.3 626.6 1596.8 622.9 1599.4 619.7C1602 616.5 1604.5 613.3 1607.1 610.7C1609.7 608.1 1612.3 606 1614.8 604.3C1617.4 602.6 1620 601.4 1622.5 600.4C1626 599.2 1629.4 598.7 1632.8 598.5C1636.2 598.3 1639.7 598.4 1643.1 599.1C1645.2 599.6 1647.4 600.4 1649.5 601.1C1651.1 601.5 1652.7 602 1654.3 602.5"/>
<path class="c b" transform="translate(-0.4 1.5)" d="M1555.9 656.1C1557.5 656 1559.2 655.8 1560.8 655.7C1563.4 655.5 1566 655.6 1568.5 655C1571.8 654.4 1575 654.2 1578.2 651.6C1580.8 649.5 1583.3 645.8 1585.9 642.6C1588.5 639.4 1591 635.7 1593.6 632.3C1596.2 628.9 1598.8 625.2 1601.3 622C1603.9 618.8 1606.5 615.6 1609 613C1611.6 610.4 1614.2 608.3 1616.8 606.6C1619.3 604.9 1621.9 603.7 1624.5 602.7C1627.7 601.5 1630.9 600.9 1634.1 600.7C1637.3 600.4 1640.5 600.5 1643.7 601.2C1645.7 601.6 1647.6 602.4 1649.5 603C1651.1 603.5 1652.7 604 1654.3 604.5"/>
<path class="c b" transform="translate(-0.4 1.5)" d="M1555.9 651.9C1557.5 652.2 1559.2 652.4 1560.8 652.7C1563.4 653.1 1566 653.4 1568.5 654C1571.1 654.6 1573.7 655.3 1576.3 656.6C1578.8 657.9 1581.4 659.8 1584 661.7C1586.5 663.6 1589.1 665.8 1591.7 668.1C1594.3 670.5 1596.8 673.3 1599.4 675.9C1602 678.4 1604.5 681 1607.1 683.6C1609.7 686.1 1612.3 688.7 1614.8 691.3C1617.4 693.8 1620 696.4 1622.5 699C1625.1 701.6 1627.7 704.1 1630.2 706.7C1632.8 709.3 1635.4 712 1638 714.4C1640.5 716.9 1643.1 719.3 1645.7 721.5C1647 722.6 1648.2 723.6 1649.5 724.7C1650.8 725.8 1652.1 726.8 1653.4 727.9"/>
<path class="c b" transform="translate(-0.4 1.5)" d="M1555.9 654.2C1557.5 654.5 1559.2 654.8 1560.8 655C1563.4 655.5 1566 655.6 1568.5 656.3C1571.1 657 1573.7 657.8 1576.3 659.1C1578.8 660.5 1581.4 662.4 1584 664.3C1586.5 666.2 1589.1 668.4 1591.7 670.7C1594.3 673.1 1596.8 675.9 1599.4 678.4C1602 681 1604.5 683.6 1607.1 686.1C1609.7 688.7 1612.3 691.3 1614.8 693.8C1617.4 696.4 1620 699 1622.5 701.6C1625.1 704.1 1627.7 706.7 1630.2 709.3C1632.8 711.8 1635.4 714.6 1638 717C1640.5 719.4 1643.1 721.6 1645.7 723.7C1647 724.7 1648.2 725.7 1649.5 726.8C1650.8 727.8 1652.1 728.8 1653.4 729.9"/>
<path class="c b" transform="translate(-0.4 1.5)" d="M1487.1 737.6C1488.6 736.7 1490 735.8 1491.4 735C1495.7 732.4 1500 729.7 1504.3 727.3C1508.6 724.8 1512.8 721.9 1517.1 720.2C1521.4 718.5 1525.7 717.8 1530 717C1534.3 716.1 1538.6 715.5 1542.8 715.1C1548.8 714.4 1554.8 714.1 1560.8 714.2C1562.5 712.8 1564.3 711.2 1566 709.3C1568.5 706.4 1571.1 702.6 1573.7 699C1576.3 695.3 1578.8 691.3 1581.4 687.4C1584 683.6 1586.5 679.5 1589.1 675.9C1591.7 672.2 1594.3 668.8 1596.8 665.6C1599.4 662.4 1602 659.4 1604.5 656.6C1607.1 653.8 1609.7 651.4 1612.3 648.9C1613.5 647.6 1614.8 646.3 1616.1 645C1617.3 643.8 1618.5 642.6 1619.6 641.5"/>
<path class="c b" transform="translate(-0.4 1.5)" d="M1474.5 740.4C1475.8 739.5 1477.2 738.5 1478.6 737.6C1482.8 734.6 1487.1 731.8 1491.4 728.6C1495.7 725.3 1500 721 1504.3 718.3C1507.7 716.1 1511.1 713.4 1514.6 713.1C1516.3 713 1518 712.8 1519.7 713.8C1522.3 715.3 1524.8 719.6 1527.4 723.4C1530.4 727.8 1533.4 733.9 1536.4 738.8C1538.6 742.4 1540.7 745.9 1542.8 749.1C1545 752.3 1547.1 754.6 1549.3 758.1C1551.4 761.6 1553.5 766.6 1555.7 770.1C1557.4 773 1559.1 775.3 1560.8 777.9C1561.8 779.2 1562.7 780.6 1563.6 782"/>
<path class="c b" transform="translate(-0.4 1.5)" d="M1601.3 660.8C1602.4 659.5 1603.5 658.2 1604.5 657C1607.1 654 1609.7 651.2 1612.3 648C1614.8 644.8 1617.4 641.1 1620 637.7C1622.5 634.3 1625.1 630.6 1627.7 627.4C1630.2 624.2 1632.8 621.2 1635.4 618.4C1638 615.6 1640.5 613 1643.1 610.7C1645.2 608.8 1647.4 607.3 1649.5 605.6C1650.8 604.5 1652.1 603.5 1653.4 602.4"/>
<path class="c b" transform="translate(-0.4 1.5)" d="M1225.6 829.4C1227.3 829.2 1228.9 828.9 1230.6 828.6C1234 828.1 1237.4 827.8 1240.9 827C1245.1 825.9 1249.4 824.2 1253.7 822.2C1257.1 820.6 1260.6 818.9 1264 816.4C1266.6 814.6 1269.1 812.8 1271.7 810C1273.4 808.1 1275.1 806 1276.8 803.6C1278.6 801.1 1280.3 798.6 1282 795.2C1283.7 791.8 1285.4 787.4 1287.1 783C1288.8 778.6 1290.6 773.6 1292.3 768.9C1292.8 767.3 1293.4 765.7 1294 764.2"/>
<path class="c b" transform="translate(-0.4 1.5)" d="M1269.9 846.8C1270.5 845.2 1271.1 843.7 1271.7 842.1C1274.3 835.3 1276.8 826.3 1279.4 821.6C1282 816.8 1284.6 816.1 1287.1 813.8C1290.6 810.8 1294 808.7 1297.4 806.1C1300.8 803.6 1304.3 801.2 1307.7 798.4C1311.1 795.6 1314.6 792.6 1318 789.4C1321.4 786.2 1324.8 783.4 1328.3 779.1C1330.4 776.5 1332.6 774.1 1334.7 770.1C1335.5 768.6 1336.4 766.7 1337.3 765C1338 763.5 1338.8 762 1339.5 760.5"/>
<path class="c b" transform="translate(-0.4 1.5)" d="M1225.7 840.5C1227.3 840.2 1228.9 839.9 1230.6 839.6C1234 838.9 1237.4 838.1 1240.9 837.6C1245.1 837 1249.4 836.7 1253.7 836.3C1258 836 1262.3 835.7 1266.6 835.7C1270.8 835.7 1275.1 836.2 1279.4 836.3C1283.7 836.5 1288 836.7 1292.3 836.7C1296.6 836.8 1300.8 836.9 1305.1 836.7C1309.4 836.6 1313.7 836.1 1318 835.7C1322.3 835.3 1326.6 835.1 1330.8 834.4C1335.1 833.8 1339.4 832.8 1343.7 831.8C1348 830.9 1352.3 829.6 1356.5 828.6C1360.8 827.7 1365.1 826.8 1369.4 826.1C1373.7 825.4 1378 824.8 1382.3 824.4C1386.5 824 1390.8 823.6 1395.1 823.5C1399.1 823.4 1403.1 823.4 1407.1 823.5C1411.6 823.6 1416.2 823.9 1420.8 824.1C1426.8 824.5 1432.8 825 1438.8 825.4C1440.5 825.5 1442.1 825.7 1443.8 825.8"/>
<path class="c b" transform="translate(-0.4 1.5)" d="M1225.9 839.1C1227.4 839.7 1229 840.3 1230.6 840.8C1234 842.1 1237.4 843.3 1240.9 844.7C1244.3 846.1 1247.7 847.9 1251.1 849.2C1253.7 850.2 1256.3 851.2 1258.9 851.8C1261 852.2 1263.1 852.2 1265.3 852.4C1266.9 852.6 1268.6 852.7 1270.3 852.9"/>
<path class="c b" transform="translate(-0.4 1.5)" d="M1265.9 864.9C1267.4 864.2 1268.9 863.4 1270.4 862.7C1271.7 862.1 1273 861.2 1274.3 860.8C1277.7 859.6 1281.1 861.3 1284.6 861.4C1288 861.5 1291.4 861.8 1294.8 861.2C1298.3 860.5 1301.7 859.2 1305.1 857.6C1308.6 855.9 1312 853.3 1315.4 851.1C1318.8 849 1322.3 846.5 1325.7 844.7C1329.1 842.9 1332.6 841.4 1336 840.2C1339.4 839 1342.8 838.3 1346.3 837.6C1349.7 837 1353.1 836.7 1356.5 836.3C1360 836 1363.4 835.9 1366.8 835.7C1369.8 835.5 1372.8 836 1375.8 835.1C1378 834.4 1380.1 833.1 1382.3 831.8C1384.8 830.4 1387.4 827.9 1390 826.7C1392.5 825.5 1395.1 824.9 1397.7 824.4C1400.8 823.7 1403.9 823.4 1407.1 823.5C1410.8 823.6 1414.5 823.9 1418.2 825.4C1421.7 826.8 1425.1 829.3 1428.5 831.8C1431.1 833.8 1433.7 835.8 1436.2 838.3C1437.5 839.5 1438.8 840.8 1440.1 842.1C1441.3 843.3 1442.5 844.5 1443.6 845.7"/>
<path class="c b" transform="translate(-0.4 1.5)" d="M1341 884.2C1341.5 882.6 1341.9 881 1342.4 879.4C1343.3 876.4 1344.1 873.2 1345 870.4C1346.7 864.8 1348.4 860.6 1350.1 856.3C1352.3 850.9 1354.4 846.5 1356.5 842.1C1359.1 836.9 1361.7 832.5 1364.3 828C1366.8 823.5 1369.4 819.2 1372 815.1C1374.5 811.1 1377.1 807 1379.7 803.6C1382.3 800.1 1384.8 797 1387.4 794.6C1390 792.1 1392.5 790.2 1395.1 788.8C1399.1 786.6 1403.1 786.2 1407.1 786.2C1410.8 786.3 1414.5 786.8 1418.2 788.8C1420.8 790.2 1423.4 792.1 1426 794.6C1428.5 797 1431.1 799.8 1433.7 803.6C1435.8 806.7 1438 810.8 1440.1 814.5C1440.9 815.9 1441.8 817.4 1442.6 818.8"/>
<path class="c b" transform="translate(-0.4 1.5)" d="M1295.5 881.6C1297 880.9 1298.5 880.2 1300 879.4C1303.4 877.7 1306.8 876 1310.3 874.3C1313.7 872.5 1317.1 870.6 1320.6 869.1C1324 867.6 1327.4 867 1330.8 865.3C1335.1 863.1 1339.4 859.3 1343.7 856.9C1348 854.6 1352.3 853.2 1356.5 851.1C1359.1 849.9 1361.7 848.3 1364.3 847.3C1367.7 845.8 1371.1 845 1374.5 844.1C1378 843.2 1381.4 842.4 1384.8 841.9C1388.3 841.3 1391.7 841.1 1395.1 840.8C1399.1 840.6 1403.1 840.6 1407.1 840.6C1411.6 840.6 1416.2 840.6 1420.8 840.8C1425.1 841.1 1429.4 841.3 1433.7 842.1C1435.8 842.5 1438 843.2 1440.1 843.7C1441.7 844.1 1443.3 844.4 1445 844.8"/>
<path class="c b" transform="translate(-0.4 1.5)" d="M1261.9 881.3C1263.5 880.6 1265 880 1266.6 879.4C1270.8 877.7 1275.1 875.5 1279.4 874.3C1283.7 873 1288 872.3 1292.3 871.7C1296.6 871.1 1300.8 871.2 1305.1 870.4C1308.6 869.8 1312 869.1 1315.4 867.8C1318.8 866.6 1322.3 864.4 1325.7 862.7C1327.2 861.9 1328.7 861.2 1330.2 860.5"/>
<path class="c b" transform="translate(-0.4 1.5)" d="M1491.5 772.2C1492.3 773.7 1493.2 775.1 1494 776.6C1495.7 779.6 1497.4 783.1 1499.1 785.6C1501.7 789.3 1504.3 791.1 1506.8 793.3C1510.3 796.2 1513.7 797.9 1517.1 799.7C1521.4 802 1525.7 803.7 1530 804.8C1534.3 806 1538.6 806.5 1542.8 806.8C1547.1 807.1 1551.4 806.8 1555.7 806.8C1558.3 806.8 1560.8 806.6 1563.4 806.8C1566.8 807.1 1570.3 807.1 1573.7 808.7C1576.3 809.9 1578.8 811.5 1581.4 813.8C1584 816.2 1586.5 819 1589.1 822.8C1591.7 826.7 1594.3 832 1596.8 837C1598.5 840.3 1600.3 843.8 1602 847.3C1603.7 850.7 1605.4 853.9 1607.1 857.6C1608.8 861.2 1610.5 864.9 1612.3 869.1C1613.5 872.3 1614.8 876 1616.1 879.4C1616.7 881 1617.3 882.5 1617.9 884.1"/>
<path class="c b" transform="translate(-0.4 1.5)" d="M1435 825C1436.7 825.2 1438.3 825.3 1440 825.4C1444.3 825.8 1448.6 826.1 1452.9 826.4C1457.1 826.8 1461.4 827.1 1465.7 827.3C1470 827.6 1474.3 827.7 1478.6 827.7C1482.8 827.7 1487.1 827.7 1491.4 827.3C1493.6 827.2 1495.7 826.9 1497.8 826.7C1499.5 826.5 1501.2 826.4 1502.8 826.2"/>
<path class="c b" transform="translate(-0.4 1.5)" d="M1508.4 852.1C1509.6 850.9 1510.8 849.7 1512 848.6C1514.6 846 1517.1 844.1 1519.7 840.8C1522.3 837.6 1524.8 832.9 1527.4 829.3C1530 825.6 1532.6 821.5 1535.1 819C1537.7 816.5 1540.3 815.4 1542.8 814.5C1546.3 813.2 1549.7 813.7 1553.1 813.6C1556.5 813.4 1560 813.2 1563.4 813.6C1566.8 814 1570.3 814.3 1573.7 815.8C1576.3 816.9 1578.8 818.2 1581.4 820.3C1584 822.3 1586.5 824.3 1589.1 828C1590.8 830.5 1592.5 834.4 1594.3 837C1596 839.6 1597.7 841.3 1599.4 843.4C1600.4 844.7 1601.5 846 1602.5 847.3"/>
<path class="c b" transform="translate(-0.4 1.5)" d="M1437.8 805.5C1438.5 807 1439.3 808.5 1440 810C1442.1 814.3 1444.3 818.6 1446.4 822.8C1448.6 827.1 1450.7 831.4 1452.9 835.7C1455 840 1457.1 844.1 1459.3 848.6C1461.4 853.1 1463.6 857.6 1465.7 862.7C1467.9 867.8 1470 873.8 1472.1 879.4C1472.7 881 1473.3 882.5 1473.9 884.1"/>
<path class="c b" transform="translate(-0.4 1.5)" d="M1435.1 838.6C1436.7 838.9 1438.4 839.2 1440 839.6C1444.3 840.4 1448.6 841.3 1452.9 842.1C1457.1 843 1461.4 843.6 1465.7 844.7C1470 845.8 1474.3 847.1 1478.6 848.6C1482.8 850.1 1487.1 852.2 1491.4 853.7C1495.7 855.2 1500 856.6 1504.3 857.6C1508.6 858.5 1512.8 858.9 1517.1 859.5C1521.4 860 1525.7 860.4 1530 860.8C1534.3 861.1 1538.6 861.3 1542.8 861.4C1548.8 861.6 1554.8 861.7 1560.8 861.7C1565.1 861.6 1569.4 861.9 1573.7 861.4C1576.3 861.1 1578.8 861 1581.4 860.1C1583.5 859.4 1585.7 858.8 1587.8 856.9C1590 855 1592.1 851.9 1594.3 848.6C1596 845.9 1597.7 842.8 1599.4 839.6C1600.7 837.1 1602 833.7 1603.3 831.8C1605 829.3 1606.7 828.6 1608.4 828C1611 827 1613.5 828.5 1616.1 829.3C1619.5 830.3 1623 832.9 1626.4 834.4C1630.2 836.1 1634.1 837.7 1638 838.9C1641.8 840.1 1645.7 840.6 1649.5 841.5C1651.2 841.8 1652.8 842.2 1654.4 842.6"/>
<path class="c b" transform="translate(-0.4 1.5)" d="M1435.1 840.9C1436.8 841.3 1438.4 841.7 1440 842.1C1444.3 843.2 1448.6 844.1 1452.9 845.3C1457.1 846.6 1461.4 848.2 1465.7 849.8C1470 851.4 1474.3 853.4 1478.6 855C1482.8 856.6 1487.1 858.2 1491.4 859.5C1495.7 860.8 1500 861.6 1504.3 862.7C1508.6 863.8 1512.8 865.1 1517.1 865.9C1521.4 866.8 1525.7 867.5 1530 867.8C1534.3 868.2 1538.6 867.9 1542.8 867.8C1548.8 867.7 1554.8 867.5 1560.8 867.2C1565.1 867 1569.4 866.6 1573.7 866.6C1576.3 866.5 1578.8 867.1 1581.4 866.6C1583.5 866.1 1585.7 865.1 1587.8 864C1590 862.9 1592.1 860.8 1594.3 860.1C1596 859.5 1597.7 858.4 1599.4 859.5C1600.7 860.3 1602 861.9 1603.3 864C1604.5 866 1605.8 869.1 1607.1 871.7C1608.4 874.3 1609.7 876.8 1611 879.4C1611.7 880.9 1612.5 882.4 1613.2 883.9"/>
<path class="c b" transform="translate(-0.4 1.5)" d="M1485.6 883.2C1486.7 881.9 1487.8 880.7 1488.8 879.4C1491.4 876.4 1494 873.2 1496.6 870.4C1499.1 867.6 1501.7 864.5 1504.3 862.7C1506 861.5 1507.7 859.7 1509.4 860.1C1511.1 860.6 1512.8 862.7 1514.6 865.3C1516.3 867.8 1518 872.7 1519.7 875.5C1520.6 877 1521.4 878.1 1522.3 879.4C1523.2 880.8 1524.1 882.2 1525 883.6"/>
<path class="c b" transform="translate(-0.4 1.5)" d="M1597 820.9C1598.7 821.1 1600.3 821.4 1602 821.6C1605.4 822 1608.8 822.4 1612.3 822.8C1616.5 823.4 1620.8 824 1625.1 824.8C1629.4 825.5 1633.7 826.7 1638 827.3C1641.8 827.9 1645.7 828.2 1649.5 828.6C1651.2 828.8 1652.8 829 1654.5 829.2"/>
<path class="c b" transform="translate(-0.4 1.5)" d="M1602.3 855.1C1603.9 854.7 1605.5 854.2 1607.1 853.7C1611.4 852.4 1615.7 851.2 1620 849.8C1624.2 848.4 1628.5 846.7 1632.8 845.3C1638.4 843.6 1644 842.3 1649.5 840.8C1651.1 840.4 1652.7 840 1654.4 839.5"/>
<path class="c b" transform="translate(-0.4 1.5)" d="M1615.1 783.3C1616.7 783.6 1618.3 784 1620 784.3C1624.2 785.1 1628.5 786.1 1632.8 786.9C1638.4 787.9 1644 788.6 1649.5 789.4C1651.2 789.7 1652.8 789.9 1654.5 790.2"/>
<path class="c b" transform="translate(-0.4 1.5)" d="M1581.5 882.1C1582.7 881 1584 879.9 1585.3 878.8C1587 877.3 1588.7 874.8 1590.4 874.3C1592.5 873.6 1594.7 875.6 1596.8 876.8C1598.1 877.6 1599.4 878.5 1600.7 879.4C1602.1 880.3 1603.5 881.3 1604.8 882.2"/>
<path class="c b" transform="translate(-0.4 1.5)" d="M1251.3 883.8C1252.1 882.3 1252.9 880.9 1253.7 879.4C1255.9 875.5 1258 872.1 1260.1 867.8C1262.3 863.6 1264.4 858.6 1266.6 853.7C1268.7 848.8 1270.8 843.8 1273 838.3C1275.1 832.7 1277.3 826.8 1279.4 820.3C1281.1 815 1282.8 809.6 1284.6 803.6C1286.3 797.6 1288 791 1289.7 784.3C1291 779.3 1292.3 773.6 1293.6 768.9C1295.7 760.9 1297.8 753.6 1300 747.8C1301.7 743.2 1303.4 738.7 1305.1 736.3C1306.8 733.8 1308.6 732.7 1310.3 733.1C1312.8 734 1315.4 735.5 1318 737.6C1320.6 739.6 1323.1 742.7 1325.7 745.3C1328.3 747.8 1330.8 750.6 1333.4 753C1336 755.3 1338.5 757 1341.1 759.4C1343.7 761.8 1346.3 765.8 1348.8 767.6C1351.4 769.4 1354 769.4 1356.5 770.1C1360.8 771.4 1365.1 772 1369.4 772.7C1373.7 773.5 1378 774.1 1382.3 774.6C1386.5 775.2 1390.8 775.6 1395.1 775.9C1399.1 776.2 1403.1 776.4 1407.1 776.3C1411.6 776.2 1416.2 775.8 1420.8 775.3C1426.8 774.6 1432.8 773.4 1438.8 772.5C1443.5 771.7 1448.2 771.1 1452.9 770.1C1457.1 769.2 1461.4 770.6 1465.7 766.9C1470 763.2 1474.3 752.3 1478.6 747.8C1482.8 743.4 1487.1 742.5 1491.4 740.1C1495.7 737.8 1500 735.4 1504.3 733.7C1508.6 732 1512.8 730.9 1517.1 729.8C1521.4 728.8 1525.7 727.9 1530 727.3C1534.3 726.6 1538.6 726.3 1542.8 726C1547.1 725.7 1551.4 725.2 1555.7 725.3C1557.4 725.4 1559.1 725.5 1560.8 725.7C1563.4 727.6 1566 729.8 1568.5 732.4C1571.1 735 1573.7 738.4 1576.3 741.4C1578.8 744.4 1581.4 747.6 1584 750.4C1586.5 753.2 1589.1 755.2 1591.7 758.1C1595.1 762 1598.5 768.2 1602 771.4C1604.5 773.8 1607.1 775.4 1609.7 776.6C1612.3 777.7 1614.8 779.6 1617.4 778.5C1619.1 777.8 1620.8 776.9 1622.5 774C1623.8 771.8 1625.1 768 1626.4 765C1627 763.5 1627.7 761.9 1628.4 760.4"/>
<path class="c b" transform="translate(-0.4 1.5)" d="M1225.7 789.7C1227.3 789.4 1228.9 789.1 1230.6 788.8C1234 788.1 1237.4 787.7 1240.9 786.9C1245.1 785.8 1249.4 784.5 1253.7 783C1258 781.5 1262.3 779.6 1266.6 777.9C1270.8 776.1 1275.1 774.4 1279.4 772.7C1282.8 771.4 1286.3 770 1289.7 768.9C1293.1 767.7 1296.6 766.7 1300 765.6C1306.8 763.5 1313.6 760.8 1320.3 759.5C1325.5 758.5 1330.6 758.4 1335.7 758C1340.1 757.6 1344.5 762 1348.8 756.8C1351.4 753.8 1354 746.8 1356.5 742.7C1359.1 738.6 1361.7 735.8 1364.3 732.4C1366.8 729 1369.4 725.1 1372 722.1C1374.5 719.1 1377.1 716.5 1379.7 714.4C1382.7 712 1385.7 710.6 1388.7 709.3C1391.7 707.9 1394.7 707.1 1397.7 706.4C1400.8 705.8 1403.9 705.3 1407.1 705.4C1409.9 705.5 1412.8 705.9 1415.7 706.7C1418.7 707.6 1421.7 708.6 1424.7 710.6C1427.7 712.5 1430.7 714.9 1433.7 718.3C1435.8 720.7 1438 724 1440.1 726.6C1442.6 729.7 1445.2 731.9 1447.7 735C1450.3 738.1 1452.9 742.1 1455.4 745.3C1458 748.5 1460.6 750.8 1463.1 754.3C1466.6 758.8 1470 765.3 1473.4 770.1C1476.4 774.4 1479.4 778 1482.4 781.7C1485.4 785.5 1488.4 787.8 1491.4 792.6C1493.6 796.1 1495.7 800.8 1497.8 804.8C1498.6 806.3 1499.4 807.8 1500.2 809.3"/>
<path class="c b" transform="translate(-0.4 1.5)" d="M1344.5 763.7C1346 764.6 1347.4 765.4 1348.8 766.3C1353.1 768.9 1357.4 771.6 1361.7 774C1366 776.4 1370.3 778.7 1374.5 780.4C1378.8 782.1 1383.1 783.4 1387.4 784.3C1391.7 785.2 1396 785.5 1400.3 785.8C1402.5 786 1404.8 786.2 1407.1 786.2C1409.9 786.2 1412.8 785.9 1415.7 785.6C1420 785 1424.2 784.2 1428.5 783C1432.4 781.9 1436.2 780.8 1440.1 778.9C1443.5 777.2 1446.9 774.4 1450.3 772.7C1454.6 770.6 1458.9 769.7 1463.1 768.2C1464.7 767.7 1466.3 767.1 1467.9 766.6"/>
<path class="c b" transform="translate(-0.4 1.5)" d="M1499.3 820.3C1500.9 820.3 1502.6 820.3 1504.3 820.3C1506.8 820.3 1509.4 820.6 1512 820.3C1515.4 819.9 1518.8 818.7 1522.3 817.7C1525.7 816.7 1529.1 815.8 1532.6 814.5C1535.1 813.5 1537.7 813.6 1540.3 811.3C1542 809.7 1543.7 807.4 1545.4 804.8C1547.1 802.3 1548.8 799.1 1550.5 795.9C1552.3 792.6 1554 788.6 1555.7 785.6C1557.4 782.6 1559.1 780 1560.8 777.9C1562.5 778.1 1564.3 778.9 1566 780.4C1567.7 781.9 1569.4 784.3 1571.1 786.9C1572.8 789.4 1574.5 793.3 1576.3 795.9C1578.8 799.8 1581.4 802.5 1584 804.8C1586.5 807.2 1589.1 809 1591.7 810C1594.3 811 1596.8 811.5 1599.4 810.6C1601.1 810 1602.8 809.5 1604.5 807.4C1606.3 805.4 1608 801.6 1609.7 798.4C1611.4 795.2 1613.1 791.6 1614.8 788.1C1616.5 784.7 1618.2 781.1 1620 777.9C1621.7 774.6 1623.4 772.2 1625.1 768.9C1627.7 763.9 1630.2 756.7 1632.8 751.7C1635.4 746.7 1638 742.7 1640.5 738.8C1643.5 734.4 1646.5 731.1 1649.5 727.3C1650.6 726 1651.6 724.6 1652.6 723.3"/>
<path class="c b" d="M1225.1 267.5C1226.7 267.7 1228.4 267.9 1230.1 268.1C1236.2 268.8 1242.4 269 1248.5 270.1C1255.4 271.3 1262.2 273.7 1269 275.3C1275.9 276.8 1282.7 278.6 1289.6 279.6C1296.4 280.7 1303.2 281.3 1310.1 281.7C1316.9 282.1 1323.8 282.2 1330.6 282.2C1337.4 282.1 1344.3 281.7 1351.1 281.4C1358 281.1 1364.8 280.7 1371.6 280.4C1378.5 280.1 1385.3 279.6 1392.2 279.4C1397.3 279.2 1402.4 278.9 1407.5 278.9C1414.4 278.8 1421.2 279.2 1428.1 279.6C1434.9 280.1 1441.7 280.7 1448.6 281.4C1455.4 282.1 1462.3 283 1469.1 284C1475.9 285 1482.8 286.2 1489.6 287.3C1496.5 288.4 1503.3 289.7 1510.1 290.7C1517 291.6 1523.8 292.5 1530.7 293.2C1535.8 293.7 1540.9 294.3 1546 294.5C1551.2 294.7 1556.3 294.7 1561.4 294.5C1564.9 294.3 1568.3 293.8 1571.7 293C1576.8 291.7 1582 289.4 1587.1 287.3C1592.2 285.2 1597.3 282.7 1602.5 280.4C1607.6 278.1 1612.7 275.5 1617.9 273.7C1623 271.9 1628.1 270.6 1633.3 269.6C1638.8 268.5 1644.4 268.3 1649.9 267.6C1651.6 267.4 1653.2 267.2 1654.9 267"/>
<path class="c b" d="M1225.6 336.1C1227.3 335.9 1228.9 335.7 1230.6 335.5C1234 335.1 1237.4 334.7 1240.9 334.3C1245.1 333.8 1249.4 333.4 1253.7 332.7C1256.7 332.1 1259.7 331.5 1262.7 330.7C1265.3 330.1 1267.8 329.3 1270.4 328.7C1274.3 327.7 1278.1 326.9 1282 325.9C1285.4 324.9 1288.8 323.8 1292.3 322.6C1296.6 321.1 1300.8 319.4 1305.1 317.5C1309.4 315.6 1313.7 313.2 1318 311.1C1322.3 308.9 1326.6 306.7 1330.8 304.6C1335.1 302.6 1339.4 300.6 1343.7 298.9C1349.6 296.4 1355.5 294.9 1361.4 292.5C1366.5 290.4 1371.6 287.4 1376.8 285.5C1381.9 283.6 1387 282 1392.2 280.9C1397.3 279.8 1402.4 279.1 1407.5 278.9C1412.7 279.5 1417.8 280.6 1422.9 282.2C1428.1 283.8 1433.2 286.5 1438.3 288.6C1447.4 292.3 1456.6 295 1465.7 298.9C1470 300.7 1474.3 302.9 1478.6 304.6C1482.8 306.4 1487.1 308 1491.4 309.1C1495.7 310.3 1500 311 1504.3 311.5C1508.6 311.9 1512.8 311.9 1517.1 312C1521.4 312 1525.7 311.9 1530 311.7C1534.3 311.6 1538.6 311.3 1542.8 311.1C1548.8 310.8 1554.8 310.6 1560.8 310.4C1563.4 310.6 1566 311.1 1568.5 311.7C1572 312.6 1575.4 314.2 1578.8 315.6C1582.3 317 1585.7 318.7 1589.1 320.1C1592.5 321.5 1596 322.7 1599.4 323.9C1602.8 325.1 1606.3 326.1 1609.7 327.1C1613.1 328.2 1616.5 329.4 1620 330.4C1623.4 331.3 1626.8 332.2 1630.2 332.9C1633.7 333.7 1637.1 334.3 1640.5 334.8C1643.5 335.3 1646.5 335.5 1649.5 335.9C1651.2 336.1 1652.8 336.3 1654.5 336.4"/>
<path class="c b" d="M1225.7 311.5C1227.3 311.9 1229 312.3 1230.6 312.7C1234 313.6 1237.4 314 1240.9 315.3C1244.3 316.6 1247.7 318.5 1251.1 320.7C1254.6 322.9 1258 325.8 1261.4 328.4C1264.4 330.7 1267.4 333.5 1270.4 335.5C1273.4 337.5 1276.4 339.2 1279.4 340.6C1282 341.8 1284.6 342.9 1287.1 343.6C1290.6 344.5 1294 344.3 1297.4 344.5C1302.1 344.7 1306.8 344.5 1311.6 344.5C1318 344.5 1324.4 344.4 1330.8 344.5C1339.4 344.6 1348 345.1 1356.5 345.4C1365.1 345.7 1373.7 346.2 1382.3 346.4C1390.5 346.6 1398.8 346.7 1407.1 346.7C1415.9 346.7 1424.8 347.6 1433.7 346.4C1435.8 346.1 1437.9 345.7 1440 345.4C1446.4 344.6 1452.9 345.1 1459.3 345.1C1465.7 345.2 1472.1 345.2 1478.6 345.6C1485 346.1 1491.4 347 1497.8 347.8C1504.3 348.7 1510.7 350.1 1517.1 350.9C1523.6 351.8 1530 352.3 1536.4 352.8C1544.6 353.5 1552.7 354.1 1560.8 354.1C1565.5 354.1 1570.3 354 1575 353.7C1579.3 353.5 1583.5 353.1 1587.8 352.6C1591.3 352.1 1594.7 351.6 1598.1 350.9C1601.1 350.3 1604.1 349.6 1607.1 349C1611.4 348.1 1615.7 347.3 1620 346.7C1624.2 346 1628.5 345.6 1632.8 345.1C1638.4 344.6 1644 344.3 1649.5 343.8C1651.2 343.7 1652.9 343.6 1654.5 343.5"/>
<path class="c b" d="M1225.6 365.1C1227.2 365.1 1228.9 365.1 1230.6 365.1C1234 365.1 1237.4 365.2 1240.9 365.1C1245.1 364.9 1249.4 364.4 1253.7 363.8C1258 363.2 1262.3 362.3 1266.6 361.6C1270.8 360.8 1275.1 360.1 1279.4 359.3C1281.6 358.9 1283.7 358.5 1285.8 358C1288.8 357.3 1291.8 356.2 1294.8 355.4C1298.3 354.5 1301.7 353.6 1305.1 352.8C1309.4 351.9 1313.7 351 1318 350.3C1322.3 349.5 1326.6 348.9 1330.8 348.3C1335.1 347.8 1339.4 347.4 1343.7 347.1C1348 346.7 1352.3 346.5 1356.5 346.4C1360.8 346.4 1365.1 346.6 1369.4 346.7C1382 346.9 1394.5 347.1 1407.1 347.1C1415.9 347 1424.8 347.7 1433.7 346.7C1435.8 346.4 1437.9 346 1440 345.8C1446.4 345.1 1452.9 346 1459.3 346.4C1465.7 346.8 1472.1 347.5 1478.6 348.3C1485 349.2 1491.4 350.4 1497.8 351.6C1504.3 352.7 1510.7 353.9 1517.1 355.4C1521.4 356.4 1525.7 357.7 1530 358.6C1534.3 359.5 1538.6 360.3 1542.8 360.8C1548.8 361.6 1554.8 361.8 1560.8 361.8C1565.5 361.9 1570.3 361.8 1575 361.6C1579.3 361.4 1583.5 361.4 1587.8 360.6C1590.8 360 1593.8 359.1 1596.8 358C1600.3 356.8 1603.7 354.9 1607.1 353.5C1611.4 351.8 1615.7 350.2 1620 349C1624.2 347.8 1628.5 347 1632.8 346.4C1638.4 345.6 1644 345.7 1649.5 345.4C1651.2 345.3 1652.9 345.2 1654.5 345.1"/>
<path class="c b" d="M1225.6 344.1C1227.3 344.2 1228.9 344.3 1230.6 344.5C1234 344.8 1237.4 345 1240.9 345.4C1245.1 345.9 1249.4 346.6 1253.7 347.4C1258 348.3 1262.3 348.8 1266.6 350.3C1270 351.4 1273.4 352.8 1276.8 354.8C1280.3 356.7 1283.7 359.2 1287.1 361.8C1290.6 364.5 1294 367.8 1297.4 370.8C1300.8 373.8 1304.3 376.8 1307.7 379.8C1311.1 382.8 1314.6 385.8 1318 388.8C1321.4 391.8 1324.8 394.8 1328.3 397.8C1331.7 400.8 1335.1 402.8 1338.5 406.8C1341 409.7 1343.5 413.8 1346 417.1C1351.1 423.8 1356.2 428.8 1361.4 435C1366.5 441.2 1371.6 447.8 1376.8 454.3C1381.9 460.7 1387 467.6 1392.2 473.5C1395.6 477.4 1399 481.9 1402.4 484.5C1404.1 485.8 1405.8 486.6 1407.5 487.6C1409 488.5 1410.4 489.3 1411.8 490.2"/>
<path class="c b" d="M1225.2 463.8C1226.8 463.4 1228.4 463.1 1230.1 462.7C1234.5 461.8 1238.9 462 1243.4 459.9C1247.7 457.8 1251.9 454.1 1256.2 450.4C1260.5 446.7 1264.8 442.1 1269 437.6C1273.3 433.1 1277.6 428.5 1281.9 423.5C1284.9 419.9 1287.9 416.2 1291 412.2C1293.6 408.9 1296.1 405.1 1298.7 401.7C1301.3 398.3 1303.8 395.2 1306.4 392.1C1309 388.9 1311.6 385.9 1314.1 383.1C1316.7 380.2 1319.3 377.4 1321.8 374.7C1324.4 372 1327 369.4 1329.6 367C1332.1 364.5 1334.7 362.2 1337.3 359.9C1339.8 357.7 1342.4 355.3 1345 353.5C1347.5 351.7 1350.1 350.1 1352.7 349C1355.3 347.9 1357.8 347.5 1360.4 347.1C1363.4 346.6 1366.4 346.6 1369.4 346.4C1371.1 346.3 1372.7 346.2 1374.4 346.1"/>
<path class="c b" d="M1435.1 345.7C1436.7 345.9 1438.4 346.2 1440 346.4C1444.3 347.1 1448.6 347.2 1452.9 348.3C1456.3 349.3 1459.7 350.4 1463.1 352.2C1466.6 354 1470 356.6 1473.4 359.3C1476.8 362 1480.3 365.1 1483.7 368.3C1487.1 371.5 1490.6 374.9 1494 378.6C1497.4 382.2 1500.8 386.3 1504.3 390.1C1507.7 394 1511.1 398.1 1514.6 401.7C1517.1 404.4 1519.7 405.4 1522.3 409.4C1524.2 412.4 1526.2 417.2 1528.1 420.9C1531.5 427.4 1534.9 432.9 1538.4 438.9C1541.8 444.8 1545.2 451.6 1548.6 456.8C1552.5 462.7 1556.3 466.7 1560.2 471.7C1561.2 473 1562.2 474.3 1563.2 475.6"/>
<path class="c b" d="M1402.9 489.4C1404.4 488.8 1406 488.2 1407.5 487.6C1411 486.3 1414.4 486.5 1417.8 483.7C1421.2 481 1424.6 475.3 1428.1 470.9C1431.5 466.5 1434.9 461.6 1438.3 457.3C1441.7 453.1 1445.2 449.3 1448.6 445.5C1452 441.8 1455.4 438 1458.8 435C1463.1 431.3 1467.4 428.6 1471.7 426C1475.9 423.4 1480.2 421.3 1484.5 419.4C1489.6 417.1 1494.7 415.3 1499.9 413.7C1505 412.2 1510.1 411.1 1515.3 410.1C1522.1 408.8 1528.9 408 1535.8 407.3C1540.9 406.8 1546 406.4 1551.2 406C1554.6 405.8 1558 405.5 1561.4 405.3C1563.4 404.6 1565.3 403.4 1567.3 401.7C1569.8 399.4 1572.4 395.5 1575 392.1C1577.5 388.6 1580.1 384.7 1582.7 381.1C1585.3 377.6 1587.8 373.5 1590.4 370.8C1593 368.2 1595.5 366.6 1598.1 365.4C1601.1 364.1 1604.1 364.4 1607.1 364.2C1611.4 363.8 1615.7 364.1 1620 364.2C1624.2 364.3 1628.5 364.6 1632.8 364.8C1638.4 365.1 1644 365.2 1649.5 365.4C1651.2 365.5 1652.9 365.6 1654.5 365.6"/>
<path class="c b" d="M1402.8 490.4C1404.4 489.9 1406 489.4 1407.5 488.9C1411 487.8 1414.4 487.9 1417.8 485.5C1421.2 483.2 1424.6 478.7 1428.1 474.8C1431.5 470.8 1434.9 466 1438.3 461.9C1441.7 457.9 1445.2 454.2 1448.6 450.7C1452 447.1 1455.4 443.6 1458.8 440.7C1463.1 437 1467.4 434.3 1471.7 431.7C1475.9 429.1 1480.2 426.9 1484.5 425C1489.6 422.8 1494.7 421.3 1499.9 419.9C1505 418.5 1510.1 417.6 1515.3 416.8C1522.1 415.7 1528.9 415.1 1535.8 414.5C1540.9 414.1 1546 413.7 1551.2 413.5C1554.6 413.3 1558 413.2 1561.4 413.2C1564.9 416.2 1568.3 419.5 1571.7 423C1575.1 426.5 1578.5 430.7 1582 434.2C1585.4 437.8 1588.8 441.5 1592.2 444.5C1595.6 447.5 1599.1 449.9 1602.5 452.2C1605.9 454.5 1609.3 456.6 1612.7 458.4C1616.2 460.1 1619.6 461.5 1623 462.5C1628.1 464 1633.3 464.2 1638.4 464.5C1642.2 464.7 1646.1 464.5 1649.9 464.5C1651.6 464.5 1653.3 464.5 1654.9 464.5"/>
<path class="c b" d="M1225.1 464.2C1226.8 464.5 1228.4 464.7 1230.1 465C1237.9 466.4 1245.8 468.1 1253.6 469.1C1262.2 470.2 1270.7 470.8 1279.3 471.2C1287.8 471.6 1296.4 471.4 1304.9 471.4C1313.5 471.5 1322 471 1330.6 471.7C1337.4 472.2 1344.3 473.2 1351.1 474.5C1358 475.8 1364.8 477.5 1371.6 479.6C1376.8 481.2 1381.9 483.4 1387 485C1392.2 486.7 1397.3 488.7 1402.4 489.6C1404.1 490 1405.8 490.2 1407.5 490.4C1411 490.8 1414.4 490 1417.8 490.4C1422.9 491.1 1428.1 493 1433.2 495.3C1438.3 497.6 1443.4 501.1 1448.6 504.3C1453.7 507.5 1458.8 511.5 1464 514.5C1469.1 517.5 1474.2 520.2 1479.4 522.2C1484.5 524.3 1489.6 526.1 1494.7 526.8C1498.2 527.4 1501.6 527.7 1505 527.4C1508.4 527 1511.8 526.3 1515.3 524.8C1518.7 523.3 1522.1 521.3 1525.5 518.4C1528.9 515.4 1532.4 511.3 1535.8 507.1C1539.2 502.9 1542.6 497.7 1546 493C1549.5 488.3 1552.9 483.2 1556.3 478.9C1558 476.7 1559.7 474.7 1561.4 472.7C1570 472.4 1578.5 471.7 1587.1 470.7C1595.6 469.6 1604.2 467.4 1612.7 466.3C1619.6 465.4 1626.4 464.6 1633.3 464.3C1638.8 464 1644.4 464.3 1649.9 464.3C1651.6 464.3 1653.3 464.3 1654.9 464.3"/>
<path class="c b" d="M1226.9 602.7C1228.1 601.6 1229.3 600.5 1230.6 599.4C1234 596.3 1237.4 593.1 1240.9 590.1C1245.1 586.5 1249.4 583.1 1253.7 579.8C1258 576.6 1262.3 573.6 1266.6 570.9C1270.8 568.1 1275.1 565.3 1279.4 563.1C1283.7 561 1288 559.4 1292.3 558C1296.6 556.6 1300.8 555.5 1305.1 554.8C1309.4 554 1313.7 553.6 1318 553.5C1322.3 553.4 1326.6 553.6 1330.8 554.1C1335.1 554.6 1339.4 555.4 1343.7 556.5C1348 557.5 1352.3 558.8 1356.5 560.2C1360.8 561.6 1365.1 563.3 1369.4 564.8C1373.7 566.3 1378 568 1382.3 569.3C1386.5 570.6 1390.8 571.8 1395.1 572.4C1399.1 573 1403.1 573.2 1407.1 573.2C1411.6 573.1 1416.2 572.7 1420.8 571.8C1425.1 570.8 1429.4 569 1433.7 567.6C1435.8 567 1437.9 566.3 1440 565.7C1444.3 564.6 1448.6 563.6 1452.9 563.4C1456.3 563.2 1459.7 563.3 1463.1 563.8C1466.6 564.3 1470 565 1473.4 566.4C1476.8 567.7 1480.3 569.9 1483.7 572.1C1487.1 574.4 1490.6 577.1 1494 579.8C1497.4 582.6 1500.8 586 1504.3 588.8C1507.7 591.7 1511.1 594.8 1514.6 597.2C1518 599.6 1521.4 601.5 1524.8 603C1528.3 604.5 1531.7 605.5 1535.1 606.2C1539.4 607.1 1543.7 607 1548 607.1C1552.3 607.3 1556.5 607 1560.8 607.1C1565.1 607.2 1569.4 607.3 1573.7 607.5C1578 607.7 1582.3 608.2 1586.5 608.1C1590 608.1 1593.4 608.2 1596.8 607.5C1600.3 606.7 1603.7 605 1607.1 603.6C1610.5 602.2 1614 600.4 1617.4 599.1C1620.8 597.9 1624.2 596.8 1627.7 596.3C1631.1 595.8 1634.5 595.6 1638 595.9C1641.8 596.2 1645.7 597.6 1649.5 598.5C1651.2 598.8 1652.8 599.2 1654.4 599.6"/>
<path class="c b" d="M1226.6 601.3C1227.9 602.3 1229.2 603.3 1230.6 604.3C1234 606.8 1237.4 609.2 1240.9 612C1244.3 614.8 1247.7 618.4 1251.1 621C1254.1 623.2 1257.1 625.4 1260.1 626.8C1263.6 628.3 1267 628.5 1270.4 629C1275.6 629.7 1280.7 629.1 1285.8 629.3C1292.3 629.7 1298.7 630.2 1305.1 631C1311.6 631.9 1318 633.6 1324.4 634.5C1327.8 635 1331.3 637.9 1334.7 635.8C1336.8 634.4 1339 631.8 1341.1 628.7C1343.7 625 1346.3 619.3 1348.8 614.6C1351.4 609.8 1354 604.9 1356.5 600.4C1359.1 595.9 1361.7 591.7 1364.3 587.6C1366.8 583.4 1369.4 579.2 1372 575.4C1374.5 571.5 1377.1 567.7 1379.7 564.4C1382.3 561.1 1384.8 557.9 1387.4 555.4C1390 553 1392.5 551.1 1395.1 549.6C1399.1 547.4 1403.1 547.7 1407.1 546.7C1408.7 546.3 1410.3 545.9 1411.9 545.5"/>
<path class="c b" d="M1226.9 602.2C1228.1 603.3 1229.3 604.4 1230.6 605.6C1234.9 609.4 1239.1 613.3 1243.4 617.1C1246.9 620.2 1250.3 623.7 1253.7 626.1C1257.1 628.6 1260.6 630.4 1264 631.9C1267.4 633.4 1270.8 634.4 1274.3 635.1C1279.4 636.3 1284.6 636 1289.7 636.4C1297 637 1304.3 637.6 1311.6 638.3C1318 638.9 1324.4 639.2 1330.8 640.3C1335.1 641 1339.4 641.8 1343.7 642.8C1348 643.9 1352.3 644.3 1356.5 646.7C1358.3 647.7 1360 649.2 1361.7 650.1C1365.1 652.1 1368.5 652.8 1372 654C1375.4 655.2 1378.8 656.2 1382.3 657.2C1385.7 658.2 1389.1 659.2 1392.5 659.8C1397.4 660.7 1402.2 661.2 1407.1 661.1C1410.8 661 1414.5 660.6 1418.2 659.8C1421.7 659 1425.1 658 1428.5 656.6C1432.4 655 1436.2 652.5 1440 650.5C1444.3 648.4 1448.6 646.4 1452.9 644.1C1457.1 641.9 1461.4 639.3 1465.7 637.1C1470 634.8 1474.3 632.6 1478.6 630.6C1482.8 628.7 1487.1 627 1491.4 625.5C1495.7 623.9 1500 622.3 1504.3 621.2C1507.7 620.4 1511.1 619.7 1514.6 619.4C1517.1 619.2 1519.7 618.8 1522.3 619.4C1524 619.9 1525.7 620.6 1527.4 621.6C1530 623.2 1532.6 626.2 1535.1 628.7C1538.6 632 1542 636.6 1545.4 639C1548.8 641.3 1552.3 641.6 1555.7 642.8C1557.4 643.5 1559.1 644.4 1560.8 644.8C1563.4 645.3 1566 644.9 1568.5 644.1C1571.1 643.4 1573.7 642.2 1576.3 640.3C1578.8 638.3 1581.4 635.3 1584 632.6C1586.5 629.8 1589.1 626.3 1591.7 623.6C1594.3 620.8 1596.8 618.2 1599.4 615.8C1602 613.5 1604.5 611.3 1607.1 609.4C1610.5 606.9 1614 604.9 1617.4 603C1620.8 601.1 1624.2 599.6 1627.7 597.8C1629.2 597.1 1630.7 596.4 1632.1 595.6"/>
<path class="c b" d="M1435.1 651.6C1436.7 651.3 1438.4 650.9 1440 650.5C1444.3 649.6 1448.6 648.4 1452.9 647.7C1457.1 647 1461.4 646.5 1465.7 646.4C1470 646.4 1474.3 646.9 1478.6 647.3C1482.8 647.7 1487.1 648.2 1491.4 648.9C1495.7 649.5 1500 650.5 1504.3 651.4C1508.6 652.4 1512.8 653.6 1517.1 654.6C1521.4 655.7 1525.7 657 1530 657.6C1533.4 658.1 1536.8 658.7 1540.3 658.5C1542.8 658.3 1545.4 658 1548 657.2C1550.5 656.5 1553.1 655 1555.7 654C1557.4 653.3 1559.1 652.5 1560.8 652.1C1563.4 651.4 1566 651.5 1568.5 651.2C1571.1 650.8 1573.7 650.3 1576.3 649.9C1577.9 649.6 1579.5 649.3 1581.2 649.1"/>
<path class="c b" d="M1225.7 650.8C1227.3 650.5 1228.9 650.2 1230.6 649.9C1234 649.3 1237.4 648.7 1240.9 648C1244.3 647.3 1247.7 645.9 1251.1 645.7C1253.7 645.5 1256.3 644.4 1258.9 646.1C1261.4 647.7 1264 652.7 1266.6 655.3C1269.1 657.9 1271.7 659.6 1274.3 661.7C1277.7 664.5 1281.1 667.9 1284.6 670.1C1288 672.3 1291.4 673.8 1294.8 674.8C1298.3 675.9 1301.7 676.1 1305.1 676.5C1308.6 676.9 1312 676.1 1315.4 677.1C1318 677.9 1320.6 679.9 1323.1 680.7C1326.6 681.8 1330 681.8 1333.4 682C1336.8 682.3 1340.3 682.3 1343.7 682.3C1347.1 682.2 1350.5 682.1 1354 681.6C1357.4 681.2 1360.8 680.6 1364.3 679.7C1367.7 678.9 1371.1 677.6 1374.5 676.5C1378 675.4 1381.4 674.1 1384.8 673C1388.3 672 1391.7 670.8 1395.1 670.1C1399.1 669.3 1403.1 668.5 1407.1 668.8C1410.8 669 1414.5 670.1 1418.2 671.4C1421.7 672.5 1425.1 674.4 1428.5 675.9C1432 677.4 1435.4 679.5 1438.8 680.4C1442.6 681.3 1446.5 680.6 1450.3 681C1453.7 681.4 1457.1 682.2 1460.6 682.5C1464.9 683 1469.1 683.2 1473.4 683.2C1477.7 683.1 1482 682.7 1486.3 682.3C1490.6 681.8 1494.8 681.1 1499.1 680.4C1503.4 679.6 1507.7 678.6 1512 677.8C1516.3 676.9 1520.6 676 1524.8 675.2C1529.1 674.5 1533.4 673.7 1537.7 673.3C1542 672.9 1546.3 672 1550.5 672.6C1554 673.2 1557.4 675.6 1560.8 675.9C1563.4 676.1 1566 675.6 1568.5 675.2C1572 674.7 1575.4 673.6 1578.8 672.6C1582.3 671.7 1585.7 670.8 1589.1 669.4C1592.5 668 1596 666 1599.4 664.3C1602.8 662.6 1606.3 660.6 1609.7 659.1C1613.1 657.6 1616.5 656.3 1620 655.3C1624.2 654 1628.5 653.4 1632.8 652.7C1638.4 651.8 1644 651.4 1649.5 650.8C1651.2 650.6 1652.8 650.4 1654.5 650.2"/>
<path class="c b" d="M1225.6 652.6C1227.3 652.3 1228.9 652.1 1230.6 651.8C1234 651.3 1237.4 650.8 1240.9 650.3C1245.1 649.7 1249.4 647.5 1253.7 648.6C1258 649.8 1262.3 654 1266.6 657.2C1270 659.8 1273.4 662.8 1276.8 665.6C1278.1 666.6 1279.4 667.7 1280.7 668.7"/>
<path class="c b" d="M1571.2 653.8C1572.4 652.7 1573.7 651.6 1575 650.5C1578 648 1581 645.2 1584 642.8C1587.4 640.2 1590.8 637.7 1594.3 635.8C1597.7 633.8 1601.1 632.4 1604.5 631.3C1607.1 630.4 1609.7 629.9 1612.3 629.3C1614.8 628.8 1617.4 629.2 1620 628.1C1621.7 627.3 1623.4 626.2 1625.1 624.8C1627.7 622.8 1630.2 619.6 1632.8 617.1C1635.4 614.7 1638 612.2 1640.5 610.1C1643.5 607.6 1646.5 605.8 1649.5 603.6C1650.9 602.7 1652.2 601.7 1653.6 600.7"/>
<path class="c b" d="M1607.4 654.1C1608.6 652.9 1609.8 651.7 1611 650.5C1613.1 648.4 1615.3 645.6 1617.4 644.1C1619.5 642.6 1621.7 641.8 1623.8 641.6C1626 641.3 1628.1 642.1 1630.2 642.8C1633.2 643.8 1636.2 645.9 1639.2 647.3C1642.7 648.9 1646.1 650.3 1649.5 651.8C1651.1 652.5 1652.6 653.2 1654.1 653.8"/>
<path class="c b" d="M1612.5 658.2C1614.2 657.8 1615.8 657.4 1617.4 657C1621.7 655.9 1626 654.7 1630.2 653.8C1633.7 653 1637.1 652.3 1640.5 651.8C1643.5 651.4 1646.5 651.1 1649.5 650.8C1651.2 650.6 1652.8 650.4 1654.5 650.2"/>
<path class="c b" d="M1226.2 654.8C1227.7 655.6 1229.1 656.4 1230.6 657.2C1234 659.1 1237.4 660.9 1240.9 663C1244.3 665.1 1247.7 668.1 1251.1 670.1C1254.6 672 1258 673.5 1261.4 674.6C1264.8 675.6 1268.3 675.7 1271.7 676.5C1275.1 677.2 1278.6 677.5 1282 679.1C1285.4 680.7 1288.8 683.2 1292.3 686.1C1294.8 688.4 1297.4 691.3 1300 693.8C1302.6 696.4 1305.1 699.4 1307.7 701.6C1311.1 704.4 1314.6 706.4 1318 708C1321.4 709.5 1324.8 710.3 1328.3 710.8C1331.7 711.4 1335.1 711.3 1338.5 711.2C1342 711.1 1345.4 710.7 1348.8 710.3C1353.1 709.8 1357.4 709.1 1361.7 708.6C1366.4 708.1 1371.1 707.7 1375.8 707.3C1381.4 706.9 1387 706.6 1392.5 706.4C1397.4 706.3 1402.2 706.4 1407.1 706.4C1411.6 706.5 1416.2 706.7 1420.8 707C1426.8 707.2 1432.8 707.7 1438.8 708C1443.5 708.2 1448.2 708.2 1452.9 708.6C1457.1 709.1 1461.4 710.1 1465.7 710.6C1470 711 1474.3 711.2 1478.6 711.2C1482.8 711.2 1487.1 711.1 1491.4 710.6C1494.8 710.1 1498.3 709.7 1501.7 708.6C1505.1 707.6 1508.6 706 1512 704.1C1515.4 702.3 1518.8 699.7 1522.3 697.7C1525.7 695.7 1529.1 693.8 1532.6 691.9C1536 690 1539.4 687.9 1542.8 686.1C1545.8 684.5 1548.8 682.8 1551.8 681.6C1554.8 680.5 1557.8 679.5 1560.8 679.1C1563.4 678.7 1566 678.9 1568.5 678.7C1572 678.4 1575.4 677.8 1578.8 677.1C1582.3 676.5 1585.7 675.4 1589.1 674.8C1592.5 674.3 1596 674.3 1599.4 673.9C1602.8 673.6 1606.3 673.2 1609.7 672.6C1613.1 672.1 1616.5 671.8 1620 670.7C1622.5 669.9 1625.1 668.7 1627.7 667.5C1630.7 666.1 1633.7 664.6 1636.7 663C1641 660.8 1645.2 658.3 1649.5 655.9C1651 655.1 1652.4 654.3 1653.9 653.5"/>
<path class="c b" d="M1225.6 681.6C1227.3 681.4 1228.9 681.2 1230.6 681C1234 680.6 1237.4 680 1240.9 679.7C1244.3 679.5 1247.7 679 1251.1 679.5C1254.6 679.9 1258 680.8 1261.4 682.3C1264.8 683.7 1268.3 685.9 1271.7 688.1C1275.1 690.2 1278.6 692.9 1282 695.1C1285.4 697.4 1288.8 699.6 1292.3 701.6C1295.7 703.5 1299.1 705 1302.6 706.7C1306 708.4 1309.4 710.3 1312.8 711.8C1316.3 713.3 1319.7 714.7 1323.1 715.7C1326.6 716.7 1330 717.6 1333.4 718C1336.8 718.4 1340.3 718.5 1343.7 718.3C1347.1 718.1 1350.5 717.5 1354 716.7C1357.4 716 1360.8 714.8 1364.3 713.8C1367.7 712.7 1371.1 711.5 1374.5 710.6C1378 709.6 1381.4 708.8 1384.8 708.2C1388.3 707.6 1391.7 707.3 1395.1 707C1399.1 706.6 1403.1 706.4 1407.1 706.4C1411.6 706.5 1416.2 707.2 1420.8 707.7C1426.8 708.4 1432.8 708.6 1438.8 709.9C1442.6 710.8 1446.5 712 1450.3 713.1C1453.7 714.1 1457.1 715.4 1460.6 716.3C1464 717.3 1467.4 718.4 1470.9 718.9C1474.3 719.4 1477.7 719.8 1481.1 719.6C1484.6 719.3 1488 718.5 1491.4 717.6C1494.8 716.8 1498.3 715.3 1501.7 714.4C1505.1 713.6 1508.6 712.8 1512 712.5C1516.3 712.1 1520.6 712.7 1524.8 712.9C1529.1 713.1 1533.4 713.4 1537.7 713.8C1542 714.1 1546.3 714.6 1550.5 715.1C1554 715.4 1557.4 715.9 1560.8 716.3C1562.5 716.5 1564.1 716.8 1565.8 717"/>
<path class="c b" d="M1225.7 685.9C1227.3 686.2 1228.9 686.5 1230.6 686.8C1234 687.4 1237.4 687.8 1240.9 688.7C1245.1 689.8 1249.4 691.5 1253.7 693.2C1258 694.9 1262.3 697.2 1266.6 699C1270.8 700.8 1275.1 702.5 1279.4 704.1C1282.8 705.5 1286.3 706.5 1289.7 708C1293.1 709.5 1296.6 711 1300 713.1C1303.4 715.3 1306.8 718.1 1310.3 720.8C1313.7 723.6 1317.1 727.1 1320.6 729.8C1324 732.6 1327.4 735.2 1330.8 737.6C1334.3 739.9 1337.7 742.3 1341.1 744C1344.5 745.7 1348 746.7 1351.4 747.8C1354.8 749 1358.3 750 1361.7 751.1C1365.1 752.1 1368.5 753.3 1372 754.3C1375.4 755.2 1378.8 756.1 1382.3 756.8C1386.5 757.7 1390.8 758.3 1395.1 758.8C1399.1 759.2 1403.1 759.4 1407.1 759.4C1411.6 759.4 1416.2 759.2 1420.8 758.8C1425.1 758.3 1429.4 758.2 1433.7 756.8C1435.8 756.2 1437.9 755 1440 754.3C1444.3 752.7 1448.6 751.9 1452.9 750.4C1457.1 748.9 1461.4 747.1 1465.7 745.3C1470 743.4 1474.3 741.4 1478.6 739.5C1482.8 737.6 1487.1 735.5 1491.4 733.7C1495.7 731.9 1500 730.1 1504.3 728.6C1508.6 727.1 1512.8 725.8 1517.1 724.7C1521.4 723.6 1525.7 722.9 1530 722.1C1534.3 721.4 1538.6 720.7 1542.8 720.2C1547.1 719.7 1551.4 719.3 1555.7 718.9C1557.4 718.8 1559.1 718.6 1560.8 718.5C1563.4 718.9 1566 718.8 1568.5 718.3C1571.1 717.7 1573.7 716.6 1576.3 715.1C1578.8 713.6 1581.4 711.4 1584 709.3C1586.5 707.1 1589.1 704.6 1591.7 702.2C1594.3 699.8 1596.8 697.4 1599.4 695.1C1602 692.9 1604.5 690.6 1607.1 688.7C1609.7 686.8 1612.3 685 1614.8 683.6C1617.4 682.2 1620 681.1 1622.5 680.4C1626 679.4 1629.4 679 1632.8 679.1C1635.4 679.1 1638 679.6 1640.5 680C1643.5 680.4 1646.5 681.1 1649.5 681.6C1651.2 681.9 1652.8 682.2 1654.4 682.5"/>
<path class="c b" d="M1435.1 757.8C1436.7 757.5 1438.4 757.2 1440 756.8C1444.3 756 1448.6 755.3 1452.9 754.3C1457.1 753.2 1461.4 751.7 1465.7 750.4C1470 749.1 1474.3 747.8 1478.6 746.6C1482.8 745.3 1487.1 744 1491.4 742.7C1495.7 741.4 1500 740.1 1504.3 738.8C1508.6 737.6 1512.8 736.1 1517.1 735C1521.4 733.9 1525.7 733.2 1530 732.4C1534.3 731.7 1538.6 731 1542.8 730.5C1547.1 729.9 1551.4 729.3 1555.7 729.2C1557.4 729.1 1559.1 729.1 1560.8 729.2C1562.5 730 1564.3 731.1 1566 732.4C1568.5 734.4 1571.1 737.6 1573.7 740.1C1576.3 742.7 1578.8 745.3 1581.4 747.8C1584 750.4 1586.5 753 1589.1 755.5C1591.3 757.7 1593.4 759.8 1595.5 762C1596.7 763.2 1597.9 764.3 1599.1 765.5"/>
<path class="c b" d="M1555.9 719.5C1557.5 719.3 1559.2 719.1 1560.8 718.9C1566 718.3 1571.1 719.2 1576.3 717C1579.7 715.5 1583.1 713.1 1586.5 710.6C1589.1 708.6 1591.7 705.9 1594.3 704.1C1597.7 701.8 1601.1 700.6 1604.5 699C1608 697.4 1611.4 695.9 1614.8 694.5C1618.2 693.1 1621.7 691.7 1625.1 690.6C1629 689.5 1632.8 688.8 1636.7 688.1C1641 687.3 1645.2 686.8 1649.5 686.1C1651.2 685.9 1652.8 685.6 1654.5 685.4"/>
<path class="c b" d="M1628.1 643.4C1629.7 643.9 1631.2 644.5 1632.8 645C1635.4 645.9 1638 646.5 1640.5 647.6C1643.5 648.8 1646.5 650.6 1649.5 652.1C1651 652.8 1652.5 653.6 1654 654.3"/>
<path class="c b" d="M1226.6 721.7C1227.9 722.7 1229.2 723.7 1230.6 724.7C1234 727.3 1237.4 730.4 1240.9 732.4C1245.1 734.9 1249.4 736.5 1253.7 736.9C1258 737.3 1262.3 736.4 1266.6 735C1270.8 733.6 1275.1 731.3 1279.4 728.6C1282.8 726.4 1286.3 723.4 1289.7 720.8C1291 719.8 1292.4 718.8 1293.7 717.8"/>
<path class="c b" d="M1225.9 854.2C1227.4 853.6 1229 853 1230.6 852.4C1234 851.1 1237.4 850.3 1240.9 848.6C1244.3 846.8 1247.7 844.6 1251.1 842.1C1254.6 839.7 1258 837.3 1261.4 833.8C1264.4 830.7 1267.4 827.2 1270.4 822.8C1272.6 819.8 1274.7 816.5 1276.8 812.6C1278.6 809.4 1280.3 805.9 1282 802.3C1283.7 798.6 1285.4 794.8 1287.1 790.7C1288.8 786.6 1290.6 783 1292.3 777.9C1293.6 774 1294.8 769.3 1296.1 765C1296.6 763.4 1297.1 761.8 1297.6 760.2"/>
<path class="c b" d="M1225.9 856.4C1227.4 857 1229 857.6 1230.6 858.2C1234 859.5 1237.4 860.7 1240.9 862.1C1244.3 863.4 1247.7 865.6 1251.1 866.6C1253.7 867.3 1256.3 868.4 1258.9 867.8C1260.6 867.4 1262.3 867 1264 865.3C1265.7 863.6 1267.4 860.1 1269.1 857.6C1270.1 856.2 1271 854.8 1271.9 853.4"/>
<path class="c b" d="M1225.7 865.3C1227.3 865.7 1229 866.1 1230.6 866.6C1234 867.4 1237.4 867.9 1240.9 869.1C1244.3 870.3 1247.7 871.9 1251.1 873.6C1254.1 875.1 1257.1 877 1260.1 878.8C1261.6 879.6 1263 880.4 1264.5 881.2"/>
<path class="c b" d="M1334.4 795.5C1334.9 793.9 1335.5 792.3 1336 790.7C1336.8 788.1 1337.7 784.8 1338.5 783C1340.3 779.4 1342 781.7 1343.7 781.7C1346.3 781.7 1348.8 783.2 1351.4 784.3C1354.8 785.8 1358.3 788.1 1361.7 790.1C1365.1 792 1368.5 794.1 1372 795.9C1375.4 797.6 1378.8 799.1 1382.3 800.4C1385.7 801.6 1389.1 802.7 1392.5 803.6C1397.4 804.7 1402.2 805.7 1407.1 805.5C1410.8 805.3 1414.5 804.6 1418.2 803.6C1421.7 802.6 1425.1 801.3 1428.5 799.7C1432 798.1 1435.4 795.7 1438.8 793.9C1442.6 792 1446.5 790.6 1450.3 788.8C1453.7 787.2 1457.1 784.9 1460.6 783.6C1464 782.4 1467.4 781.3 1470.9 781.1C1473.4 780.9 1476 781.5 1478.6 781.7C1480.2 781.8 1481.9 782 1483.5 782.1"/>
<path class="c b" d="M1261.7 880.4C1263.3 880.1 1264.9 879.7 1266.6 879.4C1270.8 878.5 1275.1 877.7 1279.4 876.8C1283.7 876 1288 875.2 1292.3 874.3C1296.6 873.3 1300.8 872.1 1305.1 871.1C1307.7 870.4 1310.3 870 1312.8 869.1C1316.3 867.9 1319.7 865.4 1323.1 864C1326.6 862.6 1330 861.4 1333.4 860.8C1336.8 860.1 1340.3 860.1 1343.7 860.1C1347.1 860.1 1350.5 860.2 1354 860.8C1357.4 861.3 1360.8 862.5 1364.3 863.3C1366.8 864 1369.4 865.2 1372 865.3C1373.7 865.3 1375.4 865.4 1377.1 864.6C1378.8 863.9 1380.5 862.1 1382.3 860.8C1384.8 858.8 1387.4 856.6 1390 855C1392.5 853.4 1395.1 852 1397.7 851.1C1400.8 850.1 1403.9 849.4 1407.1 849.8C1410.8 850.3 1414.5 852.7 1418.2 855C1421.7 857.1 1425.1 860.1 1428.5 862.7C1432 865.3 1435.4 867.8 1438.8 870.4C1440.1 871.4 1441.5 872.4 1442.8 873.4"/>
<path class="c b" d="M1359.4 862.1C1361 861.7 1362.7 861.2 1364.3 860.8C1368.1 859.7 1372 858.8 1375.8 857.6C1380.1 856.2 1384.4 854.2 1388.7 853.1C1394.8 851.4 1400.9 850.1 1407.1 850.1C1410.8 850.1 1414.5 850.5 1418.2 851.1C1421.7 851.7 1425.1 853.1 1428.5 853.7C1432 854.3 1435.4 854.7 1438.8 855C1443.5 855.4 1448.2 855.3 1452.9 855.6C1457.1 855.9 1461.4 856.6 1465.7 856.9C1470 857.2 1474.3 857.6 1478.6 857.6C1482.8 857.6 1487.1 857.3 1491.4 856.9C1495.7 856.5 1500 855.5 1504.3 855C1508.6 854.4 1512.8 854.1 1517.1 853.7C1521.4 853.3 1525.7 852.8 1530 852.4C1534.3 852 1538.6 851.6 1542.8 851.4C1547.1 851.1 1551.4 850.9 1555.7 850.9C1557.4 850.8 1559.1 850.8 1560.8 850.9C1563.4 851.2 1566 852.2 1568.5 853.7C1571.1 855.2 1573.7 858 1576.3 860.1C1578.8 862.3 1581.4 866.5 1584 866.6C1585.7 866.6 1587.4 865.9 1589.1 864C1590.8 862.1 1592.5 857.9 1594.3 855C1595.5 852.8 1596.8 850.9 1598.1 848.6C1599.4 846.2 1600.7 842.7 1602 840.8C1603.7 838.4 1605.4 838.1 1607.1 837.6C1609.7 836.9 1612.3 838.6 1614.8 839.6C1618.2 840.8 1621.7 843.1 1625.1 844.7C1629.4 846.7 1633.7 848.3 1638 849.8C1641.8 851.2 1645.7 852.4 1649.5 853.7C1651.1 854.2 1652.7 854.8 1654.3 855.3"/>
<path class="c b" d="M1365.1 881.3C1366.5 880.5 1368 879.6 1369.4 878.8C1371.5 877.5 1373.7 875.4 1375.8 874.9C1378 874.4 1380.1 875 1382.3 875.5C1384.8 876.2 1387.4 877.7 1390 878.8C1391.5 879.4 1393 880 1394.6 880.7"/>
<path class="c b" d="M1424.2 881.3C1425.7 880.4 1427.1 879.6 1428.5 878.8C1431.1 877.3 1433.7 875.1 1436.2 874.3C1437.8 873.8 1439.4 873.8 1441 873.6C1442.7 873.4 1444.3 873.2 1446 873"/>
<path class="c b" d="M1555.8 784.9C1557.5 784.9 1559.2 784.9 1560.8 784.9C1565.5 784.9 1570.3 784.7 1575 784.9C1579.3 785.1 1583.5 785.6 1587.8 786.2C1592.1 786.9 1596.4 787.8 1600.7 788.8C1605 789.7 1609.3 790.9 1613.5 792C1617.8 793.1 1622.1 794.5 1626.4 795.2C1630.7 796 1635 796.6 1639.2 796.5C1642.7 796.4 1646.1 795.6 1649.5 795.2C1651.2 795 1652.8 794.8 1654.5 794.6"/>
<path class="c b" d="M1491.7 780.7C1492.9 781.9 1494.1 783.1 1495.3 784.3C1497.4 786.4 1499.6 788.7 1501.7 790.7C1504.3 793.1 1506.8 795.2 1509.4 797.1C1512.8 799.7 1516.3 801.6 1519.7 803.6C1523.1 805.5 1526.6 806.9 1530 808.7C1533.4 810.5 1536.8 812.8 1540.3 814.5C1543.7 816.2 1547.1 818 1550.5 819C1554 820 1557.4 820 1560.8 820.5C1564.3 821.1 1567.7 821.1 1571.1 822.2C1573.7 823 1576.3 824 1578.8 825.4C1581.4 826.8 1584 828.1 1586.5 830.6C1588.7 832.6 1590.8 835 1593 838.3C1594.7 840.9 1596.4 844 1598.1 847.3C1599.4 849.7 1600.7 852.5 1602 855C1603.7 858.2 1605.4 860.8 1607.1 864C1608.8 867.2 1610.5 870.8 1612.3 874.3C1613 875.8 1613.7 877.2 1614.5 878.7"/>
<path class="c b" d="M1435.3 869.6C1436.9 869 1438.4 868.4 1440 867.8C1443.4 866.6 1446.9 865.1 1450.3 864C1453.7 862.9 1457.1 862 1460.6 861.4C1464.9 860.7 1469.1 860.4 1473.4 860.8C1476.8 861 1480.3 861.4 1483.7 862.7C1486.3 863.6 1488.8 865.1 1491.4 866.6C1494 868.1 1496.6 870 1499.1 871.7C1501.7 873.4 1504.3 875.4 1506.8 876.8C1508.6 877.8 1510.3 878.5 1512 879.4C1513.5 880.2 1515 880.9 1516.5 881.6"/>
<path class="c b" d="M1515.3 850.3C1515.9 851.9 1516.5 853.4 1517.1 855C1518.8 859.3 1520.6 864.2 1522.3 867.8C1524 871.5 1525.7 874.9 1527.4 876.8C1530 879.8 1532.6 878.6 1535.1 878.8C1538.6 879 1542 877.4 1545.4 876.8C1548.8 876.3 1552.3 875.5 1555.7 875.3C1559.1 875 1562.5 875.1 1566 875.3C1569.4 875.5 1572.8 875.8 1576.3 876.6C1578.8 877.1 1581.4 878 1584 878.8C1585.6 879.2 1587.2 879.7 1588.8 880.1"/>
<path class="c b" d="M1599.7 852.5C1601.3 852.9 1602.9 853.3 1604.5 853.7C1608 854.6 1611.4 855.6 1614.8 856.3C1619.1 857.1 1623.4 858 1627.7 858.2C1632 858.4 1636.2 857.9 1640.5 857.6C1643.5 857.3 1646.5 856.9 1649.5 856.5C1651.2 856.3 1652.8 856.1 1654.5 856"/>
<path class="c b" d="M1612.9 880.4C1614.4 879.6 1615.9 878.9 1617.4 878.1C1620.8 876.4 1624.2 874.6 1627.7 873C1631.1 871.4 1634.5 869.5 1638 868.5C1641.8 867.4 1645.7 867.6 1649.5 867.2C1651.2 867 1652.8 866.8 1654.5 866.6"/>
<path class="c b" d="M1261.8 774.1C1263.4 773.7 1265 773.2 1266.6 772.7C1270.8 771.4 1275.1 770.3 1279.4 768.9C1282.8 767.7 1286.3 766 1289.7 765C1294.8 763.4 1300 763.1 1305.1 762C1309.4 761 1313.7 759.5 1318 758.8C1322.3 758 1326.6 757.5 1330.8 757.5C1334.3 757.4 1337.7 757.9 1341.1 758.1C1342.8 758.2 1344.4 758.3 1346.1 758.4"/>
<path class="c b" d="M1225.7 791.4C1227.3 791.8 1229 792.2 1230.6 792.6C1234 793.5 1237.4 794.9 1240.9 795.2C1245.1 795.6 1249.4 794.9 1253.7 793.9C1258 793 1262.3 791.1 1266.6 789.4C1270.8 787.7 1275.1 785.4 1279.4 783.6C1283.7 781.9 1288 780.4 1292.3 779.1C1296.6 777.9 1300.8 776.7 1305.1 775.9C1309.4 775.2 1313.7 775.1 1318 774.6C1321.4 774.3 1324.8 774.6 1328.3 773.4C1330.4 772.6 1332.6 771.9 1334.7 770.1C1338.5 767.1 1342.2 759.6 1346 755.2C1347.8 753 1349.6 750.8 1351.4 749.1C1353.1 747.5 1354.8 746.3 1356.5 745.3C1358.3 744.2 1360 743.9 1361.7 742.7C1364.3 740.9 1366.8 737.3 1369.4 735C1372 732.6 1374.5 730.3 1377.1 728.6C1380.1 726.5 1383.1 725.2 1386.1 724.1C1389.1 722.9 1392.1 722.4 1395.1 721.9C1399.1 721.2 1403.1 720.9 1407.1 721.1C1410.8 721.3 1414.5 721.7 1418.2 722.8C1421.7 723.8 1425.1 725.4 1428.5 727.3C1432 729.1 1435.4 731.4 1438.8 733.7C1441.8 735.7 1444.7 737.8 1447.7 740.1C1450.3 742.1 1452.9 744.5 1455.4 746.6C1458.9 749.3 1462.3 751.2 1465.7 754.3C1468.3 756.6 1470.9 756.6 1473.4 762C1475.1 765.6 1476.8 773.1 1478.6 776.6C1482.8 785.3 1487.1 776.8 1491.4 777.2C1495.7 777.6 1500 778.4 1504.3 779.1C1508.6 779.9 1512.8 780.9 1517.1 781.7C1521.4 782.6 1525.7 783.5 1530 784.3C1534.3 785 1538.6 785.8 1542.8 786.2C1547.1 786.6 1551.4 786.8 1555.7 786.9C1557.4 786.9 1559.1 786.7 1560.8 786.9C1563.4 787.1 1566 786.8 1568.5 788.8C1570.3 790.1 1572 792.3 1573.7 794.6C1575.4 796.8 1577.1 799.7 1578.8 802.3C1580.5 804.8 1582.3 807.4 1584 810C1585.7 812.6 1587.4 815.7 1589.1 817.7C1590.8 819.7 1592.5 821.3 1594.3 822.2C1596 823.1 1597.7 823.7 1599.4 822.8C1600.7 822.2 1602 820.9 1603.3 819C1604.5 817.1 1605.8 813.8 1607.1 811.3C1608.8 807.8 1610.5 804.4 1612.3 801C1614 797.6 1615.7 794.1 1617.4 790.7C1618.1 789.2 1618.9 787.7 1619.6 786.2"/>
<path class="c b" d="M1577.9 744.3C1579 745.5 1580.2 746.7 1581.4 747.8C1584 750.4 1586.5 752.5 1589.1 755.5C1593 760.2 1596.8 768.8 1600.7 772.7C1603.7 775.7 1606.7 777.2 1609.7 778.5C1612.5 779.7 1615.3 782 1618 780.7C1619.7 779.9 1621.5 779.1 1623.2 775.9C1624.5 773.6 1625.7 769.5 1627 766.3C1627.7 764.7 1628.3 763.2 1628.9 761.6"/>
<path class="c b" d="M1296 712.1C1297.3 713.1 1298.7 714.1 1300 715.1C1303.4 717.6 1306.8 720 1310.3 722.8C1313.7 725.6 1317.1 729 1320.6 731.8C1324 734.6 1327.4 737.1 1330.8 739.5C1334.3 741.8 1337.7 744.2 1341.1 745.9C1344.5 747.6 1348 748.6 1351.4 749.8C1354.8 750.9 1358.3 751.9 1361.7 753C1365.1 754 1368.5 755.2 1372 756.2C1375.4 757.2 1378.8 758.1 1382.3 758.8C1386.5 759.6 1390.8 760.3 1395.1 760.7C1399.1 761.1 1403.1 761.3 1407.1 761.3C1411.6 761.4 1416.2 761.1 1420.8 760.7C1425.1 760.3 1429.4 760.1 1433.7 758.8C1435.8 758.1 1437.9 757 1440 756.2C1444.3 754.6 1448.6 753.8 1452.9 752.3C1457.1 750.8 1461.4 749 1465.7 747.2C1470 745.4 1474.3 743.3 1478.6 741.4C1482.8 739.5 1487.1 737.4 1491.4 735.6C1495.7 733.8 1500 732 1504.3 730.5C1508.6 729 1512.8 727.7 1517.1 726.6C1521.4 725.6 1525.7 724.8 1530 724.1C1534.3 723.3 1538.6 722.7 1542.8 722.1C1547.1 721.6 1551.4 721.3 1555.7 720.8C1557.4 720.7 1559.1 720.5 1560.8 720.3C1562.5 720.2 1564.1 720 1565.8 719.8"/>
<path class="c r" d="M1225.6 103.8C1227.3 103.6 1228.9 103.4 1230.6 103.3C1236.1 102.7 1241.7 101.9 1247.3 101.5C1253.7 100.9 1260.1 100.4 1266.6 100.2C1270.8 100 1275.1 99.9 1279.4 99.9C1283.7 100 1288 100.2 1292.3 100.4C1298.7 100.8 1305.1 101.5 1311.6 102.1C1318 102.7 1324.4 103.6 1330.8 104.3C1339.4 105.2 1348 106.1 1356.5 106.9C1365.1 107.6 1373.7 108.3 1382.3 108.7C1390.5 109 1398.8 109.1 1407.1 109C1411.6 109 1416.2 108.9 1420.8 108.8C1427.2 108.6 1433.6 108.4 1440 107.9C1446.4 107.3 1452.9 106.5 1459.3 105.6C1465.7 104.6 1472.1 103.5 1478.6 102.4C1485 101.2 1491.4 99.7 1497.8 98.5C1504.3 97.3 1510.7 96 1517.1 95C1523.6 94 1530 93.1 1536.4 92.5C1542 91.9 1547.5 91.4 1553.1 91.2C1555.7 91 1558.3 90.9 1560.8 90.9C1565.5 90.9 1570.3 91.2 1575 91.7C1581.4 92.4 1587.8 93.9 1594.3 95.3C1600.7 96.6 1607.1 98.5 1613.5 99.8C1620 101.1 1626.4 102.2 1632.8 103C1638.4 103.7 1644 103.9 1649.5 104.3C1651.2 104.4 1652.9 104.5 1654.5 104.7"/>
<path class="c r" d="M1225.6 105.8C1227.3 105.6 1228.9 105.5 1230.6 105.3C1236.1 104.8 1241.7 104.1 1247.3 103.6C1253.7 103.1 1260.1 102.7 1266.6 102.5C1270.8 102.4 1275.1 102.3 1279.4 102.4C1283.7 102.4 1288 102.5 1292.3 102.7C1298.7 103 1305.1 103.5 1311.6 104C1318 104.6 1324.4 105.3 1330.8 106C1339.4 106.8 1348 107.8 1356.5 108.4C1365.1 109 1373.7 109.5 1382.3 109.8C1390.5 110.1 1398.8 110.1 1407.1 110.1C1411.6 110 1416.2 109.9 1420.8 109.8C1427.2 109.7 1433.6 109.6 1440 109.2C1446.4 108.7 1452.9 107.9 1459.3 107.1C1465.7 106.3 1472.1 105.2 1478.6 104.3C1485 103.3 1491.4 102.1 1497.8 101.5C1504.3 100.8 1510.7 100.4 1517.1 100.2C1523.6 99.9 1530 99.9 1536.4 99.8C1544.6 99.7 1552.7 99.6 1560.8 99.8C1567.7 99.9 1574.5 100 1581.4 100.4C1587.8 100.9 1594.3 101.7 1600.7 102.4C1607.1 103 1613.5 103.8 1620 104.3C1624.2 104.6 1628.5 104.8 1632.8 104.9C1638.4 105.1 1644 105.2 1649.5 105.3C1651.2 105.3 1652.9 105.4 1654.5 105.4"/>
<path class="c r" d="M1225.6 111.7C1227.2 111.6 1228.9 111.5 1230.6 111.4C1236.1 110.9 1241.7 110.4 1247.3 110.1C1253.7 109.7 1260.1 109.5 1266.6 109.4C1273 109.4 1279.4 109.4 1285.8 109.7C1292.3 110 1298.7 110.5 1305.1 111.4C1311.6 112.2 1318 113.4 1324.4 114.6C1330.8 115.7 1337.3 117.2 1343.7 118.4C1350.1 119.6 1356.5 120.9 1363 121.6C1369.4 122.4 1375.8 122.7 1382.3 122.9C1390.5 123.3 1398.8 123.1 1407.1 123.2C1411.6 123.2 1416.2 123.2 1420.8 123.2C1427.2 123.1 1433.6 123.2 1440 122.7C1444.3 122.3 1448.6 121.7 1452.9 121C1457.1 120.3 1461.4 119.5 1465.7 118.4C1470 117.4 1474.3 115.9 1478.6 114.6C1482.8 113.3 1487.1 112 1491.4 110.7C1495.7 109.5 1500 108.2 1504.3 107.1C1508.6 106 1512.8 105.1 1517.1 104.3C1521.4 103.4 1525.7 102.6 1530 102.1C1534.3 101.6 1538.6 101.3 1542.8 101.1C1548.8 100.7 1554.8 100.6 1560.8 100.7C1567.7 100.7 1574.5 100.6 1581.4 101.5C1585.7 102 1590 102.7 1594.3 103.6C1598.5 104.5 1602.8 105.9 1607.1 106.9C1611.4 107.8 1615.7 108.7 1620 109.4C1624.2 110.1 1628.5 110.7 1632.8 111.1C1638.4 111.6 1644 111.7 1649.5 112C1651.2 112.1 1652.9 112.2 1654.5 112.3"/>
<path class="c r" d="M1225.7 158.9C1227.4 158.5 1229 158.1 1230.6 157.6C1236.1 156.1 1241.7 154.6 1247.3 153.1C1253.7 151.4 1260.1 149.5 1266.6 148C1273 146.5 1279.4 145.1 1285.8 144.1C1292.3 143.1 1298.7 142.5 1305.1 141.9C1311.6 141.4 1318 141 1324.4 140.9C1330.8 140.8 1337.3 140.9 1343.7 141.2C1350.1 141.5 1356.5 142.3 1363 142.8C1369.4 143.4 1375.8 144 1382.3 144.5C1386.5 144.8 1390.8 145.2 1395.1 145.4C1399.1 145.6 1403.1 145.7 1407.1 145.7C1411.6 145.6 1416.2 145.4 1420.8 145.2C1427.2 144.9 1433.6 144.3 1440 144.1C1446.4 143.9 1452.9 143.8 1459.3 143.9C1465.7 144 1472.1 144.2 1478.6 144.8C1485 145.4 1491.4 146.4 1497.8 147.3C1504.3 148.3 1510.7 149.4 1517.1 150.3C1523.6 151.2 1530 152.2 1536.4 152.9C1542 153.4 1547.5 153.9 1553.1 154.2C1555.7 154.3 1558.3 154.4 1560.8 154.4C1565.5 154.5 1570.3 154.1 1575 154.2C1581.4 154.2 1587.8 154.7 1594.3 155.1C1600.7 155.4 1607.1 155.9 1613.5 156.3C1620 156.8 1626.4 157.2 1632.8 157.6C1638.4 158 1644 158.5 1649.5 158.9C1651.2 159 1652.9 159.2 1654.5 159.3"/>
<path class="c r" d="M1225.7 157.1C1227.3 157.5 1229 157.9 1230.6 158.3C1234 159.1 1237.4 160.1 1240.9 160.8C1245.1 161.7 1249.4 162.2 1253.7 162.8C1258 163.3 1262.3 163.8 1266.6 164.1C1270.8 164.3 1275.1 164.2 1279.4 164.1C1283.7 163.9 1288 163.7 1292.3 163.2C1296.6 162.6 1300.8 161.9 1305.1 160.8C1309.4 159.8 1313.7 158.4 1318 157C1322.3 155.6 1326.6 153.9 1330.8 152.5C1335.1 151.1 1339.4 149.7 1343.7 148.6C1348 147.5 1352.3 146.4 1356.5 145.8C1360.8 145.2 1365.1 144.9 1369.4 144.8C1373.7 144.6 1378 144.7 1382.3 144.8C1386.5 144.9 1390.8 145.3 1395.1 145.4C1399.1 145.6 1403.1 145.6 1407.1 145.7C1411.6 145.7 1416.2 145.7 1420.8 145.7C1427.2 145.6 1433.6 145.5 1440 145.4C1444.3 145.4 1448.6 145.2 1452.9 145.4C1457.1 145.7 1461.4 146.2 1465.7 147C1470 147.7 1474.3 148.9 1478.6 149.9C1482.8 150.9 1487.1 152.1 1491.4 153.1C1495.7 154.2 1500 155.4 1504.3 156.3C1508.6 157.3 1512.8 158.1 1517.1 158.9C1521.4 159.7 1525.7 160.5 1530 161.1C1534.3 161.7 1538.6 162.1 1542.8 162.4C1548.8 162.8 1554.8 163.1 1560.8 163C1565.5 163 1570.3 162.7 1575 162.4C1579.3 162.1 1583.5 161.6 1587.8 161.1C1592.1 160.6 1596.4 159.9 1600.7 159.3C1605 158.7 1609.3 158 1613.5 157.6C1617.8 157.3 1622.1 157.2 1626.4 157.2C1630.7 157.3 1635 157.6 1639.2 158C1642.7 158.3 1646.1 158.9 1649.5 159.3C1651.2 159.5 1652.8 159.7 1654.5 159.9"/>
<path class="c r" d="M1225.7 158.3C1227.3 158.7 1229 159.2 1230.6 159.6C1234 160.4 1237.4 161.3 1240.9 162.1C1245.1 163.1 1249.4 164 1253.7 164.7C1258 165.4 1262.3 165.8 1266.6 166.2C1270.8 166.7 1275.1 166.9 1279.4 167.3C1283.7 167.6 1288 167.9 1292.3 168.2C1298.7 168.6 1305.1 168.9 1311.6 169.2C1318 169.5 1324.4 169.8 1330.8 170.1C1339.4 170.5 1348 170.8 1356.5 171.1C1365.1 171.5 1373.7 171.9 1382.3 172.2C1390.5 172.4 1398.8 172.7 1407.1 172.7C1411.6 172.6 1416.2 172.6 1420.8 172.4C1427.2 172.2 1433.6 171.6 1440 171.4C1446.4 171.1 1452.9 170.8 1459.3 170.9C1465.7 170.9 1472.1 171.1 1478.6 171.8C1482.8 172.2 1487.1 173 1491.4 173.7C1495.7 174.4 1500 175.3 1504.3 176C1508.6 176.8 1512.8 177.5 1517.1 178.2C1521.4 178.9 1525.7 179.6 1530 180.1C1534.3 180.7 1538.6 181.1 1542.8 181.4C1548.8 181.8 1554.8 182.2 1560.8 182.1C1565.5 182 1570.3 181.7 1575 181.2C1579.3 180.6 1583.5 179.9 1587.8 178.8C1592.1 177.8 1596.4 176.4 1600.7 175C1605 173.6 1609.3 172 1613.5 170.5C1617.8 169 1622.1 167.3 1626.4 166C1630.7 164.7 1635 163.7 1639.2 162.8C1642.7 162 1646.1 161.5 1649.5 160.8C1651.2 160.5 1652.8 160.2 1654.4 159.9"/>
<path class="c r" d="M1225.7 157.7C1227.3 158.1 1229 158.5 1230.6 158.9C1234 159.8 1237.4 160.7 1240.9 161.5C1245.1 162.4 1249.4 163 1253.7 163.7C1258 164.3 1262.3 164.8 1266.6 165.2C1270.8 165.6 1275.1 165.7 1279.4 166C1283.7 166.2 1288 166.5 1292.3 166.8C1293.9 166.9 1295.6 167 1297.3 167.1"/>
<path class="c r" d="M1225.7 309.2C1227.3 309.6 1229 310 1230.6 310.4C1234 311.3 1237.4 311.6 1240.9 313C1244.3 314.4 1247.7 316.5 1251.1 318.8C1254.6 321 1258 323.8 1261.4 326.5C1264.8 329.2 1268.3 331.8 1271.7 334.8C1275.1 337.8 1278.6 341.2 1282 344.5C1285.4 347.8 1288.8 351.3 1292.3 354.8C1295.7 358.2 1299.1 361.5 1302.6 365.1C1306 368.6 1309.4 372.3 1312.8 376C1316.3 379.6 1319.7 383.3 1323.1 386.9C1326.6 390.6 1330 394.3 1333.4 397.8C1336.8 401.4 1340.3 403.6 1343.7 408.1C1345.3 410.3 1346.9 413 1348.5 415.3C1353.7 422.4 1358.8 427 1363.9 433.2C1369.1 439.4 1374.2 446 1379.3 452.5C1384.5 459 1389.6 466.3 1394.7 472.2C1397.7 475.7 1400.7 480 1403.7 482C1405 482.8 1406.3 483.1 1407.5 483.7C1409.1 484.5 1410.6 485.2 1412.1 485.9"/>
<path class="c r" d="M1225.2 462.8C1226.8 462.4 1228.5 461.9 1230.1 461.4C1234.5 460.2 1238.9 460 1243.4 457.6C1247.7 455.2 1251.9 451.3 1256.2 447.3C1260.5 443.4 1264.8 438.7 1269 433.7C1272.5 429.7 1275.9 426.1 1279.3 420.9C1281.1 418.3 1282.8 415 1284.6 412.2C1287.1 408.1 1289.7 404.1 1292.3 400.4C1294.8 396.7 1297.4 393.3 1300 390.1C1302.6 386.9 1305.1 384 1307.7 381.1C1310.3 378.2 1312.8 375.4 1315.4 372.8C1318 370.1 1320.6 367.5 1323.1 365.1C1325.7 362.6 1328.3 360.2 1330.8 358C1333.4 355.7 1336 353.5 1338.5 351.6C1341.1 349.6 1343.7 348 1346.3 346.4C1348.8 344.9 1351.4 343.5 1354 342.3C1357.4 340.7 1360.8 339.3 1364.3 338.1C1367.7 336.8 1371.1 335.8 1374.5 334.8C1378 333.9 1381.4 333.1 1384.8 332.5C1388.3 331.9 1391.7 331.5 1395.1 331.2C1399.1 330.9 1403.1 330.7 1407.1 330.7C1411.6 330.8 1416.2 331 1420.8 331.6C1425.1 332.2 1429.4 333 1433.7 334.2C1435.8 334.8 1437.9 335.5 1440 336.1C1444.3 337.5 1448.6 338.7 1452.9 340.6C1457.1 342.6 1461.4 344.8 1465.7 347.7C1470 350.6 1474.3 354.1 1478.6 358C1482.8 361.8 1487.1 366.2 1491.4 370.8C1495.7 375.4 1500 380.6 1504.3 385.6C1507.7 389.6 1511.1 393.8 1514.6 397.8C1517.1 400.9 1519.7 403.2 1522.3 406.8C1525.1 410.8 1527.9 416.1 1530.7 420.9C1534.1 426.8 1537.5 432.9 1540.9 438.9C1544.3 444.8 1547.8 451.5 1551.2 456.8C1554.6 462.2 1558 466.2 1561.4 470.9C1562.4 472.3 1563.4 473.6 1564.4 475"/>
<path class="c r" d="M1402.9 485.7C1404.5 485.1 1406 484.4 1407.5 483.7C1411 482.3 1414.4 482.2 1417.8 479.4C1421.2 476.6 1424.6 471.4 1428.1 467.1C1431.5 462.8 1434.9 457.9 1438.3 453.7C1441.7 449.5 1445.2 445.6 1448.6 441.9C1452 438.3 1455.4 434.7 1458.8 431.7C1463.1 427.9 1467.4 424.9 1471.7 422.2C1475.9 419.5 1480.2 417.2 1484.5 415.3C1489.6 413 1494.7 411.6 1499.9 410.1C1505 408.7 1510.1 407.5 1515.3 406.5C1522.1 405.2 1528.9 404.5 1535.8 403.7C1540.9 403.2 1546 402.8 1551.2 402.4C1554.6 402.2 1558 401.9 1561.4 401.7C1562.9 401.3 1564.5 400.4 1566 399.1C1568.5 396.9 1571.1 392.5 1573.7 388.8C1576.3 385.2 1578.8 381.2 1581.4 377.3C1584 373.3 1586.5 369.1 1589.1 365.1C1591.7 361 1594.3 356.8 1596.8 352.8C1599.4 348.9 1602 344.9 1604.5 341.3C1607.1 337.6 1609.7 334.1 1612.3 331C1614.8 327.9 1617.4 325 1620 322.6C1622.5 320.3 1625.1 318.5 1627.7 316.9C1630.2 315.2 1632.8 314 1635.4 313C1638 312 1640.5 311.5 1643.1 311.1C1645.2 310.7 1647.4 310.6 1649.5 310.4C1651.2 310.3 1652.8 310.1 1654.5 309.9"/>
<path class="c r" d="M1402.9 488.1C1404.4 487.5 1406 486.9 1407.5 486.3C1411 485 1414.4 485 1417.8 482.5C1421.2 479.9 1424.6 475 1428.1 470.9C1431.5 466.9 1434.9 462.2 1438.3 458.1C1441.7 454 1445.2 450.2 1448.6 446.6C1452 442.9 1455.4 439.3 1458.8 436.3C1463.1 432.6 1467.4 429.9 1471.7 427.3C1475.9 424.8 1480.2 422.7 1484.5 420.9C1489.6 418.7 1494.7 417.1 1499.9 415.8C1505 414.4 1510.1 413.5 1515.3 412.7C1522.1 411.6 1528.9 411.2 1535.8 410.6C1540.9 410.2 1546 409.9 1551.2 409.6C1554.6 409.4 1558 409.3 1561.4 409.1C1564.9 412.4 1568.3 415.9 1571.7 419.6C1575.1 423.3 1578.5 427.4 1582 431.2C1585.4 434.9 1588.8 438.8 1592.2 441.9C1595.6 445.1 1599.1 447.7 1602.5 450.1C1605.9 452.6 1609.3 455 1612.7 456.8C1616.2 458.7 1619.6 460.1 1623 461.2C1628.1 462.7 1633.3 462.7 1638.4 463C1642.2 463.2 1646.1 463.1 1649.9 463.2C1651.6 463.3 1653.3 463.3 1654.9 463.3"/>
<path class="c r" d="M1225.1 462.6C1226.7 462.8 1228.4 463 1230.1 463.2C1237.9 464.2 1245.8 465.3 1253.6 466.1C1262.2 466.8 1270.7 467.3 1279.3 467.6C1287.8 467.8 1296.4 467.6 1304.9 467.6C1313.5 467.6 1322 467 1330.6 467.6C1337.4 468.1 1344.3 468.9 1351.1 470.2C1358 471.4 1364.8 473.1 1371.6 475.3C1376.8 477 1381.9 479.2 1387 481.2C1392.2 483.1 1397.3 485.8 1402.4 487.1C1404.1 487.5 1405.8 487.9 1407.5 488.1C1411 488.6 1414.4 487.9 1417.8 488.4C1422.9 489.1 1428.1 490.9 1433.2 493.2C1438.3 495.5 1443.4 499 1448.6 502.2C1453.7 505.4 1458.8 509.5 1464 512.5C1469.1 515.5 1474.2 518.1 1479.4 520.2C1484.5 522.2 1489.6 524 1494.7 524.8C1498.2 525.3 1501.6 525.6 1505 525.3C1508.4 525 1511.8 524.2 1515.3 522.7C1518.7 521.2 1522.1 519.3 1525.5 516.3C1528.9 513.4 1532.4 509.3 1535.8 505C1539.2 500.8 1542.6 495.6 1546 490.9C1549.5 486.2 1552.9 481 1556.3 476.8C1558 474.7 1559.7 472.8 1561.4 470.9C1570 470.4 1578.5 469.5 1587.1 468.4C1595.6 467.2 1604.2 465.1 1612.7 464C1619.6 463.1 1626.4 462.5 1633.3 462.2C1638.8 462 1644.4 462.2 1649.9 462.2C1651.6 462.2 1653.3 462.2 1654.9 462.2"/>
<path class="c r" d="M1225.1 463.8C1226.8 464 1228.4 464.3 1230.1 464.5C1237.9 465.6 1245.8 467 1253.6 467.8C1262.2 468.8 1270.7 469.3 1279.3 469.6C1287.8 469.9 1296.4 469.6 1304.9 469.6C1313.5 469.7 1322 469.2 1330.6 469.9C1337.4 470.5 1344.3 471.4 1351.1 472.7C1358 474 1364.8 475.7 1371.6 477.8C1376.8 479.5 1381.9 481.8 1387 483.5C1392.2 485.2 1397.3 487.1 1402.4 488.1C1404.1 488.4 1405.8 488.6 1407.5 488.9C1409.2 489.1 1410.8 489.4 1412.5 489.6"/>
<path class="c r" d="M1226.8 603.7C1228.1 602.6 1229.3 601.5 1230.6 600.4C1234 597.4 1237.4 594.3 1240.9 591.4C1245.1 587.8 1249.4 584.3 1253.7 581.1C1258 577.9 1262.3 574.9 1266.6 572.1C1270.8 569.4 1275.1 566.6 1279.4 564.4C1283.7 562.3 1288 560.7 1292.3 559.3C1296.6 557.9 1300.8 556.8 1305.1 556.1C1309.4 555.3 1313.7 554.9 1318 554.8C1322.3 554.7 1326.6 554.9 1330.8 555.4C1335.1 555.9 1339.4 556.8 1343.7 557.7C1348 558.7 1352.3 559.9 1356.5 561.2C1360.8 562.5 1365.1 564.2 1369.4 565.7C1373.7 567.2 1378 569 1382.3 570.2C1386.5 571.5 1390.8 572.5 1395.1 573.2C1399.1 573.8 1403.1 574.1 1407.1 574.1C1411.6 574 1416.2 573.7 1420.8 572.8C1425.1 571.9 1429.4 569.9 1433.7 568.9C1435.8 568.4 1437.9 568.1 1440 567.6C1443.4 566.9 1446.9 565.9 1450.3 565.5C1453.7 565 1457.1 564.7 1460.6 565.1C1464 565.4 1467.4 566.2 1470.9 567.6C1474.3 569 1477.7 571.2 1481.1 573.4C1484.6 575.7 1488 578.1 1491.4 581.1C1494.8 584.1 1498.3 587.8 1501.7 591.4C1505.1 595.1 1508.6 598.9 1512 603C1515.4 607.1 1518.8 611.6 1522.3 615.8C1525.7 620.1 1529.1 624.6 1532.6 628.7C1536 632.8 1539.4 636.4 1542.8 640.3C1545.8 643.7 1548.8 647.4 1551.8 650.5C1554 652.8 1556.1 654.8 1558.3 657C1559.4 658.2 1560.6 659.3 1561.8 660.5"/>
<path class="c r" d="M1435.1 569.8C1436.7 569.5 1438.4 569.2 1440 568.9C1443.4 568.3 1446.9 567.4 1450.3 567C1453.7 566.6 1457.1 566.4 1460.6 566.7C1464 567.1 1467.4 567.9 1470.9 569.3C1474.3 570.7 1477.7 573 1481.1 575.4C1484.6 577.7 1488 580.3 1491.4 583.4C1494.8 586.6 1498.3 590.3 1501.7 594C1505.1 597.7 1508.6 601.5 1512 605.6C1515.4 609.6 1518.8 614.1 1522.3 618.4C1525.7 622.7 1529.1 627.2 1532.6 631.3C1536 635.3 1539.4 638.9 1542.8 642.8C1545.8 646.2 1548.8 649.7 1551.8 653.1C1552.9 654.4 1554 655.6 1555.1 656.9"/>
<path class="c r" d="M1227.8 712.8C1228.7 714.2 1229.6 715.6 1230.6 717C1232.3 719.6 1234 722.6 1235.7 724.7C1238.3 727.9 1240.9 729.5 1243.4 731.1C1246.9 733.3 1250.3 734.6 1253.7 735C1258 735.5 1262.3 734.1 1266.6 732.4C1270.8 730.7 1275.1 728.2 1279.4 724.7C1282.8 721.9 1286.3 718.3 1289.7 714.4C1293.1 710.6 1296.6 706.1 1300 701.6C1303.4 697.1 1306.8 692.3 1310.3 687.4C1313.7 682.5 1317.1 677.1 1320.6 672C1324 666.9 1327.4 664.4 1330.8 656.6C1332.6 652.7 1334.3 646.8 1336 642.8C1338.5 636.8 1341.1 633.4 1343.7 628.7C1346.3 624 1348.8 619.3 1351.4 614.6C1354 609.8 1356.5 604.9 1359.1 600.4C1361.7 595.9 1364.3 591.8 1366.8 587.6C1369.4 583.3 1372 578.8 1374.5 574.7C1377.1 570.6 1379.7 566.6 1382.3 563.1C1384.8 559.7 1387.4 556.6 1390 554.1C1392.5 551.7 1395.1 549.7 1397.7 548.4C1400.8 546.7 1403.9 546.5 1407.1 546.2C1411.6 545.7 1416.2 546.7 1420.8 547.5C1425.1 548.1 1429.4 549.1 1433.7 550.3C1435.8 550.9 1437.9 551.6 1440 552.2C1444.3 553.5 1448.6 554.6 1452.9 556.1C1457.1 557.6 1461.4 559.3 1465.7 561.2C1470 563.1 1474.3 565 1478.6 567.6C1482.8 570.3 1487.1 573.5 1491.4 577.3C1495.7 581 1500 585.4 1504.3 590.1C1508.6 594.8 1512.8 600.2 1517.1 605.6C1521.4 610.9 1525.7 616.9 1530 622.3C1534.3 627.6 1538.6 632.7 1542.8 637.7C1546.3 641.7 1549.7 646 1553.1 649.3C1555.7 651.7 1558.3 653.5 1560.8 655.7C1562.1 656.8 1563.4 657.8 1564.7 658.9"/>
<path class="c r" d="M1227.6 716.2C1228.6 717.5 1229.6 718.9 1230.6 720.2C1232.3 722.6 1234 725.3 1235.7 727.3C1238.3 730.2 1240.9 732.1 1243.4 733.7C1246.9 735.8 1250.3 736.9 1253.7 737.3C1258 737.8 1262.3 736.7 1266.6 735C1270.8 733.3 1275.1 730.7 1279.4 727.3C1282.8 724.5 1286.3 721 1289.7 717.2C1293.1 713.5 1296.6 709.2 1300 704.8C1303.4 700.3 1306.8 695.6 1310.3 690.6C1313.7 685.7 1317.1 680.4 1320.6 675.2C1324 670.1 1327.4 665.6 1330.8 659.8C1333.8 654.7 1336.8 648.4 1339.8 642.8C1342.4 638.1 1345 633.4 1347.5 628.7C1350.1 624 1352.7 619.3 1355.3 614.6C1357.8 609.8 1360.4 604.9 1363 600.4C1365.5 595.9 1368.1 591.8 1370.7 587.6C1373 583.7 1375.4 579.7 1377.8 576C1380.1 572.2 1382.5 568.4 1384.8 565.1C1387.2 561.7 1389.5 558.6 1391.9 556.1C1394.3 553.5 1396.6 551.1 1399 549.6C1401.7 547.9 1404.4 547.9 1407.1 547.1C1408.7 546.6 1410.2 546.1 1411.8 545.6"/>
<path class="c r" d="M1228.1 725.2C1228.9 723.7 1229.7 722.3 1230.6 720.8C1232.3 717.8 1234 714.3 1235.7 711.8C1238.3 708.1 1240.9 706 1243.4 704.1C1246.9 701.6 1250.3 700.9 1253.7 700.3C1257.1 699.6 1260.6 699.7 1264 700.3C1267.4 700.8 1270.8 702.2 1274.3 703.5C1277.7 704.8 1281.1 706 1284.6 708C1287.1 709.4 1289.7 711.3 1292.3 713.1C1294.8 715 1297.4 717.2 1300 718.9C1301.7 720.1 1303.4 721.1 1305.1 722.1C1306.8 722.1 1308.6 720.8 1310.3 718.3C1312 715.7 1313.7 710.8 1315.4 706.7C1317.1 702.6 1318.8 698.1 1320.6 693.8C1322.3 689.6 1324 685.3 1325.7 681C1327.4 676.7 1329.1 672.4 1330.8 668.1C1332.6 663.9 1334.3 659.7 1336 655.3C1337.3 652 1338.5 648.4 1339.8 645C1342 639.4 1344.1 633.8 1346.3 628.7C1348 624.6 1349.7 620.3 1351.4 617.1C1353.1 613.9 1354.8 612 1356.5 609.4C1359.1 605.6 1361.7 601.2 1364.3 597.8C1367.7 593.4 1371.1 590.6 1374.5 587.6C1378 584.6 1381.4 581.9 1384.8 579.8C1388.3 577.8 1391.7 576.3 1395.1 575.4C1399.1 574.2 1403.1 574.1 1407.1 574.1C1408.3 574.1 1409.6 574.1 1410.9 574.2C1413.8 574.5 1416.7 575.1 1419.5 576.4C1422.5 577.6 1425.4 579.4 1428.4 581.8C1431.3 584.1 1434.1 587.5 1437 590.5C1439.9 593.6 1442.9 597 1445.8 600.3C1448.7 603.6 1451.6 606.7 1454.5 610.2C1457.4 613.6 1460.3 617.4 1463.1 621.1C1466.1 625 1469.1 629 1472 633.1C1474.9 637 1477.8 641.1 1480.7 645.2C1483.6 649.1 1486.5 653.1 1489.4 657.1C1490.3 658.5 1491.3 659.8 1492.3 661.2"/>
<path class="c r" d="M1311.4 884.2C1311.9 882.6 1312.3 881 1312.8 879.4C1314.6 873.8 1316.3 869.7 1318 862.7C1319.3 857.5 1320.6 850.7 1321.8 844.7C1323.1 838.7 1324.4 832.7 1325.7 826.7C1327 820.7 1328.3 814.7 1329.6 808.7C1330.8 802.7 1332.1 795.9 1333.4 790.7C1334.7 785.6 1336 782.5 1337.3 777.9C1339.4 770.1 1341.5 760.3 1343.7 751.7C1344.5 748.2 1345.4 744.9 1346.3 741.4C1348 734.4 1349.7 727.1 1351.4 719.6C1353.1 712.1 1354.8 703.7 1356.5 696.4C1358.3 689.1 1360 682.7 1361.7 675.9C1363.4 669 1365.1 663.1 1366.8 655.3C1367.7 651.4 1368.5 646.7 1369.4 642.8C1371.1 635.2 1372.8 630 1374.5 623.6C1376.3 617.1 1378 610.5 1379.7 604.3C1381.4 598.1 1383.1 592.1 1384.8 586.3C1386.5 580.5 1388.3 574.3 1390 569.6C1391.7 564.9 1393.4 561.2 1395.1 558C1396.8 554.8 1398.5 552.2 1400.3 550.3C1402.5 547.8 1404.8 546 1407.1 546.2C1409.1 546.3 1411.1 547.7 1413.1 550.3C1414.9 552.6 1416.7 556.7 1418.5 560.1C1420.3 563.5 1422.2 567.2 1424 570.9C1425.8 574.4 1427.6 577.8 1429.4 581.8C1431.2 585.8 1433 590.4 1434.8 594.9C1436.6 599.4 1438.4 604 1440.3 609C1442.1 614.1 1443.9 619.7 1445.8 625.4C1447.6 631 1449.5 637 1451.3 642.8C1452.9 647.8 1454.5 652.6 1456.1 657.9C1457.6 662.8 1459.1 668.4 1460.6 673.3C1462.3 678.8 1464 683.6 1465.7 688.7C1467.4 693.8 1469.1 699 1470.9 704.1C1472.6 709.3 1474.3 714.4 1476 719.6C1477.7 724.7 1479.4 729.5 1481.1 735C1482.4 739.1 1483.7 741.1 1485 747.8C1486.3 754.6 1487.6 768.4 1488.8 775.3C1490.6 784.5 1492.3 785.4 1494 790.7C1495.7 796.1 1497.4 801.8 1499.1 807.4C1500.8 813 1502.6 818.6 1504.3 824.1C1506 829.7 1507.7 835.7 1509.4 840.8C1511.1 846 1512.8 850.3 1514.6 855C1516.3 859.7 1518 864.5 1519.7 869.1C1521 872.6 1522.3 876 1523.6 879.4C1524.1 881 1524.7 882.5 1525.3 884.1"/>
<path class="c r" d="M1451 640.4C1451.6 641.9 1452.2 643.5 1452.9 645C1454.6 649.3 1456.3 653.1 1458 657.9C1459.7 662.6 1461.4 668.1 1463.1 673.3C1464.9 678.4 1466.6 683.6 1468.3 688.7C1470 693.8 1471.7 699 1473.4 704.1C1475.1 709.3 1476.8 714.4 1478.6 719.6C1480.3 724.7 1482 729.5 1483.7 735C1485 739.1 1486.3 741.1 1487.6 747.8C1488.8 754.6 1490.1 768.4 1491.4 775.3C1493.1 784.5 1494.8 785.4 1496.6 790.7C1498.3 796.1 1500 801.8 1501.7 807.4C1503.4 813 1505.1 818.6 1506.8 824.1C1508.6 829.7 1510.3 835.7 1512 840.8C1513.7 846 1515.4 850.3 1517.1 855C1518.8 859.7 1520.6 864.5 1522.3 869.1C1523.6 872.6 1524.8 876 1526.1 879.4C1526.7 881 1527.3 882.5 1527.9 884.1"/>
<path class="c r" d="M1226.7 598.5C1228 599.6 1229.3 600.6 1230.6 601.7C1233.1 603.8 1235.7 605.6 1238.3 608.1C1240.9 610.7 1243.4 614.1 1246 617.1C1248.6 620.1 1251.1 622.9 1253.7 626.1C1256.3 629.3 1258.9 633 1261.4 636.4C1264 639.8 1266.6 643.3 1269.1 646.7C1271.7 650.1 1274.3 653 1276.8 657C1278.6 659.6 1280.3 662.9 1282 665.6C1284.6 669.5 1287.1 672.6 1289.7 675.9C1292.3 679.1 1294.8 682.1 1297.4 684.8C1300 687.6 1302.6 689.7 1305.1 692.6C1308.6 696.4 1312 701.3 1315.4 705.4C1318.8 709.5 1322.3 713.3 1325.7 717C1329.1 720.6 1332.6 724.3 1336 727.3C1339.4 730.3 1342.8 732.7 1346.3 735C1349.7 737.2 1353.1 739.2 1356.5 740.8C1360.8 742.8 1365.1 744.1 1369.4 745.3C1373.7 746.4 1378 747.2 1382.3 747.8C1386.5 748.5 1390.8 749.1 1395.1 749.4C1399.1 749.7 1403.1 749.8 1407.1 749.8C1411.6 749.7 1416.2 749.4 1420.8 749.1C1426.8 748.7 1432.8 748.5 1438.8 747.5C1443.5 746.6 1448.2 745.6 1452.9 744C1457.1 742.5 1461.4 740.3 1465.7 738.2C1470 736.1 1474.3 733.8 1478.6 731.1C1482.8 728.4 1487.1 725.3 1491.4 722.1C1495.7 718.9 1500 715.5 1504.3 711.8C1508.6 708.2 1512.8 704.1 1517.1 700.3C1521.4 696.4 1525.7 692.8 1530 688.7C1533.4 685.4 1536.8 682.1 1540.3 678.4C1543.3 675.2 1546.3 671.6 1549.3 668.1C1551.8 665.2 1554.4 662.2 1557 659.1C1559.1 656.6 1561.3 654 1563.4 651.4C1564.5 650.1 1565.5 648.9 1566.6 647.6"/>
<path class="c r" d="M1227 600.1C1228.2 601.3 1229.4 602.5 1230.6 603.6C1232.7 605.8 1234.9 607.6 1237 610.1C1239.4 612.7 1241.7 616.1 1244.1 619.1C1246.4 622.1 1248.8 624.8 1251.1 628.1C1253.5 631.3 1255.9 634.9 1258.2 638.3C1260.6 641.8 1262.9 645.2 1265.3 648.6C1267.2 651.4 1269.1 654.2 1271.1 657C1273 659.8 1274.9 662.8 1276.8 665.6C1279.4 669.2 1282 672.6 1284.6 675.9C1287.1 679.1 1289.7 682.1 1292.3 684.8C1294.8 687.6 1297.4 689.7 1300 692.6C1303.4 696.4 1306.8 701.3 1310.3 705.4C1313.7 709.5 1317.1 713.3 1320.6 717C1324 720.6 1327.4 724.3 1330.8 727.3C1334.3 730.3 1337.7 732.7 1341.1 735C1344.5 737.2 1348 739.1 1351.4 740.8C1355.7 742.8 1360 744.3 1364.3 745.5C1368.5 746.8 1372.8 747.6 1377.1 748.4C1381.4 749.1 1385.7 749.7 1390 750.2C1395.7 750.7 1401.4 751 1407.1 751.1C1411.6 751.1 1416.2 750.9 1420.8 750.7C1426.8 750.4 1432.8 749.6 1438.8 749.4C1443.5 749.2 1448.2 750.3 1452.9 749.1C1457.1 748.1 1461.4 745.4 1465.7 743.3C1470 741.3 1474.3 739.1 1478.6 736.9C1484.6 733.8 1490.6 731.8 1496.6 727.3C1500 724.7 1503.4 721.3 1506.8 718.3C1510.3 715.3 1513.7 712.5 1517.1 709.3C1520.6 706.1 1524 702.4 1527.4 699C1530.8 695.6 1534.3 692.1 1537.7 688.7C1541.1 685.3 1544.6 682.2 1548 678.4C1550.5 675.6 1553.1 672.6 1555.7 669.4C1557.4 667.3 1559.1 664.9 1560.8 663C1563.4 660.2 1566 658.7 1568.5 656.6C1569.8 655.5 1571.1 654.4 1572.4 653.4"/>
<path class="c r" d="M1226.9 599.4C1228.1 600.5 1229.3 601.6 1230.6 602.7C1232.9 604.9 1235.3 606.6 1237.6 609.2C1240.1 611.8 1242.5 615.2 1245 618.2C1247.5 621.2 1249.9 623.9 1252.4 627.2C1254.9 630.4 1257.4 634 1259.9 637.4C1262.3 640.8 1264.8 644.4 1267.2 647.7C1269.5 650.9 1271.7 653.6 1274 657C1275.8 659.7 1277.6 662.9 1279.4 665.6C1282 669.4 1284.6 672.6 1287.1 675.9C1289.7 679.1 1292.3 682.1 1294.8 684.8C1297.4 687.6 1300 690 1302.6 692.6C1303.7 693.7 1304.9 694.9 1306.1 696.1"/>
<path class="c r" d="M1479.5 640.9C1480.5 642.3 1481.5 643.6 1482.4 645C1484.6 648 1486.7 650.8 1488.8 654C1491 657.2 1493.1 660.9 1495.3 664.3C1497.4 667.7 1499.6 671.1 1501.7 674.6C1503.8 678 1506 681.5 1508.1 684.8C1509.8 687.5 1511.6 690.4 1513.3 692.6C1515 694.7 1516.7 696.8 1518.4 697.7C1519.7 698.4 1521 698.6 1522.3 698.3C1524.4 697.3 1526.6 695.8 1528.7 693.8C1531.3 691.5 1533.8 688.1 1536.4 684.8C1539 681.6 1541.6 678 1544.1 674.6C1546.7 671.1 1549.3 667.5 1551.8 664.3C1554 661.6 1556.1 658.6 1558.3 656.6C1560 654.9 1561.7 654 1563.4 652.7C1564.7 651.7 1566.1 650.7 1567.4 649.7"/>
<path class="c r" d="M1561.3 654.9C1562.9 654.3 1564.4 653.7 1566 653.1C1569.4 651.8 1572.8 652.1 1576.3 649.3C1578.8 647.1 1581.4 643.5 1584 640.3C1586.5 637.1 1589.1 633.4 1591.7 630C1594.3 626.6 1596.8 622.9 1599.4 619.7C1602 616.5 1604.5 613.3 1607.1 610.7C1609.7 608.1 1612.3 606 1614.8 604.3C1617.4 602.6 1620 601.4 1622.5 600.4C1626 599.2 1629.4 598.7 1632.8 598.5C1636.2 598.3 1639.7 598.4 1643.1 599.1C1645.2 599.6 1647.4 600.4 1649.5 601.1C1651.1 601.5 1652.7 602 1654.3 602.5"/>
<path class="c r" d="M1555.9 656.1C1557.5 656 1559.2 655.8 1560.8 655.7C1563.4 655.5 1566 655.6 1568.5 655C1571.8 654.4 1575 654.2 1578.2 651.6C1580.8 649.5 1583.3 645.8 1585.9 642.6C1588.5 639.4 1591 635.7 1593.6 632.3C1596.2 628.9 1598.8 625.2 1601.3 622C1603.9 618.8 1606.5 615.6 1609 613C1611.6 610.4 1614.2 608.3 1616.8 606.6C1619.3 604.9 1621.9 603.7 1624.5 602.7C1627.7 601.5 1630.9 600.9 1634.1 600.7C1637.3 600.4 1640.5 600.5 1643.7 601.2C1645.7 601.6 1647.6 602.4 1649.5 603C1651.1 603.5 1652.7 604 1654.3 604.5"/>
<path class="c r" d="M1555.9 651.9C1557.5 652.2 1559.2 652.4 1560.8 652.7C1563.4 653.1 1566 653.4 1568.5 654C1571.1 654.6 1573.7 655.3 1576.3 656.6C1578.8 657.9 1581.4 659.8 1584 661.7C1586.5 663.6 1589.1 665.8 1591.7 668.1C1594.3 670.5 1596.8 673.3 1599.4 675.9C1602 678.4 1604.5 681 1607.1 683.6C1609.7 686.1 1612.3 688.7 1614.8 691.3C1617.4 693.8 1620 696.4 1622.5 699C1625.1 701.6 1627.7 704.1 1630.2 706.7C1632.8 709.3 1635.4 712 1638 714.4C1640.5 716.9 1643.1 719.3 1645.7 721.5C1647 722.6 1648.2 723.6 1649.5 724.7C1650.8 725.8 1652.1 726.8 1653.4 727.9"/>
<path class="c r" d="M1555.9 654.2C1557.5 654.5 1559.2 654.8 1560.8 655C1563.4 655.5 1566 655.6 1568.5 656.3C1571.1 657 1573.7 657.8 1576.3 659.1C1578.8 660.5 1581.4 662.4 1584 664.3C1586.5 666.2 1589.1 668.4 1591.7 670.7C1594.3 673.1 1596.8 675.9 1599.4 678.4C1602 681 1604.5 683.6 1607.1 686.1C1609.7 688.7 1612.3 691.3 1614.8 693.8C1617.4 696.4 1620 699 1622.5 701.6C1625.1 704.1 1627.7 706.7 1630.2 709.3C1632.8 711.8 1635.4 714.6 1638 717C1640.5 719.4 1643.1 721.6 1645.7 723.7C1647 724.7 1648.2 725.7 1649.5 726.8C1650.8 727.8 1652.1 728.8 1653.4 729.9"/>
<path class="c r" d="M1487.1 737.6C1488.6 736.7 1490 735.8 1491.4 735C1495.7 732.4 1500 729.7 1504.3 727.3C1508.6 724.8 1512.8 721.9 1517.1 720.2C1521.4 718.5 1525.7 717.8 1530 717C1534.3 716.1 1538.6 715.5 1542.8 715.1C1548.8 714.4 1554.8 714.1 1560.8 714.2C1562.5 712.8 1564.3 711.2 1566 709.3C1568.5 706.4 1571.1 702.6 1573.7 699C1576.3 695.3 1578.8 691.3 1581.4 687.4C1584 683.6 1586.5 679.5 1589.1 675.9C1591.7 672.2 1594.3 668.8 1596.8 665.6C1599.4 662.4 1602 659.4 1604.5 656.6C1607.1 653.8 1609.7 651.4 1612.3 648.9C1613.5 647.6 1614.8 646.3 1616.1 645C1617.3 643.8 1618.5 642.6 1619.6 641.5"/>
<path class="c r" d="M1474.5 740.4C1475.8 739.5 1477.2 738.5 1478.6 737.6C1482.8 734.6 1487.1 731.8 1491.4 728.6C1495.7 725.3 1500 721 1504.3 718.3C1507.7 716.1 1511.1 713.4 1514.6 713.1C1516.3 713 1518 712.8 1519.7 713.8C1522.3 715.3 1524.8 719.6 1527.4 723.4C1530.4 727.8 1533.4 733.9 1536.4 738.8C1538.6 742.4 1540.7 745.9 1542.8 749.1C1545 752.3 1547.1 754.6 1549.3 758.1C1551.4 761.6 1553.5 766.6 1555.7 770.1C1557.4 773 1559.1 775.3 1560.8 777.9C1561.8 779.2 1562.7 780.6 1563.6 782"/>
<path class="c r" d="M1601.3 660.8C1602.4 659.5 1603.5 658.2 1604.5 657C1607.1 654 1609.7 651.2 1612.3 648C1614.8 644.8 1617.4 641.1 1620 637.7C1622.5 634.3 1625.1 630.6 1627.7 627.4C1630.2 624.2 1632.8 621.2 1635.4 618.4C1638 615.6 1640.5 613 1643.1 610.7C1645.2 608.8 1647.4 607.3 1649.5 605.6C1650.8 604.5 1652.1 603.5 1653.4 602.4"/>
<path class="c r" d="M1225.6 829.4C1227.3 829.2 1228.9 828.9 1230.6 828.6C1234 828.1 1237.4 827.8 1240.9 827C1245.1 825.9 1249.4 824.2 1253.7 822.2C1257.1 820.6 1260.6 818.9 1264 816.4C1266.6 814.6 1269.1 812.8 1271.7 810C1273.4 808.1 1275.1 806 1276.8 803.6C1278.6 801.1 1280.3 798.6 1282 795.2C1283.7 791.8 1285.4 787.4 1287.1 783C1288.8 778.6 1290.6 773.6 1292.3 768.9C1292.8 767.3 1293.4 765.7 1294 764.2"/>
<path class="c r" d="M1269.9 846.8C1270.5 845.2 1271.1 843.7 1271.7 842.1C1274.3 835.3 1276.8 826.3 1279.4 821.6C1282 816.8 1284.6 816.1 1287.1 813.8C1290.6 810.8 1294 808.7 1297.4 806.1C1300.8 803.6 1304.3 801.2 1307.7 798.4C1311.1 795.6 1314.6 792.6 1318 789.4C1321.4 786.2 1324.8 783.4 1328.3 779.1C1330.4 776.5 1332.6 774.1 1334.7 770.1C1335.5 768.6 1336.4 766.7 1337.3 765C1338 763.5 1338.8 762 1339.5 760.5"/>
<path class="c r" d="M1225.7 840.5C1227.3 840.2 1228.9 839.9 1230.6 839.6C1234 838.9 1237.4 838.1 1240.9 837.6C1245.1 837 1249.4 836.7 1253.7 836.3C1258 836 1262.3 835.7 1266.6 835.7C1270.8 835.7 1275.1 836.2 1279.4 836.3C1283.7 836.5 1288 836.7 1292.3 836.7C1296.6 836.8 1300.8 836.9 1305.1 836.7C1309.4 836.6 1313.7 836.1 1318 835.7C1322.3 835.3 1326.6 835.1 1330.8 834.4C1335.1 833.8 1339.4 832.8 1343.7 831.8C1348 830.9 1352.3 829.6 1356.5 828.6C1360.8 827.7 1365.1 826.8 1369.4 826.1C1373.7 825.4 1378 824.8 1382.3 824.4C1386.5 824 1390.8 823.6 1395.1 823.5C1399.1 823.4 1403.1 823.4 1407.1 823.5C1411.6 823.6 1416.2 823.9 1420.8 824.1C1426.8 824.5 1432.8 825 1438.8 825.4C1440.5 825.5 1442.1 825.7 1443.8 825.8"/>
<path class="c r" d="M1225.9 839.1C1227.4 839.7 1229 840.3 1230.6 840.8C1234 842.1 1237.4 843.3 1240.9 844.7C1244.3 846.1 1247.7 847.9 1251.1 849.2C1253.7 850.2 1256.3 851.2 1258.9 851.8C1261 852.2 1263.1 852.2 1265.3 852.4C1266.9 852.6 1268.6 852.7 1270.3 852.9"/>
<path class="c r" d="M1265.9 864.9C1267.4 864.2 1268.9 863.4 1270.4 862.7C1271.7 862.1 1273 861.2 1274.3 860.8C1277.7 859.6 1281.1 861.3 1284.6 861.4C1288 861.5 1291.4 861.8 1294.8 861.2C1298.3 860.5 1301.7 859.2 1305.1 857.6C1308.6 855.9 1312 853.3 1315.4 851.1C1318.8 849 1322.3 846.5 1325.7 844.7C1329.1 842.9 1332.6 841.4 1336 840.2C1339.4 839 1342.8 838.3 1346.3 837.6C1349.7 837 1353.1 836.7 1356.5 836.3C1360 836 1363.4 835.9 1366.8 835.7C1369.8 835.5 1372.8 836 1375.8 835.1C1378 834.4 1380.1 833.1 1382.3 831.8C1384.8 830.4 1387.4 827.9 1390 826.7C1392.5 825.5 1395.1 824.9 1397.7 824.4C1400.8 823.7 1403.9 823.4 1407.1 823.5C1410.8 823.6 1414.5 823.9 1418.2 825.4C1421.7 826.8 1425.1 829.3 1428.5 831.8C1431.1 833.8 1433.7 835.8 1436.2 838.3C1437.5 839.5 1438.8 840.8 1440.1 842.1C1441.3 843.3 1442.5 844.5 1443.6 845.7"/>
<path class="c r" d="M1341 884.2C1341.5 882.6 1341.9 881 1342.4 879.4C1343.3 876.4 1344.1 873.2 1345 870.4C1346.7 864.8 1348.4 860.6 1350.1 856.3C1352.3 850.9 1354.4 846.5 1356.5 842.1C1359.1 836.9 1361.7 832.5 1364.3 828C1366.8 823.5 1369.4 819.2 1372 815.1C1374.5 811.1 1377.1 807 1379.7 803.6C1382.3 800.1 1384.8 797 1387.4 794.6C1390 792.1 1392.5 790.2 1395.1 788.8C1399.1 786.6 1403.1 786.2 1407.1 786.2C1410.8 786.3 1414.5 786.8 1418.2 788.8C1420.8 790.2 1423.4 792.1 1426 794.6C1428.5 797 1431.1 799.8 1433.7 803.6C1435.8 806.7 1438 810.8 1440.1 814.5C1440.9 815.9 1441.8 817.4 1442.6 818.8"/>
<path class="c r" d="M1295.5 881.6C1297 880.9 1298.5 880.2 1300 879.4C1303.4 877.7 1306.8 876 1310.3 874.3C1313.7 872.5 1317.1 870.6 1320.6 869.1C1324 867.6 1327.4 867 1330.8 865.3C1335.1 863.1 1339.4 859.3 1343.7 856.9C1348 854.6 1352.3 853.2 1356.5 851.1C1359.1 849.9 1361.7 848.3 1364.3 847.3C1367.7 845.8 1371.1 845 1374.5 844.1C1378 843.2 1381.4 842.4 1384.8 841.9C1388.3 841.3 1391.7 841.1 1395.1 840.8C1399.1 840.6 1403.1 840.6 1407.1 840.6C1411.6 840.6 1416.2 840.6 1420.8 840.8C1425.1 841.1 1429.4 841.3 1433.7 842.1C1435.8 842.5 1438 843.2 1440.1 843.7C1441.7 844.1 1443.3 844.4 1445 844.8"/>
<path class="c r" d="M1261.9 881.3C1263.5 880.6 1265 880 1266.6 879.4C1270.8 877.7 1275.1 875.5 1279.4 874.3C1283.7 873 1288 872.3 1292.3 871.7C1296.6 871.1 1300.8 871.2 1305.1 870.4C1308.6 869.8 1312 869.1 1315.4 867.8C1318.8 866.6 1322.3 864.4 1325.7 862.7C1327.2 861.9 1328.7 861.2 1330.2 860.5"/>
<path class="c r" d="M1491.5 772.2C1492.3 773.7 1493.2 775.1 1494 776.6C1495.7 779.6 1497.4 783.1 1499.1 785.6C1501.7 789.3 1504.3 791.1 1506.8 793.3C1510.3 796.2 1513.7 797.9 1517.1 799.7C1521.4 802 1525.7 803.7 1530 804.8C1534.3 806 1538.6 806.5 1542.8 806.8C1547.1 807.1 1551.4 806.8 1555.7 806.8C1558.3 806.8 1560.8 806.6 1563.4 806.8C1566.8 807.1 1570.3 807.1 1573.7 808.7C1576.3 809.9 1578.8 811.5 1581.4 813.8C1584 816.2 1586.5 819 1589.1 822.8C1591.7 826.7 1594.3 832 1596.8 837C1598.5 840.3 1600.3 843.8 1602 847.3C1603.7 850.7 1605.4 853.9 1607.1 857.6C1608.8 861.2 1610.5 864.9 1612.3 869.1C1613.5 872.3 1614.8 876 1616.1 879.4C1616.7 881 1617.3 882.5 1617.9 884.1"/>
<path class="c r" d="M1435 825C1436.7 825.2 1438.3 825.3 1440 825.4C1444.3 825.8 1448.6 826.1 1452.9 826.4C1457.1 826.8 1461.4 827.1 1465.7 827.3C1470 827.6 1474.3 827.7 1478.6 827.7C1482.8 827.7 1487.1 827.7 1491.4 827.3C1493.6 827.2 1495.7 826.9 1497.8 826.7C1499.5 826.5 1501.2 826.4 1502.8 826.2"/>
<path class="c r" d="M1508.4 852.1C1509.6 850.9 1510.8 849.7 1512 848.6C1514.6 846 1517.1 844.1 1519.7 840.8C1522.3 837.6 1524.8 832.9 1527.4 829.3C1530 825.6 1532.6 821.5 1535.1 819C1537.7 816.5 1540.3 815.4 1542.8 814.5C1546.3 813.2 1549.7 813.7 1553.1 813.6C1556.5 813.4 1560 813.2 1563.4 813.6C1566.8 814 1570.3 814.3 1573.7 815.8C1576.3 816.9 1578.8 818.2 1581.4 820.3C1584 822.3 1586.5 824.3 1589.1 828C1590.8 830.5 1592.5 834.4 1594.3 837C1596 839.6 1597.7 841.3 1599.4 843.4C1600.4 844.7 1601.5 846 1602.5 847.3"/>
<path class="c r" d="M1437.8 805.5C1438.5 807 1439.3 808.5 1440 810C1442.1 814.3 1444.3 818.6 1446.4 822.8C1448.6 827.1 1450.7 831.4 1452.9 835.7C1455 840 1457.1 844.1 1459.3 848.6C1461.4 853.1 1463.6 857.6 1465.7 862.7C1467.9 867.8 1470 873.8 1472.1 879.4C1472.7 881 1473.3 882.5 1473.9 884.1"/>
<path class="c r" d="M1435.1 838.6C1436.7 838.9 1438.4 839.2 1440 839.6C1444.3 840.4 1448.6 841.3 1452.9 842.1C1457.1 843 1461.4 843.6 1465.7 844.7C1470 845.8 1474.3 847.1 1478.6 848.6C1482.8 850.1 1487.1 852.2 1491.4 853.7C1495.7 855.2 1500 856.6 1504.3 857.6C1508.6 858.5 1512.8 858.9 1517.1 859.5C1521.4 860 1525.7 860.4 1530 860.8C1534.3 861.1 1538.6 861.3 1542.8 861.4C1548.8 861.6 1554.8 861.7 1560.8 861.7C1565.1 861.6 1569.4 861.9 1573.7 861.4C1576.3 861.1 1578.8 861 1581.4 860.1C1583.5 859.4 1585.7 858.8 1587.8 856.9C1590 855 1592.1 851.9 1594.3 848.6C1596 845.9 1597.7 842.8 1599.4 839.6C1600.7 837.1 1602 833.7 1603.3 831.8C1605 829.3 1606.7 828.6 1608.4 828C1611 827 1613.5 828.5 1616.1 829.3C1619.5 830.3 1623 832.9 1626.4 834.4C1630.2 836.1 1634.1 837.7 1638 838.9C1641.8 840.1 1645.7 840.6 1649.5 841.5C1651.2 841.8 1652.8 842.2 1654.4 842.6"/>
<path class="c r" d="M1435.1 840.9C1436.8 841.3 1438.4 841.7 1440 842.1C1444.3 843.2 1448.6 844.1 1452.9 845.3C1457.1 846.6 1461.4 848.2 1465.7 849.8C1470 851.4 1474.3 853.4 1478.6 855C1482.8 856.6 1487.1 858.2 1491.4 859.5C1495.7 860.8 1500 861.6 1504.3 862.7C1508.6 863.8 1512.8 865.1 1517.1 865.9C1521.4 866.8 1525.7 867.5 1530 867.8C1534.3 868.2 1538.6 867.9 1542.8 867.8C1548.8 867.7 1554.8 867.5 1560.8 867.2C1565.1 867 1569.4 866.6 1573.7 866.6C1576.3 866.5 1578.8 867.1 1581.4 866.6C1583.5 866.1 1585.7 865.1 1587.8 864C1590 862.9 1592.1 860.8 1594.3 860.1C1596 859.5 1597.7 858.4 1599.4 859.5C1600.7 860.3 1602 861.9 1603.3 864C1604.5 866 1605.8 869.1 1607.1 871.7C1608.4 874.3 1609.7 876.8 1611 879.4C1611.7 880.9 1612.5 882.4 1613.2 883.9"/>
<path class="c r" d="M1485.6 883.2C1486.7 881.9 1487.8 880.7 1488.8 879.4C1491.4 876.4 1494 873.2 1496.6 870.4C1499.1 867.6 1501.7 864.5 1504.3 862.7C1506 861.5 1507.7 859.7 1509.4 860.1C1511.1 860.6 1512.8 862.7 1514.6 865.3C1516.3 867.8 1518 872.7 1519.7 875.5C1520.6 877 1521.4 878.1 1522.3 879.4C1523.2 880.8 1524.1 882.2 1525 883.6"/>
<path class="c r" d="M1597 820.9C1598.7 821.1 1600.3 821.4 1602 821.6C1605.4 822 1608.8 822.4 1612.3 822.8C1616.5 823.4 1620.8 824 1625.1 824.8C1629.4 825.5 1633.7 826.7 1638 827.3C1641.8 827.9 1645.7 828.2 1649.5 828.6C1651.2 828.8 1652.8 829 1654.5 829.2"/>
<path class="c r" d="M1602.3 855.1C1603.9 854.7 1605.5 854.2 1607.1 853.7C1611.4 852.4 1615.7 851.2 1620 849.8C1624.2 848.4 1628.5 846.7 1632.8 845.3C1638.4 843.6 1644 842.3 1649.5 840.8C1651.1 840.4 1652.7 840 1654.4 839.5"/>
<path class="c r" d="M1615.1 783.3C1616.7 783.6 1618.3 784 1620 784.3C1624.2 785.1 1628.5 786.1 1632.8 786.9C1638.4 787.9 1644 788.6 1649.5 789.4C1651.2 789.7 1652.8 789.9 1654.5 790.2"/>
<path class="c r" d="M1581.5 882.1C1582.7 881 1584 879.9 1585.3 878.8C1587 877.3 1588.7 874.8 1590.4 874.3C1592.5 873.6 1594.7 875.6 1596.8 876.8C1598.1 877.6 1599.4 878.5 1600.7 879.4C1602.1 880.3 1603.5 881.3 1604.8 882.2"/>
<path class="c r" d="M1251.3 883.8C1252.1 882.3 1252.9 880.9 1253.7 879.4C1255.9 875.5 1258 872.1 1260.1 867.8C1262.3 863.6 1264.4 858.6 1266.6 853.7C1268.7 848.8 1270.8 843.8 1273 838.3C1275.1 832.7 1277.3 826.8 1279.4 820.3C1281.1 815 1282.8 809.6 1284.6 803.6C1286.3 797.6 1288 791 1289.7 784.3C1291 779.3 1292.3 773.6 1293.6 768.9C1295.7 760.9 1297.8 753.6 1300 747.8C1301.7 743.2 1303.4 738.7 1305.1 736.3C1306.8 733.8 1308.6 732.7 1310.3 733.1C1312.8 734 1315.4 735.5 1318 737.6C1320.6 739.6 1323.1 742.7 1325.7 745.3C1328.3 747.8 1330.8 750.6 1333.4 753C1336 755.3 1338.5 757 1341.1 759.4C1343.7 761.8 1346.3 765.8 1348.8 767.6C1351.4 769.4 1354 769.4 1356.5 770.1C1360.8 771.4 1365.1 772 1369.4 772.7C1373.7 773.5 1378 774.1 1382.3 774.6C1386.5 775.2 1390.8 775.6 1395.1 775.9C1399.1 776.2 1403.1 776.4 1407.1 776.3C1411.6 776.2 1416.2 775.8 1420.8 775.3C1426.8 774.6 1432.8 773.4 1438.8 772.5C1443.5 771.7 1448.2 771.1 1452.9 770.1C1457.1 769.2 1461.4 770.6 1465.7 766.9C1470 763.2 1474.3 752.3 1478.6 747.8C1482.8 743.4 1487.1 742.5 1491.4 740.1C1495.7 737.8 1500 735.4 1504.3 733.7C1508.6 732 1512.8 730.9 1517.1 729.8C1521.4 728.8 1525.7 727.9 1530 727.3C1534.3 726.6 1538.6 726.3 1542.8 726C1547.1 725.7 1551.4 725.2 1555.7 725.3C1557.4 725.4 1559.1 725.5 1560.8 725.7C1563.4 727.6 1566 729.8 1568.5 732.4C1571.1 735 1573.7 738.4 1576.3 741.4C1578.8 744.4 1581.4 747.6 1584 750.4C1586.5 753.2 1589.1 755.2 1591.7 758.1C1595.1 762 1598.5 768.2 1602 771.4C1604.5 773.8 1607.1 775.4 1609.7 776.6C1612.3 777.7 1614.8 779.6 1617.4 778.5C1619.1 777.8 1620.8 776.9 1622.5 774C1623.8 771.8 1625.1 768 1626.4 765C1627 763.5 1627.7 761.9 1628.4 760.4"/>
<path class="c r" d="M1225.7 789.7C1227.3 789.4 1228.9 789.1 1230.6 788.8C1234 788.1 1237.4 787.7 1240.9 786.9C1245.1 785.8 1249.4 784.5 1253.7 783C1258 781.5 1262.3 779.6 1266.6 777.9C1270.8 776.1 1275.1 774.4 1279.4 772.7C1282.8 771.4 1286.3 770 1289.7 768.9C1293.1 767.7 1296.6 766.7 1300 765.6C1306.8 763.5 1313.6 760.8 1320.3 759.5C1325.5 758.5 1330.6 758.4 1335.7 758C1340.1 757.6 1344.5 762 1348.8 756.8C1351.4 753.8 1354 746.8 1356.5 742.7C1359.1 738.6 1361.7 735.8 1364.3 732.4C1366.8 729 1369.4 725.1 1372 722.1C1374.5 719.1 1377.1 716.5 1379.7 714.4C1382.7 712 1385.7 710.6 1388.7 709.3C1391.7 707.9 1394.7 707.1 1397.7 706.4C1400.8 705.8 1403.9 705.3 1407.1 705.4C1409.9 705.5 1412.8 705.9 1415.7 706.7C1418.7 707.6 1421.7 708.6 1424.7 710.6C1427.7 712.5 1430.7 714.9 1433.7 718.3C1435.8 720.7 1438 724 1440.1 726.6C1442.6 729.7 1445.2 731.9 1447.7 735C1450.3 738.1 1452.9 742.1 1455.4 745.3C1458 748.5 1460.6 750.8 1463.1 754.3C1466.6 758.8 1470 765.3 1473.4 770.1C1476.4 774.4 1479.4 778 1482.4 781.7C1485.4 785.5 1488.4 787.8 1491.4 792.6C1493.6 796.1 1495.7 800.8 1497.8 804.8C1498.6 806.3 1499.4 807.8 1500.2 809.3"/>
<path class="c r" d="M1344.5 763.7C1346 764.6 1347.4 765.4 1348.8 766.3C1353.1 768.9 1357.4 771.6 1361.7 774C1366 776.4 1370.3 778.7 1374.5 780.4C1378.8 782.1 1383.1 783.4 1387.4 784.3C1391.7 785.2 1396 785.5 1400.3 785.8C1402.5 786 1404.8 786.2 1407.1 786.2C1409.9 786.2 1412.8 785.9 1415.7 785.6C1420 785 1424.2 784.2 1428.5 783C1432.4 781.9 1436.2 780.8 1440.1 778.9C1443.5 777.2 1446.9 774.4 1450.3 772.7C1454.6 770.6 1458.9 769.7 1463.1 768.2C1464.7 767.7 1466.3 767.1 1467.9 766.6"/>
<path class="c r" d="M1499.3 820.3C1500.9 820.3 1502.6 820.3 1504.3 820.3C1506.8 820.3 1509.4 820.6 1512 820.3C1515.4 819.9 1518.8 818.7 1522.3 817.7C1525.7 816.7 1529.1 815.8 1532.6 814.5C1535.1 813.5 1537.7 813.6 1540.3 811.3C1542 809.7 1543.7 807.4 1545.4 804.8C1547.1 802.3 1548.8 799.1 1550.5 795.9C1552.3 792.6 1554 788.6 1555.7 785.6C1557.4 782.6 1559.1 780 1560.8 777.9C1562.5 778.1 1564.3 778.9 1566 780.4C1567.7 781.9 1569.4 784.3 1571.1 786.9C1572.8 789.4 1574.5 793.3 1576.3 795.9C1578.8 799.8 1581.4 802.5 1584 804.8C1586.5 807.2 1589.1 809 1591.7 810C1594.3 811 1596.8 811.5 1599.4 810.6C1601.1 810 1602.8 809.5 1604.5 807.4C1606.3 805.4 1608 801.6 1609.7 798.4C1611.4 795.2 1613.1 791.6 1614.8 788.1C1616.5 784.7 1618.2 781.1 1620 777.9C1621.7 774.6 1623.4 772.2 1625.1 768.9C1627.7 763.9 1630.2 756.7 1632.8 751.7C1635.4 746.7 1638 742.7 1640.5 738.8C1643.5 734.4 1646.5 731.1 1649.5 727.3C1650.6 726 1651.6 724.6 1652.6 723.3"/>
</g>
<rect class="fr" x="1229.8" y="39" width="420" height="841"/>
<text class="t" text-anchor="end" x="1220.2" y="49.6">2.0</text>
<text class="t" text-anchor="end" x="1220.2" y="154.7">1.5</text>
<text class="t" text-anchor="end" x="1220.2" y="259.9">1.0</text>
<text class="t" text-anchor="end" x="1220.2" y="365">0.5</text>
<text class="t" text-anchor="end" x="1220.2" y="470.1">0.0</text>
<text class="t" text-anchor="end" x="1220.2" y="575.2">-0.5</text>
<text class="t" text-anchor="end" x="1220.2" y="680.3">-1.0</text>
<text class="t" text-anchor="end" x="1220.2" y="785.5">-1.5</text>
<text class="t" text-anchor="end" x="1220.2" y="890.6">-2.0</text>
<text class="t" transform="translate(1161.3 521.3) rotate(-90)"><tspan class="i">E</tspan>-<tspan class="i">E</tspan><tspan class="s2" dy="5.3">F</tspan><tspan dy="-5.3"> (eV)</tspan></text>
<text class="tt" x="1386.2" y="20.7">htCrSe</text>
<text class="t" text-anchor="middle" x="1233.2" y="915.4">K</text>
<text class="t" text-anchor="middle" x="1406.7" y="915.4">Γ</text>
<text class="t" text-anchor="middle" x="1557.4" y="915.4">M</text>
<text class="t" text-anchor="middle" x="1648" y="915.4">K</text>
</g>
</svg></body></html>
